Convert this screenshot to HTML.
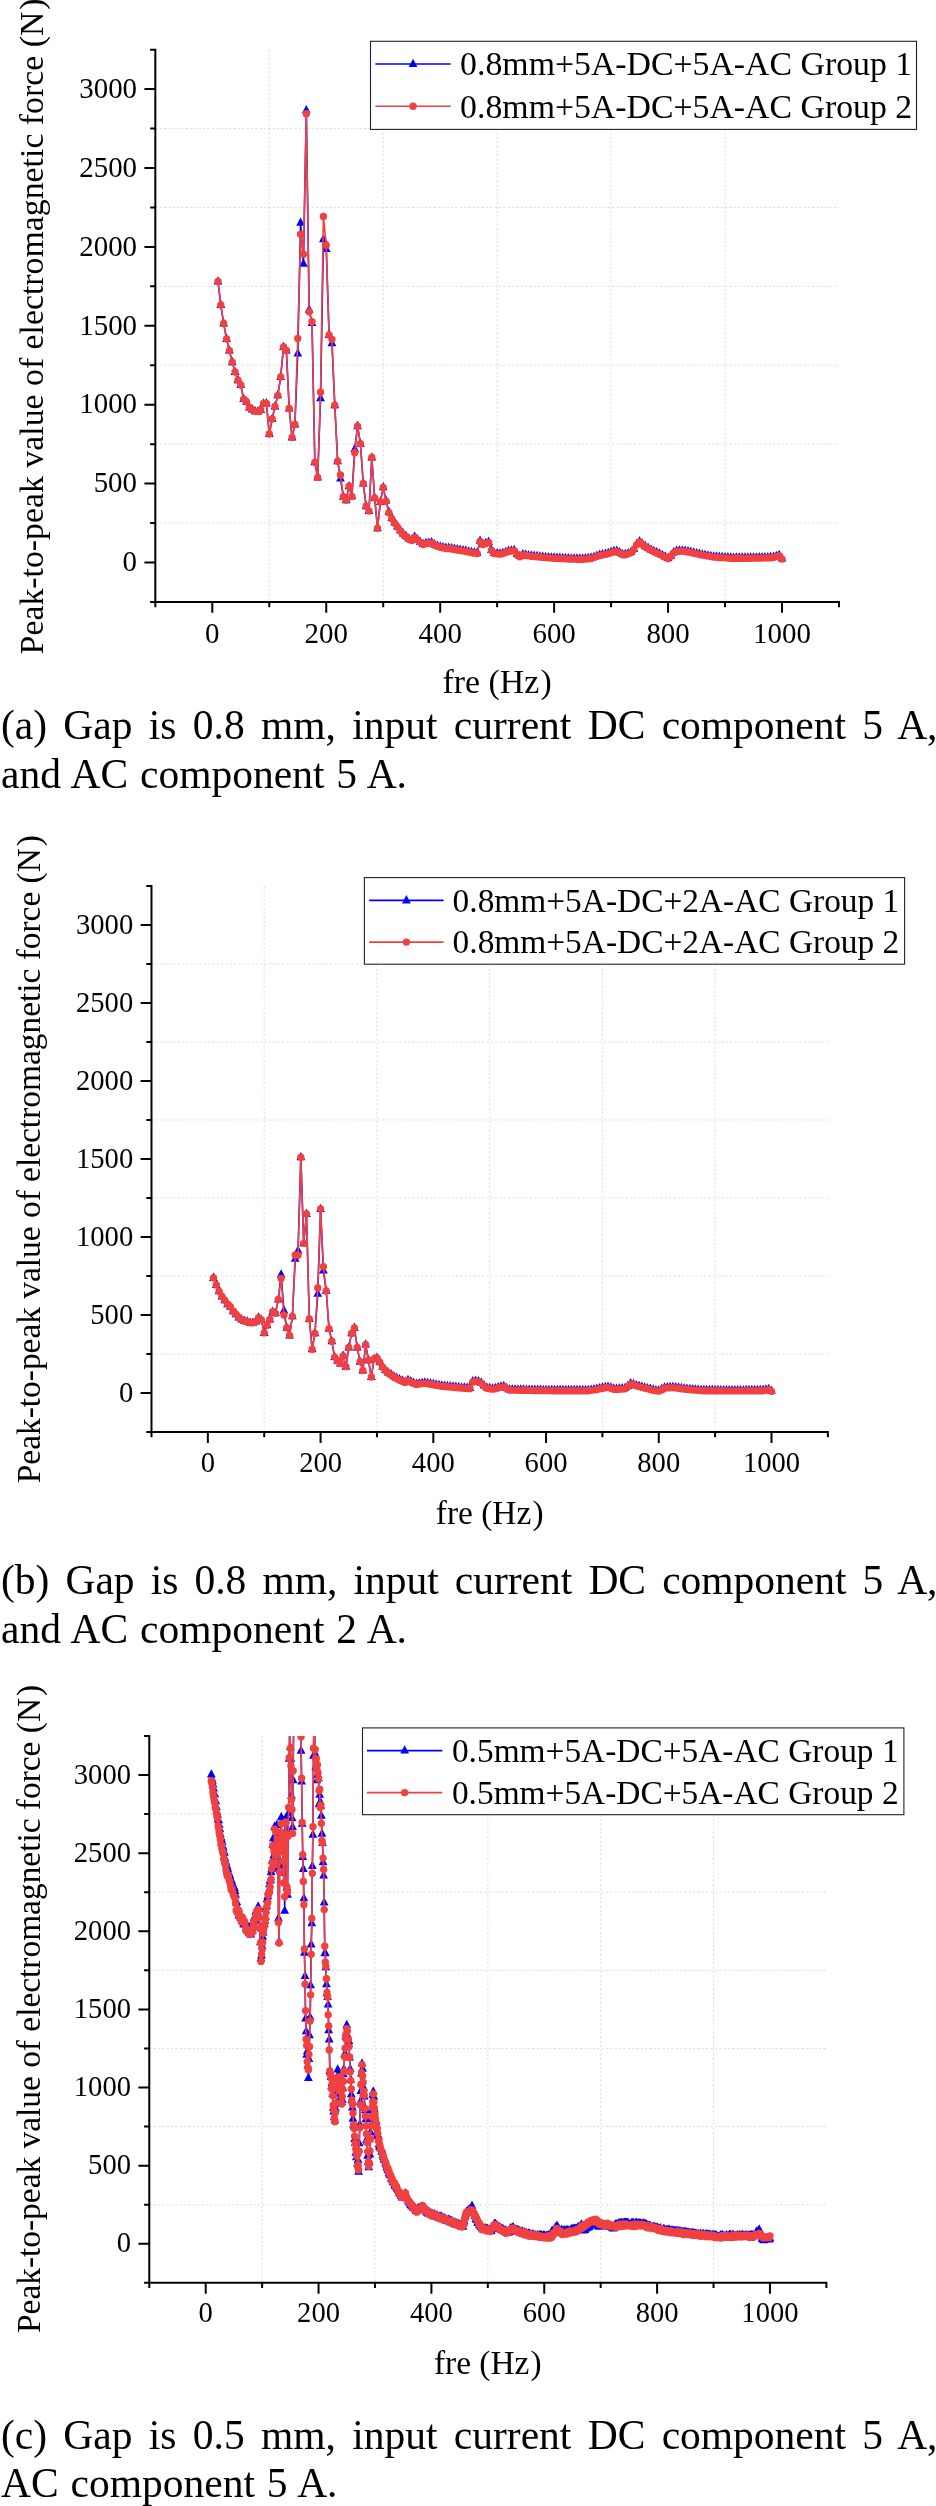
<!DOCTYPE html>
<html><head><meta charset="utf-8"><title>Figure</title>
<style>
html,body{margin:0;padding:0;background:#fff;}
body{width:936px;height:2506px;position:relative;overflow:hidden;font-family:"Liberation Serif",serif;color:#000;}
svg{position:absolute;left:0;top:0;will-change:transform;}
svg text{font-family:"Liberation Serif",serif;fill:#000;}
.cap{will-change:transform;position:absolute;left:0.5px;width:936.5px;word-spacing:1.5px;font-size:41.5px;line-height:48.5px;height:48.5px;white-space:nowrap;}
.cap.j{text-align:justify;text-align-last:justify;white-space:normal;}
</style></head><body>
<svg width="936" height="2506" viewBox="0 0 936 2506">
<g id="chart-a">
<path d="M269.27 49.65V601.95M383.21 49.65V601.95M497.15 49.65V601.95M611.09 49.65V601.95M725.03 49.65V601.95M155.33 523.05H838.97M155.33 444.15H838.97M155.33 365.25H838.97M155.33 286.35H838.97M155.33 207.45H838.97M155.33 128.55H838.97" stroke="#dedede" stroke-width="1" stroke-dasharray="2.2 2.15" fill="none"/>
<clipPath id="clip-a"><rect x="155.33" y="49.65" width="683.64" height="552.3"/></clipPath>
<g clip-path="url(#clip-a)">
<path d="M218 281.5L220.85 305.06L223.69 323.55L226.54 338.89L229.39 350.59L232.24 362.13L235.09 371.93L237.94 380.15L240.79 385.05L243.63 399.12L246.48 401.65L249.33 407.5L252.18 409.4L255.03 411.3L257.88 411.61L260.72 410.03L263.57 403.55L266.42 403.39L269.27 434.06L272.12 419.05L274.97 406.56L277.82 395.33L280.66 376.99L283.51 346.95L286.36 350.43L289.21 408.45L292.06 437.54L294.91 424.42L297.75 353.43L300.6 222.69L303.45 263.79L306.3 110.28L309.15 309.64L312 323.08L314.85 462.36L317.69 477.38L320.54 398.33L323.39 239.29L326.24 248.93L329.09 334.94L331.94 343.16L334.79 405.13L337.63 461.26L340.48 478.49L343.33 496.67L346.18 500.15L349.03 486.24L351.88 496.36L354.73 449.08L357.57 426.16L360.42 443.71L363.27 483.55L366.12 506.16L368.97 511.06L371.82 457.46L374.66 497.94L377.51 528.13L380.36 502.05L383.21 487.34L386.06 500.62L388.91 512.01L391.76 518.02L394.6 522.6L397.45 526.4L400.3 530.35L403.15 533.51L406 536.04L408.85 538.57L411.69 539.83L414.54 536.67L417.39 539.2L420.24 541.73L423.09 543.94L425.94 543L428.79 542.68L431.63 542.21L434.48 544.42L437.33 545.68L440.18 546.63L443.03 547.26L445.88 547.9L448.73 547.9L451.57 548.37L454.42 548.85L457.27 549.32L460.12 549.79L462.97 550.27L465.82 550.85L468.67 551.43L471.51 552.02L474.36 552.53L477.21 552.8L480.06 540.78L482.91 543.94L485.76 543L488.6 541.89L491.45 549.95L494.3 552.96L497.15 553.22L500 553.48L502.85 552.97L505.7 551.93L508.54 550.9L511.39 550.43L514.24 549.95L517.09 554.06L519.94 556.12L522.79 554.38L525.63 554.8L528.48 555.22L531.33 555.64L534.18 555.91L537.03 556.17L539.88 556.43L542.73 556.7L545.57 556.96L548.42 557.22L551.27 557.49L554.12 557.65L556.97 557.78L559.82 557.91L562.67 558.04L565.51 558.17L568.36 558.3L571.21 558.44L574.06 558.52L576.91 558.56L579.76 558.6L582.61 558.65L585.45 558.37L588.3 558.09L591.15 557.81L594 556.97L596.85 555.74L599.7 554.81L602.54 554.3L605.39 553.79L608.24 553L611.09 552.01L613.94 551.13L616.79 550.76L619.64 552.41L622.48 554.06L625.33 554.06L628.18 553.2L631.03 551.76L633.88 548.91L636.73 543.94L639.58 541.41L642.42 543.87L645.27 546.17L648.12 547.81L650.97 549.44L653.82 550.95L656.67 552.27L659.51 553.59L662.36 554.98L665.21 556.5L668.06 558.02L670.91 555.64L673.76 552.26L676.61 550.81L679.45 550.65L682.3 550.49L685.15 550.77L688 551.33L690.85 551.89L693.7 552.53L696.55 553.19L699.39 553.85L702.24 554.48L705.09 554.97L707.94 555.46L710.79 555.94L713.64 556.43L716.48 556.63L719.33 556.83L722.18 557.03L725.03 557.22L727.88 557.42L730.73 557.62L733.58 557.69L736.42 557.66L739.27 557.64L742.12 557.62L744.97 557.6L747.82 557.58L750.67 557.55L753.52 557.51L756.36 557.45L759.21 557.38L762.06 557.32L764.91 557.25L767.76 557.19L770.61 557.12L773.45 556.88L776.3 555.95L779.15 555.01L782 558.49" stroke="#0000ff" stroke-width="1.6" fill="none" stroke-linejoin="round"/>
<path d="M213.6 284.5L222.4 284.5L218 276.2ZM216.45 308.06L225.25 308.06L220.85 299.76ZM219.29 326.55L228.09 326.55L223.69 318.25ZM222.14 341.89L230.94 341.89L226.54 333.59ZM224.99 353.59L233.79 353.59L229.39 345.29ZM227.84 365.13L236.64 365.13L232.24 356.83ZM230.69 374.93L239.49 374.93L235.09 366.63ZM233.54 383.15L242.34 383.15L237.94 374.85ZM236.39 388.05L245.19 388.05L240.79 379.75ZM239.23 402.12L248.03 402.12L243.63 393.82ZM242.08 404.65L250.88 404.65L246.48 396.35ZM244.93 410.5L253.73 410.5L249.33 402.2ZM247.78 412.4L256.58 412.4L252.18 404.1ZM250.63 414.3L259.43 414.3L255.03 406ZM253.48 414.61L262.28 414.61L257.88 406.31ZM256.32 413.03L265.12 413.03L260.72 404.73ZM259.17 406.55L267.97 406.55L263.57 398.25ZM262.02 406.39L270.82 406.39L266.42 398.09ZM264.87 437.06L273.67 437.06L269.27 428.76ZM267.72 422.05L276.52 422.05L272.12 413.75ZM270.57 409.56L279.37 409.56L274.97 401.26ZM273.42 398.33L282.22 398.33L277.82 390.03ZM276.26 379.99L285.06 379.99L280.66 371.69ZM279.11 349.95L287.91 349.95L283.51 341.65ZM281.96 353.43L290.76 353.43L286.36 345.13ZM284.81 411.45L293.61 411.45L289.21 403.15ZM287.66 440.54L296.46 440.54L292.06 432.24ZM290.51 427.42L299.31 427.42L294.91 419.12ZM293.36 356.43L302.15 356.43L297.75 348.13ZM296.2 225.69L305 225.69L300.6 217.39ZM299.05 266.79L307.85 266.79L303.45 258.49ZM301.9 113.28L310.7 113.28L306.3 104.98ZM304.75 312.64L313.55 312.64L309.15 304.34ZM307.6 326.08L316.4 326.08L312 317.78ZM310.45 465.36L319.25 465.36L314.85 457.06ZM313.29 480.38L322.09 480.38L317.69 472.08ZM316.14 401.33L324.94 401.33L320.54 393.03ZM318.99 242.29L327.79 242.29L323.39 233.99ZM321.84 251.93L330.64 251.93L326.24 243.63ZM324.69 337.94L333.49 337.94L329.09 329.64ZM327.54 346.16L336.34 346.16L331.94 337.86ZM330.39 408.13L339.19 408.13L334.79 399.83ZM333.23 464.26L342.03 464.26L337.63 455.96ZM336.08 481.49L344.88 481.49L340.48 473.19ZM338.93 499.67L347.73 499.67L343.33 491.37ZM341.78 503.15L350.58 503.15L346.18 494.85ZM344.63 489.24L353.43 489.24L349.03 480.94ZM347.48 499.36L356.28 499.36L351.88 491.06ZM350.33 452.08L359.12 452.08L354.73 443.78ZM353.17 429.16L361.97 429.16L357.57 420.86ZM356.02 446.71L364.82 446.71L360.42 438.41ZM358.87 486.55L367.67 486.55L363.27 478.25ZM361.72 509.16L370.52 509.16L366.12 500.86ZM364.57 514.06L373.37 514.06L368.97 505.76ZM367.42 460.46L376.22 460.46L371.82 452.16ZM370.26 500.94L379.06 500.94L374.66 492.64ZM373.11 531.13L381.91 531.13L377.51 522.83ZM375.96 505.05L384.76 505.05L380.36 496.75ZM378.81 490.34L387.61 490.34L383.21 482.04ZM381.66 503.62L390.46 503.62L386.06 495.32ZM384.51 515.01L393.31 515.01L388.91 506.71ZM387.36 521.02L396.16 521.02L391.76 512.72ZM390.2 525.6L399 525.6L394.6 517.3ZM393.05 529.4L401.85 529.4L397.45 521.1ZM395.9 533.35L404.7 533.35L400.3 525.05ZM398.75 536.51L407.55 536.51L403.15 528.21ZM401.6 539.04L410.4 539.04L406 530.74ZM404.45 541.57L413.25 541.57L408.85 533.27ZM407.3 542.83L416.09 542.83L411.69 534.53ZM410.14 539.67L418.94 539.67L414.54 531.37ZM412.99 542.2L421.79 542.2L417.39 533.9ZM415.84 544.73L424.64 544.73L420.24 536.43ZM418.69 546.94L427.49 546.94L423.09 538.64ZM421.54 546L430.34 546L425.94 537.7ZM424.39 545.68L433.19 545.68L428.79 537.38ZM427.23 545.21L436.03 545.21L431.63 536.91ZM430.08 547.42L438.88 547.42L434.48 539.12ZM432.93 548.68L441.73 548.68L437.33 540.38ZM435.78 549.63L444.58 549.63L440.18 541.33ZM438.63 550.26L447.43 550.26L443.03 541.96ZM441.48 550.9L450.28 550.9L445.88 542.6ZM444.33 550.9L453.13 550.9L448.73 542.6ZM447.17 551.37L455.97 551.37L451.57 543.07ZM450.02 551.85L458.82 551.85L454.42 543.55ZM452.87 552.32L461.67 552.32L457.27 544.02ZM455.72 552.79L464.52 552.79L460.12 544.49ZM458.57 553.27L467.37 553.27L462.97 544.97ZM461.42 553.85L470.22 553.85L465.82 545.55ZM464.27 554.43L473.06 554.43L468.67 546.13ZM467.11 555.02L475.91 555.02L471.51 546.72ZM469.96 555.53L478.76 555.53L474.36 547.23ZM472.81 555.8L481.61 555.8L477.21 547.5ZM475.66 543.78L484.46 543.78L480.06 535.48ZM478.51 546.94L487.31 546.94L482.91 538.64ZM481.36 546L490.16 546L485.76 537.7ZM484.2 544.89L493 544.89L488.6 536.59ZM487.05 552.95L495.85 552.95L491.45 544.65ZM489.9 555.96L498.7 555.96L494.3 547.66ZM492.75 556.22L501.55 556.22L497.15 547.92ZM495.6 556.48L504.4 556.48L500 548.18ZM498.45 555.97L507.25 555.97L502.85 547.67ZM501.3 554.93L510.1 554.93L505.7 546.63ZM504.14 553.9L512.94 553.9L508.54 545.6ZM506.99 553.43L515.79 553.43L511.39 545.13ZM509.84 552.95L518.64 552.95L514.24 544.65ZM512.69 557.06L521.49 557.06L517.09 548.76ZM515.54 559.12L524.34 559.12L519.94 550.82ZM518.39 557.38L527.19 557.38L522.79 549.08ZM521.24 557.8L530.03 557.8L525.63 549.5ZM524.08 558.22L532.88 558.22L528.48 549.92ZM526.93 558.64L535.73 558.64L531.33 550.34ZM529.78 558.91L538.58 558.91L534.18 550.61ZM532.63 559.17L541.43 559.17L537.03 550.87ZM535.48 559.43L544.28 559.43L539.88 551.13ZM538.33 559.7L547.13 559.7L542.73 551.4ZM541.17 559.96L549.97 559.96L545.57 551.66ZM544.02 560.22L552.82 560.22L548.42 551.92ZM546.87 560.49L555.67 560.49L551.27 552.19ZM549.72 560.65L558.52 560.65L554.12 552.35ZM552.57 560.78L561.37 560.78L556.97 552.48ZM555.42 560.91L564.22 560.91L559.82 552.61ZM558.27 561.04L567.07 561.04L562.67 552.74ZM561.11 561.17L569.91 561.17L565.51 552.87ZM563.96 561.3L572.76 561.3L568.36 553ZM566.81 561.44L575.61 561.44L571.21 553.14ZM569.66 561.52L578.46 561.52L574.06 553.22ZM572.51 561.56L581.31 561.56L576.91 553.26ZM575.36 561.6L584.16 561.6L579.76 553.3ZM578.21 561.65L587 561.65L582.61 553.35ZM581.05 561.37L589.85 561.37L585.45 553.07ZM583.9 561.09L592.7 561.09L588.3 552.79ZM586.75 560.81L595.55 560.81L591.15 552.51ZM589.6 559.97L598.4 559.97L594 551.67ZM592.45 558.74L601.25 558.74L596.85 550.44ZM595.3 557.81L604.1 557.81L599.7 549.51ZM598.14 557.3L606.94 557.3L602.54 549ZM600.99 556.79L609.79 556.79L605.39 548.49ZM603.84 556L612.64 556L608.24 547.7ZM606.69 555.01L615.49 555.01L611.09 546.71ZM609.54 554.13L618.34 554.13L613.94 545.83ZM612.39 553.76L621.19 553.76L616.79 545.46ZM615.24 555.41L624.04 555.41L619.64 547.11ZM618.08 557.06L626.88 557.06L622.48 548.76ZM620.93 557.06L629.73 557.06L625.33 548.76ZM623.78 556.2L632.58 556.2L628.18 547.9ZM626.63 554.76L635.43 554.76L631.03 546.46ZM629.48 551.91L638.28 551.91L633.88 543.61ZM632.33 546.94L641.13 546.94L636.73 538.64ZM635.18 544.41L643.98 544.41L639.58 536.11ZM638.02 546.87L646.82 546.87L642.42 538.57ZM640.87 549.17L649.67 549.17L645.27 540.87ZM643.72 550.81L652.52 550.81L648.12 542.51ZM646.57 552.44L655.37 552.44L650.97 544.14ZM649.42 553.95L658.22 553.95L653.82 545.65ZM652.27 555.27L661.07 555.27L656.67 546.97ZM655.11 556.59L663.91 556.59L659.51 548.29ZM657.96 557.98L666.76 557.98L662.36 549.68ZM660.81 559.5L669.61 559.5L665.21 551.2ZM663.66 561.02L672.46 561.02L668.06 552.72ZM666.51 558.64L675.31 558.64L670.91 550.34ZM669.36 555.26L678.16 555.26L673.76 546.96ZM672.21 553.81L681.01 553.81L676.61 545.51ZM675.05 553.65L683.85 553.65L679.45 545.35ZM677.9 553.49L686.7 553.49L682.3 545.19ZM680.75 553.77L689.55 553.77L685.15 545.47ZM683.6 554.33L692.4 554.33L688 546.03ZM686.45 554.89L695.25 554.89L690.85 546.59ZM689.3 555.53L698.1 555.53L693.7 547.23ZM692.15 556.19L700.95 556.19L696.55 547.89ZM694.99 556.85L703.79 556.85L699.39 548.55ZM697.84 557.48L706.64 557.48L702.24 549.18ZM700.69 557.97L709.49 557.97L705.09 549.67ZM703.54 558.46L712.34 558.46L707.94 550.16ZM706.39 558.94L715.19 558.94L710.79 550.64ZM709.24 559.43L718.04 559.43L713.64 551.13ZM712.08 559.63L720.88 559.63L716.48 551.33ZM714.93 559.83L723.73 559.83L719.33 551.53ZM717.78 560.03L726.58 560.03L722.18 551.73ZM720.63 560.22L729.43 560.22L725.03 551.92ZM723.48 560.42L732.28 560.42L727.88 552.12ZM726.33 560.62L735.13 560.62L730.73 552.32ZM729.18 560.69L737.98 560.69L733.58 552.39ZM732.02 560.66L740.82 560.66L736.42 552.36ZM734.87 560.64L743.67 560.64L739.27 552.34ZM737.72 560.62L746.52 560.62L742.12 552.32ZM740.57 560.6L749.37 560.6L744.97 552.3ZM743.42 560.58L752.22 560.58L747.82 552.28ZM746.27 560.55L755.07 560.55L750.67 552.25ZM749.12 560.51L757.92 560.51L753.52 552.21ZM751.96 560.45L760.76 560.45L756.36 552.15ZM754.81 560.38L763.61 560.38L759.21 552.08ZM757.66 560.32L766.46 560.32L762.06 552.02ZM760.51 560.25L769.31 560.25L764.91 551.95ZM763.36 560.19L772.16 560.19L767.76 551.89ZM766.21 560.12L775.01 560.12L770.61 551.82ZM769.05 559.88L777.85 559.88L773.45 551.58ZM771.9 558.95L780.7 558.95L776.3 550.65ZM774.75 558.01L783.55 558.01L779.15 549.71ZM777.6 561.49L786.4 561.49L782 553.19Z" fill="#0000ff"/>
<path d="M218 281.5L220.85 305.06L223.69 323.55L226.54 338.89L229.39 350.59L232.24 362.13L235.09 371.93L237.94 380.15L240.79 385.05L243.63 399.12L246.48 401.65L249.33 407.5L252.18 409.4L255.03 411.3L257.88 411.61L260.72 410.03L263.57 403.55L266.42 403.39L269.27 434.06L272.12 419.05L274.97 406.56L277.82 395.33L280.66 376.99L283.51 346.95L286.36 350.43L289.21 408.45L292.06 437.54L294.91 424.42L297.75 338.57L300.6 234.23L303.45 254.15L306.3 113.75L309.15 311.85L312 321.81L314.85 462.36L317.69 477.38L320.54 392.33L323.39 216.36L326.24 245.14L329.09 334.94L331.94 339.36L334.79 405.13L337.63 461.26L340.48 475.01L343.33 496.67L346.18 500.15L349.03 486.24L351.88 496.36L354.73 452.72L357.57 426.16L360.42 443.71L363.27 483.55L366.12 506.16L368.97 511.06L371.82 457.46L374.66 497.94L377.51 528.13L380.36 502.05L383.21 487.34L386.06 501.26L388.91 512.64L391.76 518.65L394.6 523.23L397.45 527.03L400.3 530.98L403.15 534.14L406 536.67L408.85 539.2L411.69 540.47L414.54 537.3L417.39 539.83L420.24 542.36L423.09 544.58L425.94 543.63L428.79 543.31L431.63 542.84L434.48 545.05L437.33 546.32L440.18 547.26L443.03 547.9L445.88 548.53L448.73 548.53L451.57 549L454.42 549.48L457.27 549.95L460.12 550.43L462.97 550.9L465.82 551.48L468.67 552.07L471.51 552.65L474.36 553.17L477.21 553.43L480.06 541.41L482.91 544.58L485.76 543.63L488.6 542.52L491.45 550.58L494.3 553.59L497.15 553.85L500 554.12L502.85 553.6L505.7 552.57L508.54 551.53L511.39 551.06L514.24 550.58L517.09 554.7L519.94 556.75L522.79 555.01L525.63 555.43L528.48 555.85L531.33 556.28L534.18 556.54L537.03 556.8L539.88 557.07L542.73 557.33L545.57 557.59L548.42 557.86L551.27 558.12L554.12 558.28L556.97 558.41L559.82 558.54L562.67 558.67L565.51 558.81L568.36 558.94L571.21 559.07L574.06 559.15L576.91 559.19L579.76 559.24L582.61 559.28L585.45 559L588.3 558.72L591.15 558.44L594 557.6L596.85 556.38L599.7 555.44L602.54 554.93L605.39 554.42L608.24 553.63L611.09 552.64L613.94 551.76L616.79 551.39L619.64 553.04L622.48 554.7L625.33 554.7L628.18 553.83L631.03 552.4L633.88 549.55L636.73 544.58L639.58 542.05L642.42 544.51L645.27 546.8L648.12 548.44L650.97 550.08L653.82 551.59L656.67 552.9L659.51 554.22L662.36 555.62L665.21 557.13L668.06 558.65L670.91 556.28L673.76 552.89L676.61 551.44L679.45 551.28L682.3 551.12L685.15 551.4L688 551.96L690.85 552.53L693.7 553.17L696.55 553.83L699.39 554.48L702.24 555.11L705.09 555.6L707.94 556.09L710.79 556.58L713.64 557.07L716.48 557.26L719.33 557.46L722.18 557.66L725.03 557.86L727.88 558.05L730.73 558.25L733.58 558.32L736.42 558.3L739.27 558.27L742.12 558.25L744.97 558.23L747.82 558.21L750.67 558.19L753.52 558.15L756.36 558.08L759.21 558.02L762.06 557.95L764.91 557.88L767.76 557.82L770.61 557.75L773.45 557.51L776.3 556.58L779.15 555.64L782 559.12" stroke="#f04040" stroke-width="1.6" fill="none" stroke-linejoin="round"/>
<path d="M214.3 281.5a3.7 3.7 0 1 0 7.4 0a3.7 3.7 0 1 0 -7.4 0ZM217.15 305.06a3.7 3.7 0 1 0 7.4 0a3.7 3.7 0 1 0 -7.4 0ZM219.99 323.55a3.7 3.7 0 1 0 7.4 0a3.7 3.7 0 1 0 -7.4 0ZM222.84 338.89a3.7 3.7 0 1 0 7.4 0a3.7 3.7 0 1 0 -7.4 0ZM225.69 350.59a3.7 3.7 0 1 0 7.4 0a3.7 3.7 0 1 0 -7.4 0ZM228.54 362.13a3.7 3.7 0 1 0 7.4 0a3.7 3.7 0 1 0 -7.4 0ZM231.39 371.93a3.7 3.7 0 1 0 7.4 0a3.7 3.7 0 1 0 -7.4 0ZM234.24 380.15a3.7 3.7 0 1 0 7.4 0a3.7 3.7 0 1 0 -7.4 0ZM237.09 385.05a3.7 3.7 0 1 0 7.4 0a3.7 3.7 0 1 0 -7.4 0ZM239.93 399.12a3.7 3.7 0 1 0 7.4 0a3.7 3.7 0 1 0 -7.4 0ZM242.78 401.65a3.7 3.7 0 1 0 7.4 0a3.7 3.7 0 1 0 -7.4 0ZM245.63 407.5a3.7 3.7 0 1 0 7.4 0a3.7 3.7 0 1 0 -7.4 0ZM248.48 409.4a3.7 3.7 0 1 0 7.4 0a3.7 3.7 0 1 0 -7.4 0ZM251.33 411.3a3.7 3.7 0 1 0 7.4 0a3.7 3.7 0 1 0 -7.4 0ZM254.18 411.61a3.7 3.7 0 1 0 7.4 0a3.7 3.7 0 1 0 -7.4 0ZM257.02 410.03a3.7 3.7 0 1 0 7.4 0a3.7 3.7 0 1 0 -7.4 0ZM259.87 403.55a3.7 3.7 0 1 0 7.4 0a3.7 3.7 0 1 0 -7.4 0ZM262.72 403.39a3.7 3.7 0 1 0 7.4 0a3.7 3.7 0 1 0 -7.4 0ZM265.57 434.06a3.7 3.7 0 1 0 7.4 0a3.7 3.7 0 1 0 -7.4 0ZM268.42 419.05a3.7 3.7 0 1 0 7.4 0a3.7 3.7 0 1 0 -7.4 0ZM271.27 406.56a3.7 3.7 0 1 0 7.4 0a3.7 3.7 0 1 0 -7.4 0ZM274.12 395.33a3.7 3.7 0 1 0 7.4 0a3.7 3.7 0 1 0 -7.4 0ZM276.96 376.99a3.7 3.7 0 1 0 7.4 0a3.7 3.7 0 1 0 -7.4 0ZM279.81 346.95a3.7 3.7 0 1 0 7.4 0a3.7 3.7 0 1 0 -7.4 0ZM282.66 350.43a3.7 3.7 0 1 0 7.4 0a3.7 3.7 0 1 0 -7.4 0ZM285.51 408.45a3.7 3.7 0 1 0 7.4 0a3.7 3.7 0 1 0 -7.4 0ZM288.36 437.54a3.7 3.7 0 1 0 7.4 0a3.7 3.7 0 1 0 -7.4 0ZM291.21 424.42a3.7 3.7 0 1 0 7.4 0a3.7 3.7 0 1 0 -7.4 0ZM294.06 338.57a3.7 3.7 0 1 0 7.4 0a3.7 3.7 0 1 0 -7.4 0ZM296.9 234.23a3.7 3.7 0 1 0 7.4 0a3.7 3.7 0 1 0 -7.4 0ZM299.75 254.15a3.7 3.7 0 1 0 7.4 0a3.7 3.7 0 1 0 -7.4 0ZM302.6 113.75a3.7 3.7 0 1 0 7.4 0a3.7 3.7 0 1 0 -7.4 0ZM305.45 311.85a3.7 3.7 0 1 0 7.4 0a3.7 3.7 0 1 0 -7.4 0ZM308.3 321.81a3.7 3.7 0 1 0 7.4 0a3.7 3.7 0 1 0 -7.4 0ZM311.15 462.36a3.7 3.7 0 1 0 7.4 0a3.7 3.7 0 1 0 -7.4 0ZM313.99 477.38a3.7 3.7 0 1 0 7.4 0a3.7 3.7 0 1 0 -7.4 0ZM316.84 392.33a3.7 3.7 0 1 0 7.4 0a3.7 3.7 0 1 0 -7.4 0ZM319.69 216.36a3.7 3.7 0 1 0 7.4 0a3.7 3.7 0 1 0 -7.4 0ZM322.54 245.14a3.7 3.7 0 1 0 7.4 0a3.7 3.7 0 1 0 -7.4 0ZM325.39 334.94a3.7 3.7 0 1 0 7.4 0a3.7 3.7 0 1 0 -7.4 0ZM328.24 339.36a3.7 3.7 0 1 0 7.4 0a3.7 3.7 0 1 0 -7.4 0ZM331.09 405.13a3.7 3.7 0 1 0 7.4 0a3.7 3.7 0 1 0 -7.4 0ZM333.93 461.26a3.7 3.7 0 1 0 7.4 0a3.7 3.7 0 1 0 -7.4 0ZM336.78 475.01a3.7 3.7 0 1 0 7.4 0a3.7 3.7 0 1 0 -7.4 0ZM339.63 496.67a3.7 3.7 0 1 0 7.4 0a3.7 3.7 0 1 0 -7.4 0ZM342.48 500.15a3.7 3.7 0 1 0 7.4 0a3.7 3.7 0 1 0 -7.4 0ZM345.33 486.24a3.7 3.7 0 1 0 7.4 0a3.7 3.7 0 1 0 -7.4 0ZM348.18 496.36a3.7 3.7 0 1 0 7.4 0a3.7 3.7 0 1 0 -7.4 0ZM351.03 452.72a3.7 3.7 0 1 0 7.4 0a3.7 3.7 0 1 0 -7.4 0ZM353.87 426.16a3.7 3.7 0 1 0 7.4 0a3.7 3.7 0 1 0 -7.4 0ZM356.72 443.71a3.7 3.7 0 1 0 7.4 0a3.7 3.7 0 1 0 -7.4 0ZM359.57 483.55a3.7 3.7 0 1 0 7.4 0a3.7 3.7 0 1 0 -7.4 0ZM362.42 506.16a3.7 3.7 0 1 0 7.4 0a3.7 3.7 0 1 0 -7.4 0ZM365.27 511.06a3.7 3.7 0 1 0 7.4 0a3.7 3.7 0 1 0 -7.4 0ZM368.12 457.46a3.7 3.7 0 1 0 7.4 0a3.7 3.7 0 1 0 -7.4 0ZM370.96 497.94a3.7 3.7 0 1 0 7.4 0a3.7 3.7 0 1 0 -7.4 0ZM373.81 528.13a3.7 3.7 0 1 0 7.4 0a3.7 3.7 0 1 0 -7.4 0ZM376.66 502.05a3.7 3.7 0 1 0 7.4 0a3.7 3.7 0 1 0 -7.4 0ZM379.51 487.34a3.7 3.7 0 1 0 7.4 0a3.7 3.7 0 1 0 -7.4 0ZM382.36 501.26a3.7 3.7 0 1 0 7.4 0a3.7 3.7 0 1 0 -7.4 0ZM385.21 512.64a3.7 3.7 0 1 0 7.4 0a3.7 3.7 0 1 0 -7.4 0ZM388.06 518.65a3.7 3.7 0 1 0 7.4 0a3.7 3.7 0 1 0 -7.4 0ZM390.9 523.23a3.7 3.7 0 1 0 7.4 0a3.7 3.7 0 1 0 -7.4 0ZM393.75 527.03a3.7 3.7 0 1 0 7.4 0a3.7 3.7 0 1 0 -7.4 0ZM396.6 530.98a3.7 3.7 0 1 0 7.4 0a3.7 3.7 0 1 0 -7.4 0ZM399.45 534.14a3.7 3.7 0 1 0 7.4 0a3.7 3.7 0 1 0 -7.4 0ZM402.3 536.67a3.7 3.7 0 1 0 7.4 0a3.7 3.7 0 1 0 -7.4 0ZM405.15 539.2a3.7 3.7 0 1 0 7.4 0a3.7 3.7 0 1 0 -7.4 0ZM408 540.47a3.7 3.7 0 1 0 7.4 0a3.7 3.7 0 1 0 -7.4 0ZM410.84 537.3a3.7 3.7 0 1 0 7.4 0a3.7 3.7 0 1 0 -7.4 0ZM413.69 539.83a3.7 3.7 0 1 0 7.4 0a3.7 3.7 0 1 0 -7.4 0ZM416.54 542.36a3.7 3.7 0 1 0 7.4 0a3.7 3.7 0 1 0 -7.4 0ZM419.39 544.58a3.7 3.7 0 1 0 7.4 0a3.7 3.7 0 1 0 -7.4 0ZM422.24 543.63a3.7 3.7 0 1 0 7.4 0a3.7 3.7 0 1 0 -7.4 0ZM425.09 543.31a3.7 3.7 0 1 0 7.4 0a3.7 3.7 0 1 0 -7.4 0ZM427.93 542.84a3.7 3.7 0 1 0 7.4 0a3.7 3.7 0 1 0 -7.4 0ZM430.78 545.05a3.7 3.7 0 1 0 7.4 0a3.7 3.7 0 1 0 -7.4 0ZM433.63 546.32a3.7 3.7 0 1 0 7.4 0a3.7 3.7 0 1 0 -7.4 0ZM436.48 547.26a3.7 3.7 0 1 0 7.4 0a3.7 3.7 0 1 0 -7.4 0ZM439.33 547.9a3.7 3.7 0 1 0 7.4 0a3.7 3.7 0 1 0 -7.4 0ZM442.18 548.53a3.7 3.7 0 1 0 7.4 0a3.7 3.7 0 1 0 -7.4 0ZM445.03 548.53a3.7 3.7 0 1 0 7.4 0a3.7 3.7 0 1 0 -7.4 0ZM447.87 549a3.7 3.7 0 1 0 7.4 0a3.7 3.7 0 1 0 -7.4 0ZM450.72 549.48a3.7 3.7 0 1 0 7.4 0a3.7 3.7 0 1 0 -7.4 0ZM453.57 549.95a3.7 3.7 0 1 0 7.4 0a3.7 3.7 0 1 0 -7.4 0ZM456.42 550.43a3.7 3.7 0 1 0 7.4 0a3.7 3.7 0 1 0 -7.4 0ZM459.27 550.9a3.7 3.7 0 1 0 7.4 0a3.7 3.7 0 1 0 -7.4 0ZM462.12 551.48a3.7 3.7 0 1 0 7.4 0a3.7 3.7 0 1 0 -7.4 0ZM464.97 552.07a3.7 3.7 0 1 0 7.4 0a3.7 3.7 0 1 0 -7.4 0ZM467.81 552.65a3.7 3.7 0 1 0 7.4 0a3.7 3.7 0 1 0 -7.4 0ZM470.66 553.17a3.7 3.7 0 1 0 7.4 0a3.7 3.7 0 1 0 -7.4 0ZM473.51 553.43a3.7 3.7 0 1 0 7.4 0a3.7 3.7 0 1 0 -7.4 0ZM476.36 541.41a3.7 3.7 0 1 0 7.4 0a3.7 3.7 0 1 0 -7.4 0ZM479.21 544.58a3.7 3.7 0 1 0 7.4 0a3.7 3.7 0 1 0 -7.4 0ZM482.06 543.63a3.7 3.7 0 1 0 7.4 0a3.7 3.7 0 1 0 -7.4 0ZM484.9 542.52a3.7 3.7 0 1 0 7.4 0a3.7 3.7 0 1 0 -7.4 0ZM487.75 550.58a3.7 3.7 0 1 0 7.4 0a3.7 3.7 0 1 0 -7.4 0ZM490.6 553.59a3.7 3.7 0 1 0 7.4 0a3.7 3.7 0 1 0 -7.4 0ZM493.45 553.85a3.7 3.7 0 1 0 7.4 0a3.7 3.7 0 1 0 -7.4 0ZM496.3 554.12a3.7 3.7 0 1 0 7.4 0a3.7 3.7 0 1 0 -7.4 0ZM499.15 553.6a3.7 3.7 0 1 0 7.4 0a3.7 3.7 0 1 0 -7.4 0ZM502 552.57a3.7 3.7 0 1 0 7.4 0a3.7 3.7 0 1 0 -7.4 0ZM504.84 551.53a3.7 3.7 0 1 0 7.4 0a3.7 3.7 0 1 0 -7.4 0ZM507.69 551.06a3.7 3.7 0 1 0 7.4 0a3.7 3.7 0 1 0 -7.4 0ZM510.54 550.58a3.7 3.7 0 1 0 7.4 0a3.7 3.7 0 1 0 -7.4 0ZM513.39 554.7a3.7 3.7 0 1 0 7.4 0a3.7 3.7 0 1 0 -7.4 0ZM516.24 556.75a3.7 3.7 0 1 0 7.4 0a3.7 3.7 0 1 0 -7.4 0ZM519.09 555.01a3.7 3.7 0 1 0 7.4 0a3.7 3.7 0 1 0 -7.4 0ZM521.93 555.43a3.7 3.7 0 1 0 7.4 0a3.7 3.7 0 1 0 -7.4 0ZM524.78 555.85a3.7 3.7 0 1 0 7.4 0a3.7 3.7 0 1 0 -7.4 0ZM527.63 556.28a3.7 3.7 0 1 0 7.4 0a3.7 3.7 0 1 0 -7.4 0ZM530.48 556.54a3.7 3.7 0 1 0 7.4 0a3.7 3.7 0 1 0 -7.4 0ZM533.33 556.8a3.7 3.7 0 1 0 7.4 0a3.7 3.7 0 1 0 -7.4 0ZM536.18 557.07a3.7 3.7 0 1 0 7.4 0a3.7 3.7 0 1 0 -7.4 0ZM539.03 557.33a3.7 3.7 0 1 0 7.4 0a3.7 3.7 0 1 0 -7.4 0ZM541.87 557.59a3.7 3.7 0 1 0 7.4 0a3.7 3.7 0 1 0 -7.4 0ZM544.72 557.86a3.7 3.7 0 1 0 7.4 0a3.7 3.7 0 1 0 -7.4 0ZM547.57 558.12a3.7 3.7 0 1 0 7.4 0a3.7 3.7 0 1 0 -7.4 0ZM550.42 558.28a3.7 3.7 0 1 0 7.4 0a3.7 3.7 0 1 0 -7.4 0ZM553.27 558.41a3.7 3.7 0 1 0 7.4 0a3.7 3.7 0 1 0 -7.4 0ZM556.12 558.54a3.7 3.7 0 1 0 7.4 0a3.7 3.7 0 1 0 -7.4 0ZM558.97 558.67a3.7 3.7 0 1 0 7.4 0a3.7 3.7 0 1 0 -7.4 0ZM561.81 558.81a3.7 3.7 0 1 0 7.4 0a3.7 3.7 0 1 0 -7.4 0ZM564.66 558.94a3.7 3.7 0 1 0 7.4 0a3.7 3.7 0 1 0 -7.4 0ZM567.51 559.07a3.7 3.7 0 1 0 7.4 0a3.7 3.7 0 1 0 -7.4 0ZM570.36 559.15a3.7 3.7 0 1 0 7.4 0a3.7 3.7 0 1 0 -7.4 0ZM573.21 559.19a3.7 3.7 0 1 0 7.4 0a3.7 3.7 0 1 0 -7.4 0ZM576.06 559.24a3.7 3.7 0 1 0 7.4 0a3.7 3.7 0 1 0 -7.4 0ZM578.9 559.28a3.7 3.7 0 1 0 7.4 0a3.7 3.7 0 1 0 -7.4 0ZM581.75 559a3.7 3.7 0 1 0 7.4 0a3.7 3.7 0 1 0 -7.4 0ZM584.6 558.72a3.7 3.7 0 1 0 7.4 0a3.7 3.7 0 1 0 -7.4 0ZM587.45 558.44a3.7 3.7 0 1 0 7.4 0a3.7 3.7 0 1 0 -7.4 0ZM590.3 557.6a3.7 3.7 0 1 0 7.4 0a3.7 3.7 0 1 0 -7.4 0ZM593.15 556.38a3.7 3.7 0 1 0 7.4 0a3.7 3.7 0 1 0 -7.4 0ZM596 555.44a3.7 3.7 0 1 0 7.4 0a3.7 3.7 0 1 0 -7.4 0ZM598.84 554.93a3.7 3.7 0 1 0 7.4 0a3.7 3.7 0 1 0 -7.4 0ZM601.69 554.42a3.7 3.7 0 1 0 7.4 0a3.7 3.7 0 1 0 -7.4 0ZM604.54 553.63a3.7 3.7 0 1 0 7.4 0a3.7 3.7 0 1 0 -7.4 0ZM607.39 552.64a3.7 3.7 0 1 0 7.4 0a3.7 3.7 0 1 0 -7.4 0ZM610.24 551.76a3.7 3.7 0 1 0 7.4 0a3.7 3.7 0 1 0 -7.4 0ZM613.09 551.39a3.7 3.7 0 1 0 7.4 0a3.7 3.7 0 1 0 -7.4 0ZM615.94 553.04a3.7 3.7 0 1 0 7.4 0a3.7 3.7 0 1 0 -7.4 0ZM618.78 554.7a3.7 3.7 0 1 0 7.4 0a3.7 3.7 0 1 0 -7.4 0ZM621.63 554.7a3.7 3.7 0 1 0 7.4 0a3.7 3.7 0 1 0 -7.4 0ZM624.48 553.83a3.7 3.7 0 1 0 7.4 0a3.7 3.7 0 1 0 -7.4 0ZM627.33 552.4a3.7 3.7 0 1 0 7.4 0a3.7 3.7 0 1 0 -7.4 0ZM630.18 549.55a3.7 3.7 0 1 0 7.4 0a3.7 3.7 0 1 0 -7.4 0ZM633.03 544.58a3.7 3.7 0 1 0 7.4 0a3.7 3.7 0 1 0 -7.4 0ZM635.88 542.05a3.7 3.7 0 1 0 7.4 0a3.7 3.7 0 1 0 -7.4 0ZM638.72 544.51a3.7 3.7 0 1 0 7.4 0a3.7 3.7 0 1 0 -7.4 0ZM641.57 546.8a3.7 3.7 0 1 0 7.4 0a3.7 3.7 0 1 0 -7.4 0ZM644.42 548.44a3.7 3.7 0 1 0 7.4 0a3.7 3.7 0 1 0 -7.4 0ZM647.27 550.08a3.7 3.7 0 1 0 7.4 0a3.7 3.7 0 1 0 -7.4 0ZM650.12 551.59a3.7 3.7 0 1 0 7.4 0a3.7 3.7 0 1 0 -7.4 0ZM652.97 552.9a3.7 3.7 0 1 0 7.4 0a3.7 3.7 0 1 0 -7.4 0ZM655.81 554.22a3.7 3.7 0 1 0 7.4 0a3.7 3.7 0 1 0 -7.4 0ZM658.66 555.62a3.7 3.7 0 1 0 7.4 0a3.7 3.7 0 1 0 -7.4 0ZM661.51 557.13a3.7 3.7 0 1 0 7.4 0a3.7 3.7 0 1 0 -7.4 0ZM664.36 558.65a3.7 3.7 0 1 0 7.4 0a3.7 3.7 0 1 0 -7.4 0ZM667.21 556.28a3.7 3.7 0 1 0 7.4 0a3.7 3.7 0 1 0 -7.4 0ZM670.06 552.89a3.7 3.7 0 1 0 7.4 0a3.7 3.7 0 1 0 -7.4 0ZM672.91 551.44a3.7 3.7 0 1 0 7.4 0a3.7 3.7 0 1 0 -7.4 0ZM675.75 551.28a3.7 3.7 0 1 0 7.4 0a3.7 3.7 0 1 0 -7.4 0ZM678.6 551.12a3.7 3.7 0 1 0 7.4 0a3.7 3.7 0 1 0 -7.4 0ZM681.45 551.4a3.7 3.7 0 1 0 7.4 0a3.7 3.7 0 1 0 -7.4 0ZM684.3 551.96a3.7 3.7 0 1 0 7.4 0a3.7 3.7 0 1 0 -7.4 0ZM687.15 552.53a3.7 3.7 0 1 0 7.4 0a3.7 3.7 0 1 0 -7.4 0ZM690 553.17a3.7 3.7 0 1 0 7.4 0a3.7 3.7 0 1 0 -7.4 0ZM692.85 553.83a3.7 3.7 0 1 0 7.4 0a3.7 3.7 0 1 0 -7.4 0ZM695.69 554.48a3.7 3.7 0 1 0 7.4 0a3.7 3.7 0 1 0 -7.4 0ZM698.54 555.11a3.7 3.7 0 1 0 7.4 0a3.7 3.7 0 1 0 -7.4 0ZM701.39 555.6a3.7 3.7 0 1 0 7.4 0a3.7 3.7 0 1 0 -7.4 0ZM704.24 556.09a3.7 3.7 0 1 0 7.4 0a3.7 3.7 0 1 0 -7.4 0ZM707.09 556.58a3.7 3.7 0 1 0 7.4 0a3.7 3.7 0 1 0 -7.4 0ZM709.94 557.07a3.7 3.7 0 1 0 7.4 0a3.7 3.7 0 1 0 -7.4 0ZM712.78 557.26a3.7 3.7 0 1 0 7.4 0a3.7 3.7 0 1 0 -7.4 0ZM715.63 557.46a3.7 3.7 0 1 0 7.4 0a3.7 3.7 0 1 0 -7.4 0ZM718.48 557.66a3.7 3.7 0 1 0 7.4 0a3.7 3.7 0 1 0 -7.4 0ZM721.33 557.86a3.7 3.7 0 1 0 7.4 0a3.7 3.7 0 1 0 -7.4 0ZM724.18 558.05a3.7 3.7 0 1 0 7.4 0a3.7 3.7 0 1 0 -7.4 0ZM727.03 558.25a3.7 3.7 0 1 0 7.4 0a3.7 3.7 0 1 0 -7.4 0ZM729.88 558.32a3.7 3.7 0 1 0 7.4 0a3.7 3.7 0 1 0 -7.4 0ZM732.72 558.3a3.7 3.7 0 1 0 7.4 0a3.7 3.7 0 1 0 -7.4 0ZM735.57 558.27a3.7 3.7 0 1 0 7.4 0a3.7 3.7 0 1 0 -7.4 0ZM738.42 558.25a3.7 3.7 0 1 0 7.4 0a3.7 3.7 0 1 0 -7.4 0ZM741.27 558.23a3.7 3.7 0 1 0 7.4 0a3.7 3.7 0 1 0 -7.4 0ZM744.12 558.21a3.7 3.7 0 1 0 7.4 0a3.7 3.7 0 1 0 -7.4 0ZM746.97 558.19a3.7 3.7 0 1 0 7.4 0a3.7 3.7 0 1 0 -7.4 0ZM749.82 558.15a3.7 3.7 0 1 0 7.4 0a3.7 3.7 0 1 0 -7.4 0ZM752.66 558.08a3.7 3.7 0 1 0 7.4 0a3.7 3.7 0 1 0 -7.4 0ZM755.51 558.02a3.7 3.7 0 1 0 7.4 0a3.7 3.7 0 1 0 -7.4 0ZM758.36 557.95a3.7 3.7 0 1 0 7.4 0a3.7 3.7 0 1 0 -7.4 0ZM761.21 557.88a3.7 3.7 0 1 0 7.4 0a3.7 3.7 0 1 0 -7.4 0ZM764.06 557.82a3.7 3.7 0 1 0 7.4 0a3.7 3.7 0 1 0 -7.4 0ZM766.91 557.75a3.7 3.7 0 1 0 7.4 0a3.7 3.7 0 1 0 -7.4 0ZM769.75 557.51a3.7 3.7 0 1 0 7.4 0a3.7 3.7 0 1 0 -7.4 0ZM772.6 556.58a3.7 3.7 0 1 0 7.4 0a3.7 3.7 0 1 0 -7.4 0ZM775.45 555.64a3.7 3.7 0 1 0 7.4 0a3.7 3.7 0 1 0 -7.4 0ZM778.3 559.12a3.7 3.7 0 1 0 7.4 0a3.7 3.7 0 1 0 -7.4 0Z" fill="#f04040"/>
</g>
<path d="M155.33 48.65V602.95M154.33 601.95H839.97M155.33 562.5h-10.9M155.33 483.6h-10.9M155.33 404.7h-10.9M155.33 325.8h-10.9M155.33 246.9h-10.9M155.33 168h-10.9M155.33 89.1h-10.9M155.33 601.95h-5.2M155.33 523.05h-5.2M155.33 444.15h-5.2M155.33 365.25h-5.2M155.33 286.35h-5.2M155.33 207.45h-5.2M155.33 128.55h-5.2M155.33 49.65h-5.2M212.3 601.95v10.9M326.24 601.95v10.9M440.18 601.95v10.9M554.12 601.95v10.9M668.06 601.95v10.9M782 601.95v10.9M155.33 601.95v5.2M269.27 601.95v5.2M383.21 601.95v5.2M497.15 601.95v5.2M611.09 601.95v5.2M725.03 601.95v5.2M838.97 601.95v5.2" stroke="#000" stroke-width="2" fill="none"/>
<text x="137.03" y="571.26" font-size="28.9" text-anchor="end">0</text>
<text x="137.03" y="492.36" font-size="28.9" text-anchor="end">500</text>
<text x="137.03" y="413.46" font-size="28.9" text-anchor="end">1000</text>
<text x="137.03" y="334.56" font-size="28.9" text-anchor="end">1500</text>
<text x="137.03" y="255.66" font-size="28.9" text-anchor="end">2000</text>
<text x="137.03" y="176.76" font-size="28.9" text-anchor="end">2500</text>
<text x="137.03" y="97.86" font-size="28.9" text-anchor="end">3000</text>
<text x="212.3" y="642.6" font-size="28.9" text-anchor="middle">0</text>
<text x="326.24" y="642.6" font-size="28.9" text-anchor="middle">200</text>
<text x="440.18" y="642.6" font-size="28.9" text-anchor="middle">400</text>
<text x="554.12" y="642.6" font-size="28.9" text-anchor="middle">600</text>
<text x="668.06" y="642.6" font-size="28.9" text-anchor="middle">800</text>
<text x="782" y="642.6" font-size="28.9" text-anchor="middle">1000</text>
<text x="497.15" y="692.9" font-size="33.8" text-anchor="middle">fre (Hz<tspan dx="1.2">)</tspan></text>
<text transform="translate(42.7 654.4) rotate(-90)" font-size="33.8">Peak-to-peak value of electromagnetic force (N<tspan dx="2">)</tspan></text>
<rect x="370.5" y="41.3" width="546" height="88.1" fill="#fff" stroke="#222" stroke-width="1.1"/>
<path d="M375.4 64H450.7" stroke="#0000ff" stroke-width="1.6"/>
<path d="M408.65 67L417.45 67L413.05 58.7Z" fill="#0000ff"/>
<path d="M375.4 106.3H450.7" stroke="#f04040" stroke-width="1.6"/>
<circle cx="413.05" cy="106.3" r="3.7" fill="#f04040"/>
<text x="460.1" y="75.49" font-size="33.8">0.8mm+5A-DC+5A-AC Group 1</text>
<text x="460.1" y="117.79" font-size="33.8">0.8mm+5A-DC+5A-AC Group 2</text>
</g>
<g id="chart-b">
<path d="M264.21 885.9V1432.01M376.94 885.9V1432.01M489.67 885.9V1432.01M602.4 885.9V1432.01M715.13 885.9V1432.01M151.49 1353.99H827.87M151.49 1275.98H827.87M151.49 1197.96H827.87M151.49 1119.95H827.87M151.49 1041.93H827.87M151.49 963.92H827.87" stroke="#dedede" stroke-width="1" stroke-dasharray="2.2 2.15" fill="none"/>
<clipPath id="clip-b"><rect x="151.49" y="885.9" width="676.38" height="546.11"/></clipPath>
<g clip-path="url(#clip-b)">
<path d="M213.49 1277.89L216.3 1284.92L219.12 1291.33L221.94 1296.49L224.76 1300.24L227.58 1304.14L230.4 1306.64L233.21 1311.18L236.03 1314.3L238.85 1317.58L241.67 1319.46L244.49 1321.02L247.31 1321.49L250.12 1322.74L252.94 1322.74L255.76 1321.49L258.58 1317.58L261.4 1320.08L264.21 1332.9L267.03 1325.24L269.85 1319.46L272.67 1311.8L275.49 1313.36L278.31 1299.46L281.12 1274.45L283.94 1310.55L286.76 1327.74L289.58 1335.4L292.4 1316.33L295.22 1258.67L298.03 1250.55L300.85 1157.26L303.67 1243.36L306.49 1213.98L309.31 1318.99L312.13 1349.3L314.94 1333.36L317.76 1293.83L320.58 1208.98L323.4 1270.55L326.22 1291.02L329.03 1328.68L331.85 1341.33L334.67 1357.12L337.49 1360.87L340.31 1363.52L343.13 1355.87L345.94 1366.65L348.76 1347.43L351.58 1333.36L354.4 1327.9L357.22 1347.43L360.04 1361.8L362.85 1370.55L365.67 1344.62L368.49 1360.24L371.31 1376.96L374.13 1358.99L376.94 1357.9L379.76 1361.65L382.58 1366.65L385.4 1369.93L388.22 1372.43L391.04 1374.31L393.85 1376.34L396.67 1377.9L399.49 1379.31L402.31 1380.56L405.13 1381.81L407.95 1380.09L410.76 1381.34L413.58 1382.81L416.4 1383.91L419.22 1383.47L422.04 1383.03L424.86 1382.59L427.67 1383.1L430.49 1383.61L433.31 1384.12L436.13 1384.63L438.95 1385.15L441.76 1385.61L444.58 1385.87L447.4 1386.13L450.22 1386.39L453.04 1386.65L455.86 1386.91L458.67 1387.17L461.49 1387.43L464.31 1387.63L467.13 1387.82L469.95 1388.02L472.77 1381.34L475.58 1380.78L478.4 1381.34L481.22 1382.64L484.04 1385.49L486.86 1387.61L489.67 1388.06L492.49 1388.5L495.31 1388.13L498.13 1387.2L500.95 1386.47L503.77 1386.02L506.58 1387.93L509.4 1389.47L512.22 1389.5L515.04 1389.53L517.86 1389.57L520.68 1389.6L523.49 1389.64L526.31 1389.68L529.13 1389.72L531.95 1389.77L534.77 1389.81L537.59 1389.85L540.4 1389.9L543.22 1389.94L546.04 1389.98L548.86 1390.03L551.68 1390.07L554.49 1390.09L557.31 1390.09L560.13 1390.09L562.95 1390.09L565.77 1390.09L568.59 1390.09L571.4 1390.09L574.22 1390.09L577.04 1390.09L579.86 1390.09L582.68 1390.09L585.5 1390.09L588.31 1390.09L591.13 1389.73L593.95 1389.28L596.77 1388.84L599.59 1388.21L602.4 1387.59L605.22 1387.16L608.04 1386.73L610.86 1387.5L613.68 1388.57L616.5 1388.84L619.31 1388.58L622.13 1388.32L624.95 1388.06L627.77 1386.02L630.59 1383.37L633.41 1384.29L636.22 1385.21L639.04 1385.99L641.86 1386.73L644.68 1387.47L647.5 1388.19L650.32 1388.85L653.13 1389.52L655.95 1390.18L658.77 1390.45L661.59 1389.15L664.41 1387.43L667.22 1387.28L670.04 1387.14L672.86 1386.99L675.68 1387.27L678.5 1387.67L681.32 1388.06L684.13 1388.45L686.95 1388.78L689.77 1389.02L692.59 1389.26L695.41 1389.51L698.23 1389.75L701.04 1389.99L703.86 1390.1L706.68 1390.11L709.5 1390.12L712.32 1390.14L715.13 1390.15L717.95 1390.17L720.77 1390.18L723.59 1390.2L726.41 1390.21L729.23 1390.23L732.04 1390.24L734.86 1390.23L737.68 1390.22L740.5 1390.2L743.32 1390.19L746.14 1390.17L748.95 1390.16L751.77 1390.15L754.59 1390.13L757.41 1390.12L760.23 1390.1L763.05 1390.09L765.86 1389.54L768.68 1388.99L771.5 1390.71" stroke="#0000ff" stroke-width="1.6" fill="none" stroke-linejoin="round"/>
<path d="M209.09 1280.89L217.89 1280.89L213.49 1272.59ZM211.9 1287.92L220.7 1287.92L216.3 1279.62ZM214.72 1294.33L223.52 1294.33L219.12 1286.03ZM217.54 1299.49L226.34 1299.49L221.94 1291.19ZM220.36 1303.24L229.16 1303.24L224.76 1294.94ZM223.18 1307.14L231.98 1307.14L227.58 1298.84ZM226 1309.64L234.8 1309.64L230.4 1301.34ZM228.81 1314.18L237.61 1314.18L233.21 1305.88ZM231.63 1317.3L240.43 1317.3L236.03 1309ZM234.45 1320.58L243.25 1320.58L238.85 1312.28ZM237.27 1322.46L246.07 1322.46L241.67 1314.16ZM240.09 1324.02L248.89 1324.02L244.49 1315.72ZM242.91 1324.49L251.71 1324.49L247.31 1316.19ZM245.72 1325.74L254.52 1325.74L250.12 1317.44ZM248.54 1325.74L257.34 1325.74L252.94 1317.44ZM251.36 1324.49L260.16 1324.49L255.76 1316.19ZM254.18 1320.58L262.98 1320.58L258.58 1312.28ZM257 1323.08L265.8 1323.08L261.4 1314.78ZM259.81 1335.9L268.61 1335.9L264.21 1327.6ZM262.63 1328.24L271.43 1328.24L267.03 1319.94ZM265.45 1322.46L274.25 1322.46L269.85 1314.16ZM268.27 1314.8L277.07 1314.8L272.67 1306.5ZM271.09 1316.36L279.89 1316.36L275.49 1308.06ZM273.91 1302.46L282.71 1302.46L278.31 1294.16ZM276.72 1277.45L285.52 1277.45L281.12 1269.15ZM279.54 1313.55L288.34 1313.55L283.94 1305.25ZM282.36 1330.74L291.16 1330.74L286.76 1322.44ZM285.18 1338.4L293.98 1338.4L289.58 1330.1ZM288 1319.33L296.8 1319.33L292.4 1311.03ZM290.82 1261.67L299.62 1261.67L295.22 1253.37ZM293.63 1253.55L302.43 1253.55L298.03 1245.25ZM296.45 1160.26L305.25 1160.26L300.85 1151.96ZM299.27 1246.36L308.07 1246.36L303.67 1238.06ZM302.09 1216.98L310.89 1216.98L306.49 1208.68ZM304.91 1321.99L313.71 1321.99L309.31 1313.69ZM307.73 1352.3L316.53 1352.3L312.13 1344ZM310.54 1336.36L319.34 1336.36L314.94 1328.06ZM313.36 1296.83L322.16 1296.83L317.76 1288.53ZM316.18 1211.98L324.98 1211.98L320.58 1203.68ZM319 1273.55L327.8 1273.55L323.4 1265.25ZM321.82 1294.02L330.62 1294.02L326.22 1285.72ZM324.63 1331.68L333.43 1331.68L329.03 1323.38ZM327.45 1344.33L336.25 1344.33L331.85 1336.03ZM330.27 1360.12L339.07 1360.12L334.67 1351.82ZM333.09 1363.87L341.89 1363.87L337.49 1355.57ZM335.91 1366.52L344.71 1366.52L340.31 1358.22ZM338.73 1358.87L347.53 1358.87L343.13 1350.57ZM341.54 1369.65L350.34 1369.65L345.94 1361.35ZM344.36 1350.43L353.16 1350.43L348.76 1342.13ZM347.18 1336.36L355.98 1336.36L351.58 1328.06ZM350 1330.9L358.8 1330.9L354.4 1322.6ZM352.82 1350.43L361.62 1350.43L357.22 1342.13ZM355.64 1364.8L364.44 1364.8L360.04 1356.5ZM358.45 1373.55L367.25 1373.55L362.85 1365.25ZM361.27 1347.62L370.07 1347.62L365.67 1339.32ZM364.09 1363.24L372.89 1363.24L368.49 1354.94ZM366.91 1379.96L375.71 1379.96L371.31 1371.66ZM369.73 1361.99L378.53 1361.99L374.13 1353.69ZM372.55 1360.9L381.34 1360.9L376.94 1352.6ZM375.36 1364.65L384.16 1364.65L379.76 1356.35ZM378.18 1369.65L386.98 1369.65L382.58 1361.35ZM381 1372.93L389.8 1372.93L385.4 1364.63ZM383.82 1375.43L392.62 1375.43L388.22 1367.13ZM386.64 1377.31L395.44 1377.31L391.04 1369.01ZM389.45 1379.34L398.25 1379.34L393.85 1371.04ZM392.27 1380.9L401.07 1380.9L396.67 1372.6ZM395.09 1382.31L403.89 1382.31L399.49 1374.01ZM397.91 1383.56L406.71 1383.56L402.31 1375.26ZM400.73 1384.81L409.53 1384.81L405.13 1376.51ZM403.55 1383.09L412.35 1383.09L407.95 1374.79ZM406.36 1384.34L415.16 1384.34L410.76 1376.04ZM409.18 1385.81L417.98 1385.81L413.58 1377.51ZM412 1386.91L420.8 1386.91L416.4 1378.61ZM414.82 1386.47L423.62 1386.47L419.22 1378.17ZM417.64 1386.03L426.44 1386.03L422.04 1377.73ZM420.46 1385.59L429.26 1385.59L424.86 1377.29ZM423.27 1386.1L432.07 1386.1L427.67 1377.8ZM426.09 1386.61L434.89 1386.61L430.49 1378.31ZM428.91 1387.12L437.71 1387.12L433.31 1378.82ZM431.73 1387.63L440.53 1387.63L436.13 1379.33ZM434.55 1388.15L443.35 1388.15L438.95 1379.85ZM437.36 1388.61L446.16 1388.61L441.76 1380.31ZM440.18 1388.87L448.98 1388.87L444.58 1380.57ZM443 1389.13L451.8 1389.13L447.4 1380.83ZM445.82 1389.39L454.62 1389.39L450.22 1381.09ZM448.64 1389.65L457.44 1389.65L453.04 1381.35ZM451.46 1389.91L460.26 1389.91L455.86 1381.61ZM454.27 1390.17L463.07 1390.17L458.67 1381.87ZM457.09 1390.43L465.89 1390.43L461.49 1382.13ZM459.91 1390.63L468.71 1390.63L464.31 1382.33ZM462.73 1390.82L471.53 1390.82L467.13 1382.52ZM465.55 1391.02L474.35 1391.02L469.95 1382.72ZM468.37 1384.34L477.17 1384.34L472.77 1376.04ZM471.18 1383.78L479.98 1383.78L475.58 1375.48ZM474 1384.34L482.8 1384.34L478.4 1376.04ZM476.82 1385.64L485.62 1385.64L481.22 1377.34ZM479.64 1388.49L488.44 1388.49L484.04 1380.19ZM482.46 1390.61L491.26 1390.61L486.86 1382.31ZM485.27 1391.06L494.07 1391.06L489.67 1382.76ZM488.09 1391.5L496.89 1391.5L492.49 1383.2ZM490.91 1391.13L499.71 1391.13L495.31 1382.83ZM493.73 1390.2L502.53 1390.2L498.13 1381.9ZM496.55 1389.47L505.35 1389.47L500.95 1381.17ZM499.37 1389.02L508.17 1389.02L503.77 1380.72ZM502.18 1390.93L510.98 1390.93L506.58 1382.63ZM505 1392.47L513.8 1392.47L509.4 1384.17ZM507.82 1392.5L516.62 1392.5L512.22 1384.2ZM510.64 1392.53L519.44 1392.53L515.04 1384.23ZM513.46 1392.57L522.26 1392.57L517.86 1384.27ZM516.28 1392.6L525.08 1392.6L520.68 1384.3ZM519.09 1392.64L527.89 1392.64L523.49 1384.34ZM521.91 1392.68L530.71 1392.68L526.31 1384.38ZM524.73 1392.72L533.53 1392.72L529.13 1384.42ZM527.55 1392.77L536.35 1392.77L531.95 1384.47ZM530.37 1392.81L539.17 1392.81L534.77 1384.51ZM533.19 1392.85L541.99 1392.85L537.59 1384.55ZM536 1392.9L544.8 1392.9L540.4 1384.6ZM538.82 1392.94L547.62 1392.94L543.22 1384.64ZM541.64 1392.98L550.44 1392.98L546.04 1384.68ZM544.46 1393.03L553.26 1393.03L548.86 1384.73ZM547.28 1393.07L556.08 1393.07L551.68 1384.77ZM550.09 1393.09L558.89 1393.09L554.49 1384.79ZM552.91 1393.09L561.71 1393.09L557.31 1384.79ZM555.73 1393.09L564.53 1393.09L560.13 1384.79ZM558.55 1393.09L567.35 1393.09L562.95 1384.79ZM561.37 1393.09L570.17 1393.09L565.77 1384.79ZM564.19 1393.09L572.99 1393.09L568.59 1384.79ZM567 1393.09L575.8 1393.09L571.4 1384.79ZM569.82 1393.09L578.62 1393.09L574.22 1384.79ZM572.64 1393.09L581.44 1393.09L577.04 1384.79ZM575.46 1393.09L584.26 1393.09L579.86 1384.79ZM578.28 1393.09L587.08 1393.09L582.68 1384.79ZM581.1 1393.09L589.9 1393.09L585.5 1384.79ZM583.91 1393.09L592.71 1393.09L588.31 1384.79ZM586.73 1392.73L595.53 1392.73L591.13 1384.43ZM589.55 1392.28L598.35 1392.28L593.95 1383.98ZM592.37 1391.84L601.17 1391.84L596.77 1383.54ZM595.19 1391.21L603.99 1391.21L599.59 1382.91ZM598 1390.59L606.8 1390.59L602.4 1382.29ZM600.82 1390.16L609.62 1390.16L605.22 1381.86ZM603.64 1389.73L612.44 1389.73L608.04 1381.43ZM606.46 1390.5L615.26 1390.5L610.86 1382.2ZM609.28 1391.57L618.08 1391.57L613.68 1383.27ZM612.1 1391.84L620.9 1391.84L616.5 1383.54ZM614.91 1391.58L623.71 1391.58L619.31 1383.28ZM617.73 1391.32L626.53 1391.32L622.13 1383.02ZM620.55 1391.06L629.35 1391.06L624.95 1382.76ZM623.37 1389.02L632.17 1389.02L627.77 1380.72ZM626.19 1386.37L634.99 1386.37L630.59 1378.07ZM629.01 1387.29L637.81 1387.29L633.41 1378.99ZM631.82 1388.21L640.62 1388.21L636.22 1379.91ZM634.64 1388.99L643.44 1388.99L639.04 1380.69ZM637.46 1389.73L646.26 1389.73L641.86 1381.43ZM640.28 1390.47L649.08 1390.47L644.68 1382.17ZM643.1 1391.19L651.9 1391.19L647.5 1382.89ZM645.92 1391.85L654.72 1391.85L650.32 1383.55ZM648.73 1392.52L657.53 1392.52L653.13 1384.22ZM651.55 1393.18L660.35 1393.18L655.95 1384.88ZM654.37 1393.45L663.17 1393.45L658.77 1385.15ZM657.19 1392.15L665.99 1392.15L661.59 1383.85ZM660.01 1390.43L668.81 1390.43L664.41 1382.13ZM662.82 1390.28L671.62 1390.28L667.22 1381.98ZM665.64 1390.14L674.44 1390.14L670.04 1381.84ZM668.46 1389.99L677.26 1389.99L672.86 1381.69ZM671.28 1390.27L680.08 1390.27L675.68 1381.97ZM674.1 1390.67L682.9 1390.67L678.5 1382.37ZM676.92 1391.06L685.72 1391.06L681.32 1382.76ZM679.73 1391.45L688.53 1391.45L684.13 1383.15ZM682.55 1391.78L691.35 1391.78L686.95 1383.48ZM685.37 1392.02L694.17 1392.02L689.77 1383.72ZM688.19 1392.26L696.99 1392.26L692.59 1383.96ZM691.01 1392.51L699.81 1392.51L695.41 1384.21ZM693.83 1392.75L702.63 1392.75L698.23 1384.45ZM696.64 1392.99L705.44 1392.99L701.04 1384.69ZM699.46 1393.1L708.26 1393.1L703.86 1384.8ZM702.28 1393.11L711.08 1393.11L706.68 1384.81ZM705.1 1393.12L713.9 1393.12L709.5 1384.82ZM707.92 1393.14L716.72 1393.14L712.32 1384.84ZM710.74 1393.15L719.53 1393.15L715.13 1384.85ZM713.55 1393.17L722.35 1393.17L717.95 1384.87ZM716.37 1393.18L725.17 1393.18L720.77 1384.88ZM719.19 1393.2L727.99 1393.2L723.59 1384.9ZM722.01 1393.21L730.81 1393.21L726.41 1384.91ZM724.83 1393.23L733.63 1393.23L729.23 1384.93ZM727.64 1393.24L736.44 1393.24L732.04 1384.94ZM730.46 1393.23L739.26 1393.23L734.86 1384.93ZM733.28 1393.22L742.08 1393.22L737.68 1384.92ZM736.1 1393.2L744.9 1393.2L740.5 1384.9ZM738.92 1393.19L747.72 1393.19L743.32 1384.89ZM741.74 1393.17L750.54 1393.17L746.14 1384.87ZM744.55 1393.16L753.35 1393.16L748.95 1384.86ZM747.37 1393.15L756.17 1393.15L751.77 1384.85ZM750.19 1393.13L758.99 1393.13L754.59 1384.83ZM753.01 1393.12L761.81 1393.12L757.41 1384.82ZM755.83 1393.1L764.63 1393.1L760.23 1384.8ZM758.65 1393.09L767.45 1393.09L763.05 1384.79ZM761.46 1392.54L770.26 1392.54L765.86 1384.24ZM764.28 1391.99L773.08 1391.99L768.68 1383.69ZM767.1 1393.71L775.9 1393.71L771.5 1385.41Z" fill="#0000ff"/>
<path d="M213.49 1277.89L216.3 1284.92L219.12 1291.33L221.94 1296.49L224.76 1300.24L227.58 1304.14L230.4 1306.64L233.21 1311.18L236.03 1314.3L238.85 1317.58L241.67 1319.46L244.49 1321.02L247.31 1321.49L250.12 1322.74L252.94 1322.74L255.76 1321.49L258.58 1317.58L261.4 1320.08L264.21 1332.9L267.03 1325.24L269.85 1319.46L272.67 1311.8L275.49 1313.36L278.31 1299.46L281.12 1278.52L283.94 1314.93L286.76 1327.74L289.58 1335.4L292.4 1316.33L295.22 1254.92L298.03 1255.23L300.85 1157.26L303.67 1243.36L306.49 1213.98L309.31 1318.99L312.13 1349.3L314.94 1333.36L317.76 1287.89L320.58 1208.98L323.4 1266.64L326.22 1291.02L329.03 1328.68L331.85 1341.33L334.67 1357.12L337.49 1360.87L340.31 1363.52L343.13 1355.87L345.94 1366.65L348.76 1347.43L351.58 1333.36L354.4 1327.9L357.22 1347.43L360.04 1361.8L362.85 1370.55L365.67 1344.62L368.49 1360.24L371.31 1376.96L374.13 1358.99L376.94 1357.9L379.76 1362.27L382.58 1367.27L385.4 1370.55L388.22 1373.05L391.04 1374.93L393.85 1376.96L396.67 1378.52L399.49 1379.93L402.31 1381.18L405.13 1382.43L407.95 1380.71L410.76 1381.96L413.58 1383.44L416.4 1384.53L419.22 1384.09L422.04 1383.65L424.86 1383.21L427.67 1383.72L430.49 1384.24L433.31 1384.75L436.13 1385.26L438.95 1385.77L441.76 1386.23L444.58 1386.49L447.4 1386.75L450.22 1387.01L453.04 1387.27L455.86 1387.54L458.67 1387.8L461.49 1388.06L464.31 1388.25L467.13 1388.45L469.95 1388.64L472.77 1381.96L475.58 1381.4L478.4 1381.96L481.22 1383.26L484.04 1386.11L486.86 1388.23L489.67 1388.68L492.49 1389.13L495.31 1388.75L498.13 1387.83L500.95 1387.1L503.77 1386.65L506.58 1388.56L509.4 1390.09L512.22 1390.13L515.04 1390.16L517.86 1390.19L520.68 1390.22L523.49 1390.26L526.31 1390.3L529.13 1390.35L531.95 1390.39L534.77 1390.43L537.59 1390.48L540.4 1390.52L543.22 1390.56L546.04 1390.61L548.86 1390.65L551.68 1390.69L554.49 1390.71L557.31 1390.71L560.13 1390.71L562.95 1390.71L565.77 1390.71L568.59 1390.71L571.4 1390.71L574.22 1390.71L577.04 1390.71L579.86 1390.71L582.68 1390.71L585.5 1390.71L588.31 1390.71L591.13 1390.36L593.95 1389.91L596.77 1389.46L599.59 1388.84L602.4 1388.21L605.22 1387.79L608.04 1387.36L610.86 1388.13L613.68 1389.19L616.5 1389.46L619.31 1389.2L622.13 1388.94L624.95 1388.68L627.77 1386.65L630.59 1383.99L633.41 1384.92L636.22 1385.84L639.04 1386.61L641.86 1387.35L644.68 1388.09L647.5 1388.81L650.32 1389.48L653.13 1390.14L655.95 1390.81L658.77 1391.08L661.59 1389.77L664.41 1388.06L667.22 1387.91L670.04 1387.76L672.86 1387.62L675.68 1387.9L678.5 1388.29L681.32 1388.68L684.13 1389.07L686.95 1389.4L689.77 1389.65L692.59 1389.89L695.41 1390.13L698.23 1390.37L701.04 1390.62L703.86 1390.72L706.68 1390.74L709.5 1390.75L712.32 1390.76L715.13 1390.78L717.95 1390.79L720.77 1390.81L723.59 1390.82L726.41 1390.84L729.23 1390.85L732.04 1390.87L734.86 1390.86L737.68 1390.84L740.5 1390.83L743.32 1390.81L746.14 1390.8L748.95 1390.78L751.77 1390.77L754.59 1390.76L757.41 1390.74L760.23 1390.73L763.05 1390.71L765.86 1390.17L768.68 1389.62L771.5 1391.34" stroke="#f04040" stroke-width="1.6" fill="none" stroke-linejoin="round"/>
<path d="M209.79 1277.89a3.7 3.7 0 1 0 7.4 0a3.7 3.7 0 1 0 -7.4 0ZM212.6 1284.92a3.7 3.7 0 1 0 7.4 0a3.7 3.7 0 1 0 -7.4 0ZM215.42 1291.33a3.7 3.7 0 1 0 7.4 0a3.7 3.7 0 1 0 -7.4 0ZM218.24 1296.49a3.7 3.7 0 1 0 7.4 0a3.7 3.7 0 1 0 -7.4 0ZM221.06 1300.24a3.7 3.7 0 1 0 7.4 0a3.7 3.7 0 1 0 -7.4 0ZM223.88 1304.14a3.7 3.7 0 1 0 7.4 0a3.7 3.7 0 1 0 -7.4 0ZM226.7 1306.64a3.7 3.7 0 1 0 7.4 0a3.7 3.7 0 1 0 -7.4 0ZM229.51 1311.18a3.7 3.7 0 1 0 7.4 0a3.7 3.7 0 1 0 -7.4 0ZM232.33 1314.3a3.7 3.7 0 1 0 7.4 0a3.7 3.7 0 1 0 -7.4 0ZM235.15 1317.58a3.7 3.7 0 1 0 7.4 0a3.7 3.7 0 1 0 -7.4 0ZM237.97 1319.46a3.7 3.7 0 1 0 7.4 0a3.7 3.7 0 1 0 -7.4 0ZM240.79 1321.02a3.7 3.7 0 1 0 7.4 0a3.7 3.7 0 1 0 -7.4 0ZM243.61 1321.49a3.7 3.7 0 1 0 7.4 0a3.7 3.7 0 1 0 -7.4 0ZM246.42 1322.74a3.7 3.7 0 1 0 7.4 0a3.7 3.7 0 1 0 -7.4 0ZM249.24 1322.74a3.7 3.7 0 1 0 7.4 0a3.7 3.7 0 1 0 -7.4 0ZM252.06 1321.49a3.7 3.7 0 1 0 7.4 0a3.7 3.7 0 1 0 -7.4 0ZM254.88 1317.58a3.7 3.7 0 1 0 7.4 0a3.7 3.7 0 1 0 -7.4 0ZM257.7 1320.08a3.7 3.7 0 1 0 7.4 0a3.7 3.7 0 1 0 -7.4 0ZM260.51 1332.9a3.7 3.7 0 1 0 7.4 0a3.7 3.7 0 1 0 -7.4 0ZM263.33 1325.24a3.7 3.7 0 1 0 7.4 0a3.7 3.7 0 1 0 -7.4 0ZM266.15 1319.46a3.7 3.7 0 1 0 7.4 0a3.7 3.7 0 1 0 -7.4 0ZM268.97 1311.8a3.7 3.7 0 1 0 7.4 0a3.7 3.7 0 1 0 -7.4 0ZM271.79 1313.36a3.7 3.7 0 1 0 7.4 0a3.7 3.7 0 1 0 -7.4 0ZM274.61 1299.46a3.7 3.7 0 1 0 7.4 0a3.7 3.7 0 1 0 -7.4 0ZM277.42 1278.52a3.7 3.7 0 1 0 7.4 0a3.7 3.7 0 1 0 -7.4 0ZM280.24 1314.93a3.7 3.7 0 1 0 7.4 0a3.7 3.7 0 1 0 -7.4 0ZM283.06 1327.74a3.7 3.7 0 1 0 7.4 0a3.7 3.7 0 1 0 -7.4 0ZM285.88 1335.4a3.7 3.7 0 1 0 7.4 0a3.7 3.7 0 1 0 -7.4 0ZM288.7 1316.33a3.7 3.7 0 1 0 7.4 0a3.7 3.7 0 1 0 -7.4 0ZM291.52 1254.92a3.7 3.7 0 1 0 7.4 0a3.7 3.7 0 1 0 -7.4 0ZM294.33 1255.23a3.7 3.7 0 1 0 7.4 0a3.7 3.7 0 1 0 -7.4 0ZM297.15 1157.26a3.7 3.7 0 1 0 7.4 0a3.7 3.7 0 1 0 -7.4 0ZM299.97 1243.36a3.7 3.7 0 1 0 7.4 0a3.7 3.7 0 1 0 -7.4 0ZM302.79 1213.98a3.7 3.7 0 1 0 7.4 0a3.7 3.7 0 1 0 -7.4 0ZM305.61 1318.99a3.7 3.7 0 1 0 7.4 0a3.7 3.7 0 1 0 -7.4 0ZM308.43 1349.3a3.7 3.7 0 1 0 7.4 0a3.7 3.7 0 1 0 -7.4 0ZM311.24 1333.36a3.7 3.7 0 1 0 7.4 0a3.7 3.7 0 1 0 -7.4 0ZM314.06 1287.89a3.7 3.7 0 1 0 7.4 0a3.7 3.7 0 1 0 -7.4 0ZM316.88 1208.98a3.7 3.7 0 1 0 7.4 0a3.7 3.7 0 1 0 -7.4 0ZM319.7 1266.64a3.7 3.7 0 1 0 7.4 0a3.7 3.7 0 1 0 -7.4 0ZM322.52 1291.02a3.7 3.7 0 1 0 7.4 0a3.7 3.7 0 1 0 -7.4 0ZM325.33 1328.68a3.7 3.7 0 1 0 7.4 0a3.7 3.7 0 1 0 -7.4 0ZM328.15 1341.33a3.7 3.7 0 1 0 7.4 0a3.7 3.7 0 1 0 -7.4 0ZM330.97 1357.12a3.7 3.7 0 1 0 7.4 0a3.7 3.7 0 1 0 -7.4 0ZM333.79 1360.87a3.7 3.7 0 1 0 7.4 0a3.7 3.7 0 1 0 -7.4 0ZM336.61 1363.52a3.7 3.7 0 1 0 7.4 0a3.7 3.7 0 1 0 -7.4 0ZM339.43 1355.87a3.7 3.7 0 1 0 7.4 0a3.7 3.7 0 1 0 -7.4 0ZM342.24 1366.65a3.7 3.7 0 1 0 7.4 0a3.7 3.7 0 1 0 -7.4 0ZM345.06 1347.43a3.7 3.7 0 1 0 7.4 0a3.7 3.7 0 1 0 -7.4 0ZM347.88 1333.36a3.7 3.7 0 1 0 7.4 0a3.7 3.7 0 1 0 -7.4 0ZM350.7 1327.9a3.7 3.7 0 1 0 7.4 0a3.7 3.7 0 1 0 -7.4 0ZM353.52 1347.43a3.7 3.7 0 1 0 7.4 0a3.7 3.7 0 1 0 -7.4 0ZM356.34 1361.8a3.7 3.7 0 1 0 7.4 0a3.7 3.7 0 1 0 -7.4 0ZM359.15 1370.55a3.7 3.7 0 1 0 7.4 0a3.7 3.7 0 1 0 -7.4 0ZM361.97 1344.62a3.7 3.7 0 1 0 7.4 0a3.7 3.7 0 1 0 -7.4 0ZM364.79 1360.24a3.7 3.7 0 1 0 7.4 0a3.7 3.7 0 1 0 -7.4 0ZM367.61 1376.96a3.7 3.7 0 1 0 7.4 0a3.7 3.7 0 1 0 -7.4 0ZM370.43 1358.99a3.7 3.7 0 1 0 7.4 0a3.7 3.7 0 1 0 -7.4 0ZM373.25 1357.9a3.7 3.7 0 1 0 7.4 0a3.7 3.7 0 1 0 -7.4 0ZM376.06 1362.27a3.7 3.7 0 1 0 7.4 0a3.7 3.7 0 1 0 -7.4 0ZM378.88 1367.27a3.7 3.7 0 1 0 7.4 0a3.7 3.7 0 1 0 -7.4 0ZM381.7 1370.55a3.7 3.7 0 1 0 7.4 0a3.7 3.7 0 1 0 -7.4 0ZM384.52 1373.05a3.7 3.7 0 1 0 7.4 0a3.7 3.7 0 1 0 -7.4 0ZM387.34 1374.93a3.7 3.7 0 1 0 7.4 0a3.7 3.7 0 1 0 -7.4 0ZM390.15 1376.96a3.7 3.7 0 1 0 7.4 0a3.7 3.7 0 1 0 -7.4 0ZM392.97 1378.52a3.7 3.7 0 1 0 7.4 0a3.7 3.7 0 1 0 -7.4 0ZM395.79 1379.93a3.7 3.7 0 1 0 7.4 0a3.7 3.7 0 1 0 -7.4 0ZM398.61 1381.18a3.7 3.7 0 1 0 7.4 0a3.7 3.7 0 1 0 -7.4 0ZM401.43 1382.43a3.7 3.7 0 1 0 7.4 0a3.7 3.7 0 1 0 -7.4 0ZM404.25 1380.71a3.7 3.7 0 1 0 7.4 0a3.7 3.7 0 1 0 -7.4 0ZM407.06 1381.96a3.7 3.7 0 1 0 7.4 0a3.7 3.7 0 1 0 -7.4 0ZM409.88 1383.44a3.7 3.7 0 1 0 7.4 0a3.7 3.7 0 1 0 -7.4 0ZM412.7 1384.53a3.7 3.7 0 1 0 7.4 0a3.7 3.7 0 1 0 -7.4 0ZM415.52 1384.09a3.7 3.7 0 1 0 7.4 0a3.7 3.7 0 1 0 -7.4 0ZM418.34 1383.65a3.7 3.7 0 1 0 7.4 0a3.7 3.7 0 1 0 -7.4 0ZM421.16 1383.21a3.7 3.7 0 1 0 7.4 0a3.7 3.7 0 1 0 -7.4 0ZM423.97 1383.72a3.7 3.7 0 1 0 7.4 0a3.7 3.7 0 1 0 -7.4 0ZM426.79 1384.24a3.7 3.7 0 1 0 7.4 0a3.7 3.7 0 1 0 -7.4 0ZM429.61 1384.75a3.7 3.7 0 1 0 7.4 0a3.7 3.7 0 1 0 -7.4 0ZM432.43 1385.26a3.7 3.7 0 1 0 7.4 0a3.7 3.7 0 1 0 -7.4 0ZM435.25 1385.77a3.7 3.7 0 1 0 7.4 0a3.7 3.7 0 1 0 -7.4 0ZM438.06 1386.23a3.7 3.7 0 1 0 7.4 0a3.7 3.7 0 1 0 -7.4 0ZM440.88 1386.49a3.7 3.7 0 1 0 7.4 0a3.7 3.7 0 1 0 -7.4 0ZM443.7 1386.75a3.7 3.7 0 1 0 7.4 0a3.7 3.7 0 1 0 -7.4 0ZM446.52 1387.01a3.7 3.7 0 1 0 7.4 0a3.7 3.7 0 1 0 -7.4 0ZM449.34 1387.27a3.7 3.7 0 1 0 7.4 0a3.7 3.7 0 1 0 -7.4 0ZM452.16 1387.54a3.7 3.7 0 1 0 7.4 0a3.7 3.7 0 1 0 -7.4 0ZM454.97 1387.8a3.7 3.7 0 1 0 7.4 0a3.7 3.7 0 1 0 -7.4 0ZM457.79 1388.06a3.7 3.7 0 1 0 7.4 0a3.7 3.7 0 1 0 -7.4 0ZM460.61 1388.25a3.7 3.7 0 1 0 7.4 0a3.7 3.7 0 1 0 -7.4 0ZM463.43 1388.45a3.7 3.7 0 1 0 7.4 0a3.7 3.7 0 1 0 -7.4 0ZM466.25 1388.64a3.7 3.7 0 1 0 7.4 0a3.7 3.7 0 1 0 -7.4 0ZM469.07 1381.96a3.7 3.7 0 1 0 7.4 0a3.7 3.7 0 1 0 -7.4 0ZM471.88 1381.4a3.7 3.7 0 1 0 7.4 0a3.7 3.7 0 1 0 -7.4 0ZM474.7 1381.96a3.7 3.7 0 1 0 7.4 0a3.7 3.7 0 1 0 -7.4 0ZM477.52 1383.26a3.7 3.7 0 1 0 7.4 0a3.7 3.7 0 1 0 -7.4 0ZM480.34 1386.11a3.7 3.7 0 1 0 7.4 0a3.7 3.7 0 1 0 -7.4 0ZM483.16 1388.23a3.7 3.7 0 1 0 7.4 0a3.7 3.7 0 1 0 -7.4 0ZM485.97 1388.68a3.7 3.7 0 1 0 7.4 0a3.7 3.7 0 1 0 -7.4 0ZM488.79 1389.13a3.7 3.7 0 1 0 7.4 0a3.7 3.7 0 1 0 -7.4 0ZM491.61 1388.75a3.7 3.7 0 1 0 7.4 0a3.7 3.7 0 1 0 -7.4 0ZM494.43 1387.83a3.7 3.7 0 1 0 7.4 0a3.7 3.7 0 1 0 -7.4 0ZM497.25 1387.1a3.7 3.7 0 1 0 7.4 0a3.7 3.7 0 1 0 -7.4 0ZM500.07 1386.65a3.7 3.7 0 1 0 7.4 0a3.7 3.7 0 1 0 -7.4 0ZM502.88 1388.56a3.7 3.7 0 1 0 7.4 0a3.7 3.7 0 1 0 -7.4 0ZM505.7 1390.09a3.7 3.7 0 1 0 7.4 0a3.7 3.7 0 1 0 -7.4 0ZM508.52 1390.13a3.7 3.7 0 1 0 7.4 0a3.7 3.7 0 1 0 -7.4 0ZM511.34 1390.16a3.7 3.7 0 1 0 7.4 0a3.7 3.7 0 1 0 -7.4 0ZM514.16 1390.19a3.7 3.7 0 1 0 7.4 0a3.7 3.7 0 1 0 -7.4 0ZM516.98 1390.22a3.7 3.7 0 1 0 7.4 0a3.7 3.7 0 1 0 -7.4 0ZM519.79 1390.26a3.7 3.7 0 1 0 7.4 0a3.7 3.7 0 1 0 -7.4 0ZM522.61 1390.3a3.7 3.7 0 1 0 7.4 0a3.7 3.7 0 1 0 -7.4 0ZM525.43 1390.35a3.7 3.7 0 1 0 7.4 0a3.7 3.7 0 1 0 -7.4 0ZM528.25 1390.39a3.7 3.7 0 1 0 7.4 0a3.7 3.7 0 1 0 -7.4 0ZM531.07 1390.43a3.7 3.7 0 1 0 7.4 0a3.7 3.7 0 1 0 -7.4 0ZM533.89 1390.48a3.7 3.7 0 1 0 7.4 0a3.7 3.7 0 1 0 -7.4 0ZM536.7 1390.52a3.7 3.7 0 1 0 7.4 0a3.7 3.7 0 1 0 -7.4 0ZM539.52 1390.56a3.7 3.7 0 1 0 7.4 0a3.7 3.7 0 1 0 -7.4 0ZM542.34 1390.61a3.7 3.7 0 1 0 7.4 0a3.7 3.7 0 1 0 -7.4 0ZM545.16 1390.65a3.7 3.7 0 1 0 7.4 0a3.7 3.7 0 1 0 -7.4 0ZM547.98 1390.69a3.7 3.7 0 1 0 7.4 0a3.7 3.7 0 1 0 -7.4 0ZM550.79 1390.71a3.7 3.7 0 1 0 7.4 0a3.7 3.7 0 1 0 -7.4 0ZM553.61 1390.71a3.7 3.7 0 1 0 7.4 0a3.7 3.7 0 1 0 -7.4 0ZM556.43 1390.71a3.7 3.7 0 1 0 7.4 0a3.7 3.7 0 1 0 -7.4 0ZM559.25 1390.71a3.7 3.7 0 1 0 7.4 0a3.7 3.7 0 1 0 -7.4 0ZM562.07 1390.71a3.7 3.7 0 1 0 7.4 0a3.7 3.7 0 1 0 -7.4 0ZM564.89 1390.71a3.7 3.7 0 1 0 7.4 0a3.7 3.7 0 1 0 -7.4 0ZM567.7 1390.71a3.7 3.7 0 1 0 7.4 0a3.7 3.7 0 1 0 -7.4 0ZM570.52 1390.71a3.7 3.7 0 1 0 7.4 0a3.7 3.7 0 1 0 -7.4 0ZM573.34 1390.71a3.7 3.7 0 1 0 7.4 0a3.7 3.7 0 1 0 -7.4 0ZM576.16 1390.71a3.7 3.7 0 1 0 7.4 0a3.7 3.7 0 1 0 -7.4 0ZM578.98 1390.71a3.7 3.7 0 1 0 7.4 0a3.7 3.7 0 1 0 -7.4 0ZM581.8 1390.71a3.7 3.7 0 1 0 7.4 0a3.7 3.7 0 1 0 -7.4 0ZM584.61 1390.71a3.7 3.7 0 1 0 7.4 0a3.7 3.7 0 1 0 -7.4 0ZM587.43 1390.36a3.7 3.7 0 1 0 7.4 0a3.7 3.7 0 1 0 -7.4 0ZM590.25 1389.91a3.7 3.7 0 1 0 7.4 0a3.7 3.7 0 1 0 -7.4 0ZM593.07 1389.46a3.7 3.7 0 1 0 7.4 0a3.7 3.7 0 1 0 -7.4 0ZM595.89 1388.84a3.7 3.7 0 1 0 7.4 0a3.7 3.7 0 1 0 -7.4 0ZM598.7 1388.21a3.7 3.7 0 1 0 7.4 0a3.7 3.7 0 1 0 -7.4 0ZM601.52 1387.79a3.7 3.7 0 1 0 7.4 0a3.7 3.7 0 1 0 -7.4 0ZM604.34 1387.36a3.7 3.7 0 1 0 7.4 0a3.7 3.7 0 1 0 -7.4 0ZM607.16 1388.13a3.7 3.7 0 1 0 7.4 0a3.7 3.7 0 1 0 -7.4 0ZM609.98 1389.19a3.7 3.7 0 1 0 7.4 0a3.7 3.7 0 1 0 -7.4 0ZM612.8 1389.46a3.7 3.7 0 1 0 7.4 0a3.7 3.7 0 1 0 -7.4 0ZM615.61 1389.2a3.7 3.7 0 1 0 7.4 0a3.7 3.7 0 1 0 -7.4 0ZM618.43 1388.94a3.7 3.7 0 1 0 7.4 0a3.7 3.7 0 1 0 -7.4 0ZM621.25 1388.68a3.7 3.7 0 1 0 7.4 0a3.7 3.7 0 1 0 -7.4 0ZM624.07 1386.65a3.7 3.7 0 1 0 7.4 0a3.7 3.7 0 1 0 -7.4 0ZM626.89 1383.99a3.7 3.7 0 1 0 7.4 0a3.7 3.7 0 1 0 -7.4 0ZM629.71 1384.92a3.7 3.7 0 1 0 7.4 0a3.7 3.7 0 1 0 -7.4 0ZM632.52 1385.84a3.7 3.7 0 1 0 7.4 0a3.7 3.7 0 1 0 -7.4 0ZM635.34 1386.61a3.7 3.7 0 1 0 7.4 0a3.7 3.7 0 1 0 -7.4 0ZM638.16 1387.35a3.7 3.7 0 1 0 7.4 0a3.7 3.7 0 1 0 -7.4 0ZM640.98 1388.09a3.7 3.7 0 1 0 7.4 0a3.7 3.7 0 1 0 -7.4 0ZM643.8 1388.81a3.7 3.7 0 1 0 7.4 0a3.7 3.7 0 1 0 -7.4 0ZM646.62 1389.48a3.7 3.7 0 1 0 7.4 0a3.7 3.7 0 1 0 -7.4 0ZM649.43 1390.14a3.7 3.7 0 1 0 7.4 0a3.7 3.7 0 1 0 -7.4 0ZM652.25 1390.81a3.7 3.7 0 1 0 7.4 0a3.7 3.7 0 1 0 -7.4 0ZM655.07 1391.08a3.7 3.7 0 1 0 7.4 0a3.7 3.7 0 1 0 -7.4 0ZM657.89 1389.77a3.7 3.7 0 1 0 7.4 0a3.7 3.7 0 1 0 -7.4 0ZM660.71 1388.06a3.7 3.7 0 1 0 7.4 0a3.7 3.7 0 1 0 -7.4 0ZM663.52 1387.91a3.7 3.7 0 1 0 7.4 0a3.7 3.7 0 1 0 -7.4 0ZM666.34 1387.76a3.7 3.7 0 1 0 7.4 0a3.7 3.7 0 1 0 -7.4 0ZM669.16 1387.62a3.7 3.7 0 1 0 7.4 0a3.7 3.7 0 1 0 -7.4 0ZM671.98 1387.9a3.7 3.7 0 1 0 7.4 0a3.7 3.7 0 1 0 -7.4 0ZM674.8 1388.29a3.7 3.7 0 1 0 7.4 0a3.7 3.7 0 1 0 -7.4 0ZM677.62 1388.68a3.7 3.7 0 1 0 7.4 0a3.7 3.7 0 1 0 -7.4 0ZM680.43 1389.07a3.7 3.7 0 1 0 7.4 0a3.7 3.7 0 1 0 -7.4 0ZM683.25 1389.4a3.7 3.7 0 1 0 7.4 0a3.7 3.7 0 1 0 -7.4 0ZM686.07 1389.65a3.7 3.7 0 1 0 7.4 0a3.7 3.7 0 1 0 -7.4 0ZM688.89 1389.89a3.7 3.7 0 1 0 7.4 0a3.7 3.7 0 1 0 -7.4 0ZM691.71 1390.13a3.7 3.7 0 1 0 7.4 0a3.7 3.7 0 1 0 -7.4 0ZM694.53 1390.37a3.7 3.7 0 1 0 7.4 0a3.7 3.7 0 1 0 -7.4 0ZM697.34 1390.62a3.7 3.7 0 1 0 7.4 0a3.7 3.7 0 1 0 -7.4 0ZM700.16 1390.72a3.7 3.7 0 1 0 7.4 0a3.7 3.7 0 1 0 -7.4 0ZM702.98 1390.74a3.7 3.7 0 1 0 7.4 0a3.7 3.7 0 1 0 -7.4 0ZM705.8 1390.75a3.7 3.7 0 1 0 7.4 0a3.7 3.7 0 1 0 -7.4 0ZM708.62 1390.76a3.7 3.7 0 1 0 7.4 0a3.7 3.7 0 1 0 -7.4 0ZM711.43 1390.78a3.7 3.7 0 1 0 7.4 0a3.7 3.7 0 1 0 -7.4 0ZM714.25 1390.79a3.7 3.7 0 1 0 7.4 0a3.7 3.7 0 1 0 -7.4 0ZM717.07 1390.81a3.7 3.7 0 1 0 7.4 0a3.7 3.7 0 1 0 -7.4 0ZM719.89 1390.82a3.7 3.7 0 1 0 7.4 0a3.7 3.7 0 1 0 -7.4 0ZM722.71 1390.84a3.7 3.7 0 1 0 7.4 0a3.7 3.7 0 1 0 -7.4 0ZM725.53 1390.85a3.7 3.7 0 1 0 7.4 0a3.7 3.7 0 1 0 -7.4 0ZM728.34 1390.87a3.7 3.7 0 1 0 7.4 0a3.7 3.7 0 1 0 -7.4 0ZM731.16 1390.86a3.7 3.7 0 1 0 7.4 0a3.7 3.7 0 1 0 -7.4 0ZM733.98 1390.84a3.7 3.7 0 1 0 7.4 0a3.7 3.7 0 1 0 -7.4 0ZM736.8 1390.83a3.7 3.7 0 1 0 7.4 0a3.7 3.7 0 1 0 -7.4 0ZM739.62 1390.81a3.7 3.7 0 1 0 7.4 0a3.7 3.7 0 1 0 -7.4 0ZM742.44 1390.8a3.7 3.7 0 1 0 7.4 0a3.7 3.7 0 1 0 -7.4 0ZM745.25 1390.78a3.7 3.7 0 1 0 7.4 0a3.7 3.7 0 1 0 -7.4 0ZM748.07 1390.77a3.7 3.7 0 1 0 7.4 0a3.7 3.7 0 1 0 -7.4 0ZM750.89 1390.76a3.7 3.7 0 1 0 7.4 0a3.7 3.7 0 1 0 -7.4 0ZM753.71 1390.74a3.7 3.7 0 1 0 7.4 0a3.7 3.7 0 1 0 -7.4 0ZM756.53 1390.73a3.7 3.7 0 1 0 7.4 0a3.7 3.7 0 1 0 -7.4 0ZM759.35 1390.71a3.7 3.7 0 1 0 7.4 0a3.7 3.7 0 1 0 -7.4 0ZM762.16 1390.17a3.7 3.7 0 1 0 7.4 0a3.7 3.7 0 1 0 -7.4 0ZM764.98 1389.62a3.7 3.7 0 1 0 7.4 0a3.7 3.7 0 1 0 -7.4 0ZM767.8 1391.34a3.7 3.7 0 1 0 7.4 0a3.7 3.7 0 1 0 -7.4 0Z" fill="#f04040"/>
</g>
<path d="M151.49 884.9V1433.01M150.49 1432.01H828.87M151.49 1393h-10.9M151.49 1314.98h-10.9M151.49 1236.97h-10.9M151.49 1158.95h-10.9M151.49 1080.94h-10.9M151.49 1002.92h-10.9M151.49 924.91h-10.9M151.49 1432.01h-5.2M151.49 1353.99h-5.2M151.49 1275.98h-5.2M151.49 1197.96h-5.2M151.49 1119.95h-5.2M151.49 1041.93h-5.2M151.49 963.92h-5.2M151.49 885.9h-5.2M207.85 1432.01v10.9M320.58 1432.01v10.9M433.31 1432.01v10.9M546.04 1432.01v10.9M658.77 1432.01v10.9M771.5 1432.01v10.9M151.49 1432.01v5.2M264.21 1432.01v5.2M376.94 1432.01v5.2M489.67 1432.01v5.2M602.4 1432.01v5.2M715.13 1432.01v5.2M827.87 1432.01v5.2" stroke="#000" stroke-width="2" fill="none"/>
<text x="133.19" y="1401.67" font-size="28.6" text-anchor="end">0</text>
<text x="133.19" y="1323.65" font-size="28.6" text-anchor="end">500</text>
<text x="133.19" y="1245.64" font-size="28.6" text-anchor="end">1000</text>
<text x="133.19" y="1167.62" font-size="28.6" text-anchor="end">1500</text>
<text x="133.19" y="1089.61" font-size="28.6" text-anchor="end">2000</text>
<text x="133.19" y="1011.59" font-size="28.6" text-anchor="end">2500</text>
<text x="133.19" y="933.58" font-size="28.6" text-anchor="end">3000</text>
<text x="207.85" y="1471.8" font-size="28.6" text-anchor="middle">0</text>
<text x="320.58" y="1471.8" font-size="28.6" text-anchor="middle">200</text>
<text x="433.31" y="1471.8" font-size="28.6" text-anchor="middle">400</text>
<text x="546.04" y="1471.8" font-size="28.6" text-anchor="middle">600</text>
<text x="658.77" y="1471.8" font-size="28.6" text-anchor="middle">800</text>
<text x="771.5" y="1471.8" font-size="28.6" text-anchor="middle">1000</text>
<text x="489.68" y="1523.7" font-size="33.4" text-anchor="middle">fre (Hz<tspan dx="1.2">)</tspan></text>
<text transform="translate(39.6 1483.2) rotate(-90)" font-size="33.4">Peak-to-peak value of electromagnetic force (N<tspan dx="2">)</tspan></text>
<rect x="364.4" y="877.6" width="540.2" height="86.6" fill="#fff" stroke="#222" stroke-width="1.1"/>
<path d="M369.2 900.4H443.6" stroke="#0000ff" stroke-width="1.6"/>
<path d="M402 903.4L410.8 903.4L406.4 895.1Z" fill="#0000ff"/>
<path d="M369.2 942.1H443.6" stroke="#f04040" stroke-width="1.6"/>
<circle cx="406.4" cy="942.1" r="3.7" fill="#f04040"/>
<text x="452.6" y="911.76" font-size="33.4">0.8mm+5A-DC+2A-AC Group 1</text>
<text x="452.6" y="953.46" font-size="33.4">0.8mm+5A-DC+2A-AC Group 2</text>
</g>
<g id="chart-c">
<path d="M262.12 1735.99V2282.86M374.98 1735.99V2282.86M487.82 1735.99V2282.86M600.67 1735.99V2282.86M713.53 1735.99V2282.86M149.27 2204.74H826.38M149.27 2126.61H826.38M149.27 2048.49H826.38M149.27 1970.36H826.38M149.27 1892.24H826.38M149.27 1814.11H826.38" stroke="#dedede" stroke-width="1" stroke-dasharray="2.2 2.15" fill="none"/>
<clipPath id="clip-c"><rect x="149.27" y="1735.99" width="677.1" height="546.88"/></clipPath>
<g clip-path="url(#clip-c)">
<path d="M211.34 1774.5L211.91 1778.7L212.47 1781.29L213.04 1784.46L213.6 1788.43L214.16 1793.4L214.73 1794.34L215.29 1800.29L215.86 1801.27L216.42 1807.03L216.98 1812.05L217.55 1814.83L218.11 1819.18L218.68 1820.26L219.24 1824.84L219.81 1829.32L220.37 1834.18L220.93 1837.34L221.5 1839.5L222.06 1841.89L222.63 1845.95L223.19 1847.44L223.76 1850.89L224.32 1852.75L224.88 1857.94L225.45 1861.57L226.01 1862.16L226.58 1865.16L227.14 1866.49L227.71 1868.84L228.27 1871.81L228.83 1872.75L229.4 1875.27L229.96 1875.43L230.53 1878.48L231.09 1880.34L231.66 1880.54L232.22 1884.49L232.78 1884.35L233.35 1886.42L233.91 1889.01L234.48 1887.86L235.04 1891.11L235.61 1894.86L236.17 1902.54L236.73 1901.97L237.3 1907.28L237.86 1911.43L238.43 1909.26L238.99 1915.37L239.56 1915.87L240.12 1915.19L240.68 1917.77L241.25 1917.76L241.81 1917.74L242.38 1917.87L242.94 1919.36L243.5 1924.23L244.07 1920.23L244.63 1921.09L245.2 1924.83L245.76 1924.2L246.33 1929.09L246.89 1929.15L247.45 1930.61L248.02 1930.65L248.58 1929.9L249.15 1927.1L249.71 1932.8L250.28 1932.14L250.84 1934.4L251.4 1929.13L251.97 1930.26L252.53 1930.52L253.1 1927.04L253.66 1925.38L254.23 1917.58L254.79 1920.75L255.35 1919.2L255.92 1911.18L256.48 1911.63L257.05 1912.41L257.61 1908.14L258.18 1906.61L258.74 1908.95L259.3 1914.96L259.87 1927.44L260.43 1942.28L261 1958.19L261.56 1955.45L262.12 1945.97L262.69 1936.64L263.25 1932.46L263.82 1923.84L264.38 1924.31L264.95 1920.99L265.51 1916.77L266.07 1906.93L266.64 1905.82L267.2 1898.92L267.77 1896.34L268.33 1891.73L268.9 1890.45L269.46 1884.35L270.02 1880.6L270.59 1880.1L271.15 1872.13L271.72 1869.22L272.28 1860.38L272.85 1844.73L273.41 1838.17L273.97 1854.88L274.54 1826.73L275.1 1868.06L275.67 1834.68L276.23 1849L276.8 1824.96L277.36 1857.17L277.92 1843.38L278.49 1918.35L279.05 1941.6L279.62 1861.87L280.18 1837.67L280.75 1846.33L281.31 1817.17L281.87 1849.03L282.44 1841.42L283 1865.42L283.57 1872.83L284.13 1837.43L284.69 1910.79L285.26 1820.79L285.82 1818.04L286.39 1829.36L286.95 1887.4L287.52 1894.73L288.08 1832.96L288.64 1812.9L289.21 1758.78L289.77 1721.47L290.34 1747.1L290.9 1758.69L291.47 1795.65L292.03 1818.11L292.59 1827.12L293.16 1780.17L293.72 1706.99L294.29 1656.7L294.85 1605.63L295.42 1558.98L295.98 1521.25L296.54 1545.52L297.11 1539.2L297.67 1551.25L298.24 1573.15L298.8 1596.86L299.37 1636.89L299.93 1670.17L300.49 1712.83L301.06 1750.63L301.62 1781.59L302.19 1823.83L302.75 1856.91L303.32 1868.92L303.88 1898.28L304.44 1952.65L305.01 1975.96L305.57 2018.46L306.14 2031.21L306.7 2054.87L307.26 2051.36L307.83 2065.52L308.39 2078.03L308.96 2059.04L309.52 2035.31L310.09 2017.04L310.65 1985.37L311.21 1944.59L311.78 1923.22L312.34 1865.98L312.91 1834.66L313.47 1755.68L314.04 1717.83L314.6 1731.01L315.16 1753.76L315.73 1766.9L316.29 1767.48L316.86 1780.35L317.42 1774.95L317.99 1774.95L318.55 1778.33L319.11 1804.22L319.68 1794.74L320.24 1801.56L320.81 1805.77L321.37 1815.83L321.94 1833.66L322.5 1843.11L323.06 1862.24L323.63 1875.6L324.19 1902.55L324.76 1953.17L325.32 1953.03L325.89 1967.24L326.45 1984.27L327.01 1993.27L327.58 1997.01L328.14 2004.47L328.71 2030.27L329.27 2039.4L329.83 2070.92L330.4 2072.48L330.96 2076.91L331.53 2086.26L332.09 2083.02L332.66 2093.83L333.22 2107.92L333.78 2111.54L334.35 2117.21L334.91 2120.3L335.48 2108.15L336.04 2104.12L336.61 2093.83L337.17 2076.71L337.73 2069.62L338.3 2078.47L338.86 2082.41L339.43 2073.52L339.99 2079L340.56 2088.49L341.12 2097.04L341.68 2101.88L342.25 2100L342.81 2088.06L343.38 2074.3L343.94 2069.09L344.51 2054.36L345.07 2053.45L345.63 2036.32L346.2 2032.74L346.76 2025.05L347.33 2034.71L347.89 2039.23L348.46 2043.9L349.02 2041.29L349.58 2057.62L350.15 2068.7L350.71 2079.85L351.28 2094.26L351.84 2100.34L352.4 2107.52L352.97 2118.83L353.53 2124.53L354.1 2126.27L354.66 2138.95L355.23 2143.03L355.79 2152.67L356.35 2157.29L356.92 2152.76L357.48 2163.42L358.05 2160.02L358.61 2171.74L359.18 2143.27L359.74 2124.37L360.3 2101.65L360.87 2090.91L361.43 2073.55L362 2063.46L362.56 2068.69L363.13 2087.26L363.69 2087.83L364.25 2096.61L364.82 2107.65L365.38 2110.2L365.95 2119.13L366.51 2139.84L367.08 2141.49L367.64 2155.69L368.2 2162.06L368.77 2167.26L369.33 2162.24L369.9 2154.49L370.46 2132.15L371.03 2118.38L371.59 2117.54L372.15 2110.52L372.72 2094.84L373.28 2091.48L373.85 2096.78L374.41 2109.15L374.98 2120.24L375.54 2119.76L376.1 2122.02L376.67 2132.6L377.23 2134.74L377.8 2134.54L378.36 2136L378.92 2144.57L379.49 2146.64L380.05 2147.07L380.62 2148.56L381.18 2148.54L381.75 2151.64L382.31 2151.64L382.87 2155.22L383.44 2157.03L384 2158.73L384.57 2160.07L385.13 2160.39L385.7 2163.13L386.26 2164.59L386.82 2166.7L387.39 2168.26L387.95 2170.01L388.52 2170.33L389.08 2172.66L389.65 2174.01L390.21 2175.01L390.77 2175.55L391.34 2178.78L391.9 2178.7L392.47 2180.23L393.03 2182.27L393.6 2181.25L394.16 2182.41L394.72 2184.75L395.29 2185.96L395.85 2185.81L396.42 2186.73L396.98 2187.65L397.54 2189.09L398.11 2189.55L398.67 2190.22L399.24 2192.55L399.8 2193.63L400.37 2193.63L400.93 2195.97L401.49 2195.82L402.06 2197.58L402.62 2197.53L403.19 2196.02L403.75 2195.1L404.32 2194.95L404.88 2194.93L405.44 2193.41L406.01 2196.27L406.57 2196.21L407.14 2198.49L407.7 2198.39L408.27 2201.24L408.83 2201.28L409.39 2202.66L409.96 2202.37L410.52 2204.43L411.09 2205.09L411.65 2206.16L412.22 2205.56L412.78 2205.7L413.34 2207.93L413.91 2207.98L414.47 2207.37L415.04 2209.14L415.6 2208.43L416.17 2211L416.73 2210.81L417.29 2209.32L417.86 2208.64L418.42 2209.68L418.99 2207.94L419.55 2209.49L420.12 2208.31L420.68 2207.99L421.24 2208.29L421.81 2207.1L422.37 2207.18L422.94 2207.61L423.5 2206.88L424.06 2208.34L424.63 2208.86L425.19 2208.49L425.76 2210.32L426.32 2211.66L426.89 2210.56L427.45 2212.86L428.01 2213.42L428.58 2213.61L429.14 2212.41L429.71 2213.99L430.27 2213.44L430.84 2213.43L431.4 2214.6L431.96 2213.75L432.53 2214.22L433.09 2215.76L433.66 2214.98L434.22 2214.14L434.79 2215.88L435.35 2215.56L435.91 2216.45L436.48 2215.44L437.04 2215.57L437.61 2216.75L438.17 2216.88L438.74 2217.7L439.3 2216.43L439.86 2218.16L440.43 2217.32L440.99 2216.61L441.56 2216.81L442.12 2219.02L442.69 2218.33L443.25 2218.67L443.81 2218.96L444.38 2218.62L444.94 2218.47L445.51 2220.28L446.07 2220.13L446.63 2220.18L447.2 2220.78L447.76 2220.91L448.33 2219.73L448.89 2221.18L449.46 2219.94L450.02 2221.83L450.58 2221.13L451.15 2222.56L451.71 2221.22L452.28 2221.24L452.84 2222.79L453.41 2223.22L453.97 2222.55L454.53 2223.21L455.1 2223.24L455.66 2222.72L456.23 2224.39L456.79 2223.46L457.36 2224.21L457.92 2224.77L458.48 2224.1L459.05 2225.16L459.61 2225.09L460.18 2225.6L460.74 2225.75L461.31 2225.2L461.87 2226.37L462.43 2225.59L463 2226.79L463.56 2222.97L464.13 2221.37L464.69 2217.4L465.25 2215.75L465.82 2213.57L466.38 2211.83L466.95 2213.12L467.51 2212.63L468.08 2210.64L468.64 2210.34L469.2 2209.92L469.77 2211.21L470.33 2210.07L470.9 2209L471.46 2209.35L472.03 2205.89L472.59 2211L473.15 2210.79L473.72 2212.94L474.28 2213.1L474.85 2216.14L475.41 2215.48L475.98 2218.78L476.54 2219.34L477.1 2220.12L477.67 2222.42L478.23 2223.08L478.8 2222.52L479.36 2224.77L479.93 2225.1L480.49 2225.93L481.05 2227.03L481.62 2226.41L482.18 2227.95L482.75 2229.24L483.31 2229.21L483.88 2228.41L484.44 2229.09L485 2228.63L485.57 2228.61L486.13 2229.24L486.7 2228.99L487.26 2229.97L487.82 2228.93L488.39 2230.39L488.95 2230.69L489.52 2230.13L490.08 2230.25L490.65 2231.28L491.21 2230.4L491.77 2228.1L492.34 2228.9L492.9 2227.41L493.47 2227.16L494.03 2224.5L494.6 2224.11L495.16 2224.11L495.72 2224.53L496.29 2226.63L496.85 2225.32L497.42 2226.95L497.98 2227.74L498.55 2227.85L499.11 2228.5L499.67 2227.16L500.24 2228.97L500.8 2229.21L501.37 2229.87L501.93 2228.55L502.5 2228.97L503.06 2229.53L503.62 2230.42L504.19 2231.12L504.75 2231.02L505.32 2230.63L505.88 2230.71L506.45 2232.35L507.01 2232.96L507.57 2232.6L508.14 2231.55L508.7 2232.19L509.27 2231.83L509.83 2230.73L510.39 2228.49L510.96 2228.54L511.52 2229.35L512.09 2228.38L512.65 2228.09L513.22 2227.4L513.78 2229.19L514.34 2229.97L514.91 2229.57L515.47 2229.89L516.04 2229.72L516.6 2230.88L517.17 2230.61L517.73 2229.93L518.29 2231.98L518.86 2231.08L519.42 2230.94L519.99 2232.24L520.55 2231.58L521.12 2232.4L521.68 2232.37L522.24 2231.91L522.81 2231.71L523.37 2232.69L523.94 2233.51L524.5 2232.5L525.07 2233.17L525.63 2234.24L526.19 2233.39L526.76 2233.49L527.32 2234.68L527.89 2234.58L528.45 2233.47L529.02 2234.02L529.58 2233.84L530.14 2234.76L530.71 2234.89L531.27 2235.75L531.84 2235.99L532.4 2234.54L532.97 2234.43L533.53 2235.79L534.09 2235.52L534.66 2235.43L535.22 2235.27L535.79 2236.29L536.35 2236.83L536.91 2236.45L537.48 2235L538.04 2236.45L538.61 2236.54L539.17 2235.38L539.74 2235.94L540.3 2235.33L540.86 2235.64L541.43 2235.61L541.99 2235.91L542.56 2236.83L543.12 2236.15L543.69 2235.53L544.25 2237.47L544.81 2235.5L545.38 2237.23L545.94 2237.46L546.51 2236.17L547.07 2235.96L547.64 2236.28L548.2 2235.8L548.76 2235.64L549.33 2235.7L549.89 2235.54L550.46 2237.17L551.02 2233.85L551.59 2231.59L552.15 2231L552.71 2231.61L553.28 2231.46L553.84 2230.5L554.41 2229.29L554.97 2228.93L555.54 2227.19L556.1 2227.33L556.66 2226.2L557.23 2226.3L557.79 2227.11L558.36 2228.24L558.92 2228.74L559.48 2230.17L560.05 2230.8L560.61 2230.98L561.18 2231.26L561.74 2229.92L562.31 2231.34L562.87 2231.03L563.43 2231.58L564 2230.73L564.56 2230.38L565.13 2231.87L565.69 2231.14L566.26 2230.73L566.82 2230.29L567.38 2230.18L567.95 2231.01L568.51 2230.82L569.08 2231.39L569.64 2231.41L570.21 2230.78L570.77 2230.15L571.33 2229.21L571.9 2230.02L572.46 2229.27L573.03 2229.4L573.59 2229.99L574.16 2228.75L574.72 2228.86L575.28 2229.42L575.85 2229L576.41 2228.9L576.98 2229.03L577.54 2228.53L578.11 2226.98L578.67 2228.12L579.23 2227.39L579.8 2227.39L580.36 2226.97L580.93 2225.42L581.49 2224.55L582.05 2225.45L582.62 2230.07L583.18 2230.38L583.75 2229.64L584.31 2230.09L584.88 2230.05L585.44 2228.28L586 2228.47L586.57 2228.18L587.13 2227.56L587.7 2226.95L588.26 2227.18L588.83 2226.22L589.39 2226.84L589.95 2225.27L590.52 2225.25L591.08 2224.93L591.65 2225.16L592.21 2224.64L592.78 2224.83L593.34 2224.09L593.9 2224.76L594.47 2224.18L595.03 2224.07L595.6 2222.9L596.16 2223.94L596.73 2224.97L597.29 2224.4L597.85 2225.73L598.42 2225.82L598.98 2226.84L599.55 2224.6L600.11 2224.86L600.67 2225.03L601.24 2225.28L601.8 2224.51L602.37 2225.03L602.93 2224.91L603.5 2224.52L604.06 2226.28L604.62 2225.67L605.19 2225.66L605.75 2225.16L606.32 2226L606.88 2225.13L607.45 2225.73L608.01 2225.41L608.57 2226.72L609.14 2225.86L609.7 2226.32L610.27 2226.66L610.83 2226.1L611.4 2226.91L611.96 2226.78L612.52 2227.96L613.09 2228.47L613.65 2227.94L614.22 2225.58L614.78 2225.52L615.35 2225.57L615.91 2224.3L616.47 2225.24L617.04 2224.63L617.6 2224.19L618.17 2224.69L618.73 2223.52L619.3 2223.48L619.86 2223.48L620.42 2223.27L620.99 2224.96L621.55 2222.82L622.12 2224.25L622.68 2224.5L623.25 2223.12L623.81 2224.49L624.37 2223.1L624.94 2222.89L625.5 2223.14L626.07 2222.91L626.63 2223.03L627.19 2223.36L627.76 2223.26L628.32 2222.96L628.89 2224.33L629.45 2224.61L630.02 2224.79L630.58 2224.61L631.14 2223.85L631.71 2223.06L632.27 2223.12L632.84 2223.73L633.4 2223.13L633.97 2224.07L634.53 2224.83L635.09 2223.61L635.66 2223.67L636.22 2222.98L636.79 2222.88L637.35 2223.97L637.92 2224.97L638.48 2223.68L639.04 2223.18L639.61 2224.03L640.17 2223.39L640.74 2224.13L641.3 2223.88L641.87 2224.46L642.43 2224.23L642.99 2224.65L643.56 2223.25L644.12 2223.79L644.69 2224.96L645.25 2224.51L645.82 2224.21L646.38 2224.48L646.94 2225.01L647.51 2225.68L648.07 2226.06L648.64 2226.09L649.2 2225.89L649.76 2226.36L650.33 2226.47L650.89 2226.66L651.46 2227.51L652.02 2227.19L652.59 2227.99L653.15 2228.25L653.71 2226.74L654.28 2227.9L654.84 2227.25L655.41 2228.38L655.97 2228.21L656.54 2228.33L657.1 2227.53L657.66 2228.36L658.23 2229.34L658.79 2228.62L659.36 2229L659.92 2229.25L660.49 2228.36L661.05 2229.36L661.61 2230.2L662.18 2230.13L662.74 2230.64L663.31 2229.53L663.87 2229.14L664.44 2229.46L665 2231.19L665.56 2230.91L666.13 2231.09L666.69 2230.06L667.26 2229.98L667.82 2231.5L668.38 2230.4L668.95 2230.06L669.51 2230.07L670.08 2231.94L670.64 2230.81L671.21 2231.96L671.77 2230.81L672.33 2230.64L672.9 2232.22L673.46 2231.32L674.03 2231.21L674.59 2231.05L675.16 2231.41L675.72 2231.91L676.28 2231.3L676.85 2231.37L677.41 2232.37L677.98 2231.17L678.54 2231.52L679.11 2232.01L679.67 2231.66L680.23 2232.71L680.8 2231.7L681.36 2232.15L681.93 2231.83L682.49 2233.05L683.06 2233.17L683.62 2232.63L684.18 2232.14L684.75 2232.32L685.31 2232.33L685.88 2233.52L686.44 2232.59L687.01 2232.46L687.57 2234.08L688.13 2232.8L688.7 2232.94L689.26 2233.97L689.83 2233.2L690.39 2234.14L690.96 2233.17L691.52 2233.78L692.08 2233.18L692.65 2234.32L693.21 2233.13L693.78 2233.89L694.34 2233.82L694.9 2234.62L695.47 2233.73L696.03 2234.04L696.6 2234.19L697.16 2235.13L697.73 2234.57L698.29 2234.14L698.85 2235.09L699.42 2234.8L699.98 2235.46L700.55 2233.7L701.11 2234.71L701.68 2235.18L702.24 2234.93L702.8 2234.35L703.37 2234.04L703.93 2235.83L704.5 2235.62L705.06 2235.93L705.63 2234.45L706.19 2234.36L706.75 2236.07L707.32 2235.51L707.88 2234.51L708.45 2235.31L709.01 2234.62L709.58 2235.73L710.14 2236.21L710.7 2234.7L711.27 2236.54L711.83 2236L712.4 2235.02L712.96 2236.67L713.53 2235.48L714.09 2235.01L714.65 2236.64L715.22 2235.2L715.78 2236.45L716.35 2235.64L716.91 2236.5L717.47 2236.92L718.04 2236.89L718.6 2236.99L719.17 2237.28L719.73 2236.91L720.3 2235.51L720.86 2235.48L721.42 2235.54L721.99 2236.34L722.55 2235.41L723.12 2235.95L723.68 2236.47L724.25 2236.19L724.81 2236.79L725.37 2236.93L725.94 2235.97L726.5 2235.35L727.07 2236.19L727.63 2236.43L728.2 2236.28L728.76 2235.96L729.32 2235.17L729.89 2235L730.45 2235.13L731.02 2236.39L731.58 2236.22L732.15 2236.36L732.71 2234.85L733.27 2234.95L733.84 2236.12L734.4 2236.53L734.97 2236.06L735.53 2236.56L736.1 2235.92L736.66 2236.54L737.22 2235.53L737.79 2235.67L738.35 2236.06L738.92 2236.18L739.48 2234.97L740.04 2236.02L740.61 2236.2L741.17 2235.47L741.74 2236.04L742.3 2235.12L742.87 2235.39L743.43 2236.39L743.99 2235.77L744.56 2236.46L745.12 2235.97L745.69 2235L746.25 2236.62L746.82 2235.79L747.38 2236.21L747.94 2235.18L748.51 2236.46L749.07 2235.68L749.64 2235.85L750.2 2235.88L750.77 2235.54L751.33 2235.28L751.89 2235.6L752.46 2235.55L753.02 2235.35L753.59 2235.81L754.15 2235.49L754.72 2236.19L755.28 2235.55L755.84 2233.05L756.41 2231.68L756.97 2232.55L757.54 2232.14L758.1 2231.25L758.66 2231.12L759.23 2229.65L759.79 2231.08L760.36 2232.54L760.92 2232.48L761.49 2233.6L762.05 2238.79L762.61 2238.19L763.18 2239.16L763.74 2240.33L764.31 2239.01L764.87 2239.71L765.44 2239.44L766 2238.68L766.56 2239.51L767.13 2239.41L767.69 2238.29L768.26 2238.28L768.82 2238.28L769.39 2239.49L769.95 2238.03" stroke="#0000ff" stroke-width="1.6" fill="none" stroke-linejoin="round"/>
<path d="M206.94 1777.5L215.74 1777.5L211.34 1769.2ZM207.51 1781.7L216.31 1781.7L211.91 1773.4ZM208.07 1784.29L216.87 1784.29L212.47 1775.99ZM208.64 1787.46L217.44 1787.46L213.04 1779.16ZM209.2 1791.43L218 1791.43L213.6 1783.13ZM209.76 1796.4L218.56 1796.4L214.16 1788.1ZM210.33 1797.34L219.13 1797.34L214.73 1789.04ZM210.89 1803.29L219.69 1803.29L215.29 1794.99ZM211.46 1804.27L220.26 1804.27L215.86 1795.97ZM212.02 1810.03L220.82 1810.03L216.42 1801.73ZM212.58 1815.05L221.38 1815.05L216.98 1806.75ZM213.15 1817.83L221.95 1817.83L217.55 1809.53ZM213.71 1822.18L222.51 1822.18L218.11 1813.88ZM214.28 1823.26L223.08 1823.26L218.68 1814.96ZM214.84 1827.84L223.64 1827.84L219.24 1819.54ZM215.41 1832.32L224.21 1832.32L219.81 1824.02ZM215.97 1837.18L224.77 1837.18L220.37 1828.88ZM216.53 1840.34L225.33 1840.34L220.93 1832.04ZM217.1 1842.5L225.9 1842.5L221.5 1834.2ZM217.66 1844.89L226.46 1844.89L222.06 1836.59ZM218.23 1848.95L227.03 1848.95L222.63 1840.65ZM218.79 1850.44L227.59 1850.44L223.19 1842.14ZM219.36 1853.89L228.16 1853.89L223.76 1845.59ZM219.92 1855.75L228.72 1855.75L224.32 1847.45ZM220.48 1860.94L229.28 1860.94L224.88 1852.64ZM221.05 1864.57L229.85 1864.57L225.45 1856.27ZM221.61 1865.16L230.41 1865.16L226.01 1856.86ZM222.18 1868.16L230.98 1868.16L226.58 1859.86ZM222.74 1869.49L231.54 1869.49L227.14 1861.19ZM223.31 1871.84L232.11 1871.84L227.71 1863.54ZM223.87 1874.81L232.67 1874.81L228.27 1866.51ZM224.43 1875.75L233.23 1875.75L228.83 1867.45ZM225 1878.27L233.8 1878.27L229.4 1869.97ZM225.56 1878.43L234.36 1878.43L229.96 1870.13ZM226.13 1881.48L234.93 1881.48L230.53 1873.18ZM226.69 1883.34L235.49 1883.34L231.09 1875.04ZM227.26 1883.54L236.06 1883.54L231.66 1875.24ZM227.82 1887.49L236.62 1887.49L232.22 1879.19ZM228.38 1887.35L237.18 1887.35L232.78 1879.05ZM228.95 1889.42L237.75 1889.42L233.35 1881.12ZM229.51 1892.01L238.31 1892.01L233.91 1883.71ZM230.08 1890.86L238.88 1890.86L234.48 1882.56ZM230.64 1894.11L239.44 1894.11L235.04 1885.81ZM231.21 1897.86L240.01 1897.86L235.61 1889.56ZM231.77 1905.54L240.57 1905.54L236.17 1897.24ZM232.33 1904.97L241.13 1904.97L236.73 1896.67ZM232.9 1910.28L241.7 1910.28L237.3 1901.98ZM233.46 1914.43L242.26 1914.43L237.86 1906.13ZM234.03 1912.26L242.83 1912.26L238.43 1903.96ZM234.59 1918.37L243.39 1918.37L238.99 1910.07ZM235.16 1918.87L243.96 1918.87L239.56 1910.57ZM235.72 1918.19L244.52 1918.19L240.12 1909.89ZM236.28 1920.77L245.08 1920.77L240.68 1912.47ZM236.85 1920.76L245.65 1920.76L241.25 1912.46ZM237.41 1920.74L246.21 1920.74L241.81 1912.44ZM237.98 1920.87L246.78 1920.87L242.38 1912.57ZM238.54 1922.36L247.34 1922.36L242.94 1914.06ZM239.1 1927.23L247.9 1927.23L243.5 1918.93ZM239.67 1923.23L248.47 1923.23L244.07 1914.93ZM240.23 1924.09L249.03 1924.09L244.63 1915.79ZM240.8 1927.83L249.6 1927.83L245.2 1919.53ZM241.36 1927.2L250.16 1927.2L245.76 1918.9ZM241.93 1932.09L250.73 1932.09L246.33 1923.79ZM242.49 1932.15L251.29 1932.15L246.89 1923.85ZM243.05 1933.61L251.85 1933.61L247.45 1925.31ZM243.62 1933.65L252.42 1933.65L248.02 1925.35ZM244.18 1932.9L252.98 1932.9L248.58 1924.6ZM244.75 1930.1L253.55 1930.1L249.15 1921.8ZM245.31 1935.8L254.11 1935.8L249.71 1927.5ZM245.88 1935.14L254.68 1935.14L250.28 1926.84ZM246.44 1937.4L255.24 1937.4L250.84 1929.1ZM247 1932.13L255.8 1932.13L251.4 1923.83ZM247.57 1933.26L256.37 1933.26L251.97 1924.96ZM248.13 1933.52L256.93 1933.52L252.53 1925.22ZM248.7 1930.04L257.5 1930.04L253.1 1921.74ZM249.26 1928.38L258.06 1928.38L253.66 1920.08ZM249.83 1920.58L258.63 1920.58L254.23 1912.28ZM250.39 1923.75L259.19 1923.75L254.79 1915.45ZM250.95 1922.2L259.75 1922.2L255.35 1913.9ZM251.52 1914.18L260.32 1914.18L255.92 1905.88ZM252.08 1914.63L260.88 1914.63L256.48 1906.33ZM252.65 1915.41L261.45 1915.41L257.05 1907.11ZM253.21 1911.14L262.01 1911.14L257.61 1902.84ZM253.78 1909.61L262.58 1909.61L258.18 1901.31ZM254.34 1911.95L263.14 1911.95L258.74 1903.65ZM254.9 1917.96L263.7 1917.96L259.3 1909.66ZM255.47 1930.44L264.27 1930.44L259.87 1922.14ZM256.03 1945.28L264.83 1945.28L260.43 1936.98ZM256.6 1961.19L265.4 1961.19L261 1952.89ZM257.16 1958.45L265.96 1958.45L261.56 1950.15ZM257.73 1948.97L266.52 1948.97L262.12 1940.67ZM258.29 1939.64L267.09 1939.64L262.69 1931.34ZM258.85 1935.46L267.65 1935.46L263.25 1927.16ZM259.42 1926.84L268.22 1926.84L263.82 1918.54ZM259.98 1927.31L268.78 1927.31L264.38 1919.01ZM260.55 1923.99L269.35 1923.99L264.95 1915.69ZM261.11 1919.77L269.91 1919.77L265.51 1911.47ZM261.67 1909.93L270.47 1909.93L266.07 1901.63ZM262.24 1908.82L271.04 1908.82L266.64 1900.52ZM262.8 1901.92L271.6 1901.92L267.2 1893.62ZM263.37 1899.34L272.17 1899.34L267.77 1891.04ZM263.93 1894.73L272.73 1894.73L268.33 1886.43ZM264.5 1893.45L273.3 1893.45L268.9 1885.15ZM265.06 1887.35L273.86 1887.35L269.46 1879.05ZM265.62 1883.6L274.42 1883.6L270.02 1875.3ZM266.19 1883.1L274.99 1883.1L270.59 1874.8ZM266.75 1875.13L275.55 1875.13L271.15 1866.83ZM267.32 1872.22L276.12 1872.22L271.72 1863.92ZM267.88 1863.38L276.68 1863.38L272.28 1855.08ZM268.45 1847.73L277.25 1847.73L272.85 1839.43ZM269.01 1841.17L277.81 1841.17L273.41 1832.87ZM269.57 1857.88L278.37 1857.88L273.97 1849.58ZM270.14 1829.73L278.94 1829.73L274.54 1821.43ZM270.7 1871.06L279.5 1871.06L275.1 1862.76ZM271.27 1837.68L280.07 1837.68L275.67 1829.38ZM271.83 1852L280.63 1852L276.23 1843.7ZM272.4 1827.96L281.2 1827.96L276.8 1819.66ZM272.96 1860.17L281.76 1860.17L277.36 1851.87ZM273.52 1846.38L282.32 1846.38L277.92 1838.08ZM274.09 1921.35L282.89 1921.35L278.49 1913.05ZM274.65 1944.6L283.45 1944.6L279.05 1936.3ZM275.22 1864.87L284.02 1864.87L279.62 1856.57ZM275.78 1840.67L284.58 1840.67L280.18 1832.37ZM276.35 1849.33L285.15 1849.33L280.75 1841.03ZM276.91 1820.17L285.71 1820.17L281.31 1811.87ZM277.47 1852.03L286.27 1852.03L281.87 1843.73ZM278.04 1844.42L286.84 1844.42L282.44 1836.12ZM278.6 1868.42L287.4 1868.42L283 1860.12ZM279.17 1875.83L287.97 1875.83L283.57 1867.53ZM279.73 1840.43L288.53 1840.43L284.13 1832.13ZM280.3 1913.79L289.09 1913.79L284.69 1905.49ZM280.86 1823.79L289.66 1823.79L285.26 1815.49ZM281.42 1821.04L290.22 1821.04L285.82 1812.74ZM281.99 1832.36L290.79 1832.36L286.39 1824.06ZM282.55 1890.4L291.35 1890.4L286.95 1882.1ZM283.12 1897.73L291.92 1897.73L287.52 1889.43ZM283.68 1835.96L292.48 1835.96L288.08 1827.66ZM284.24 1815.9L293.04 1815.9L288.64 1807.6ZM284.81 1761.78L293.61 1761.78L289.21 1753.48ZM285.37 1724.47L294.17 1724.47L289.77 1716.17ZM285.94 1750.1L294.74 1750.1L290.34 1741.8ZM286.5 1761.69L295.3 1761.69L290.9 1753.39ZM287.07 1798.65L295.87 1798.65L291.47 1790.35ZM287.63 1821.11L296.43 1821.11L292.03 1812.81ZM288.19 1830.12L296.99 1830.12L292.59 1821.82ZM288.76 1783.17L297.56 1783.17L293.16 1774.87ZM289.32 1709.99L298.12 1709.99L293.72 1701.69ZM289.89 1659.7L298.69 1659.7L294.29 1651.4ZM290.45 1608.63L299.25 1608.63L294.85 1600.33ZM291.02 1561.98L299.82 1561.98L295.42 1553.68ZM291.58 1524.25L300.38 1524.25L295.98 1515.95ZM292.14 1548.52L300.94 1548.52L296.54 1540.22ZM292.71 1542.2L301.51 1542.2L297.11 1533.9ZM293.27 1554.25L302.07 1554.25L297.67 1545.95ZM293.84 1576.15L302.64 1576.15L298.24 1567.85ZM294.4 1599.86L303.2 1599.86L298.8 1591.56ZM294.97 1639.89L303.77 1639.89L299.37 1631.59ZM295.53 1673.17L304.33 1673.17L299.93 1664.87ZM296.09 1715.83L304.89 1715.83L300.49 1707.53ZM296.66 1753.63L305.46 1753.63L301.06 1745.33ZM297.22 1784.59L306.02 1784.59L301.62 1776.29ZM297.79 1826.83L306.59 1826.83L302.19 1818.53ZM298.35 1859.91L307.15 1859.91L302.75 1851.61ZM298.92 1871.92L307.72 1871.92L303.32 1863.62ZM299.48 1901.28L308.28 1901.28L303.88 1892.98ZM300.04 1955.65L308.84 1955.65L304.44 1947.35ZM300.61 1978.96L309.41 1978.96L305.01 1970.66ZM301.17 2021.46L309.97 2021.46L305.57 2013.16ZM301.74 2034.21L310.54 2034.21L306.14 2025.91ZM302.3 2057.87L311.1 2057.87L306.7 2049.57ZM302.87 2054.36L311.66 2054.36L307.26 2046.06ZM303.43 2068.52L312.23 2068.52L307.83 2060.22ZM303.99 2081.03L312.79 2081.03L308.39 2072.73ZM304.56 2062.04L313.36 2062.04L308.96 2053.74ZM305.12 2038.31L313.92 2038.31L309.52 2030.01ZM305.69 2020.04L314.49 2020.04L310.09 2011.74ZM306.25 1988.37L315.05 1988.37L310.65 1980.07ZM306.81 1947.59L315.61 1947.59L311.21 1939.29ZM307.38 1926.22L316.18 1926.22L311.78 1917.92ZM307.94 1868.98L316.74 1868.98L312.34 1860.68ZM308.51 1837.66L317.31 1837.66L312.91 1829.36ZM309.07 1758.68L317.87 1758.68L313.47 1750.38ZM309.64 1720.83L318.44 1720.83L314.04 1712.53ZM310.2 1734.01L319 1734.01L314.6 1725.71ZM310.76 1756.76L319.56 1756.76L315.16 1748.46ZM311.33 1769.9L320.13 1769.9L315.73 1761.6ZM311.89 1770.48L320.69 1770.48L316.29 1762.18ZM312.46 1783.35L321.26 1783.35L316.86 1775.05ZM313.02 1777.95L321.82 1777.95L317.42 1769.65ZM313.59 1777.95L322.39 1777.95L317.99 1769.65ZM314.15 1781.33L322.95 1781.33L318.55 1773.03ZM314.71 1807.22L323.51 1807.22L319.11 1798.92ZM315.28 1797.74L324.08 1797.74L319.68 1789.44ZM315.84 1804.56L324.64 1804.56L320.24 1796.26ZM316.41 1808.77L325.21 1808.77L320.81 1800.47ZM316.97 1818.83L325.77 1818.83L321.37 1810.53ZM317.54 1836.66L326.34 1836.66L321.94 1828.36ZM318.1 1846.11L326.9 1846.11L322.5 1837.81ZM318.66 1865.24L327.46 1865.24L323.06 1856.94ZM319.23 1878.6L328.03 1878.6L323.63 1870.3ZM319.79 1905.55L328.59 1905.55L324.19 1897.25ZM320.36 1956.17L329.16 1956.17L324.76 1947.87ZM320.92 1956.03L329.72 1956.03L325.32 1947.73ZM321.49 1970.24L330.29 1970.24L325.89 1961.94ZM322.05 1987.27L330.85 1987.27L326.45 1978.97ZM322.61 1996.27L331.41 1996.27L327.01 1987.97ZM323.18 2000.01L331.98 2000.01L327.58 1991.71ZM323.74 2007.47L332.54 2007.47L328.14 1999.17ZM324.31 2033.27L333.11 2033.27L328.71 2024.97ZM324.87 2042.4L333.67 2042.4L329.27 2034.1ZM325.44 2073.92L334.23 2073.92L329.83 2065.62ZM326 2075.48L334.8 2075.48L330.4 2067.18ZM326.56 2079.91L335.36 2079.91L330.96 2071.61ZM327.13 2089.26L335.93 2089.26L331.53 2080.96ZM327.69 2086.02L336.49 2086.02L332.09 2077.72ZM328.26 2096.83L337.06 2096.83L332.66 2088.53ZM328.82 2110.92L337.62 2110.92L333.22 2102.62ZM329.38 2114.54L338.18 2114.54L333.78 2106.24ZM329.95 2120.21L338.75 2120.21L334.35 2111.91ZM330.51 2123.3L339.31 2123.3L334.91 2115ZM331.08 2111.15L339.88 2111.15L335.48 2102.85ZM331.64 2107.12L340.44 2107.12L336.04 2098.82ZM332.21 2096.83L341.01 2096.83L336.61 2088.53ZM332.77 2079.71L341.57 2079.71L337.17 2071.41ZM333.33 2072.62L342.13 2072.62L337.73 2064.32ZM333.9 2081.47L342.7 2081.47L338.3 2073.17ZM334.46 2085.41L343.26 2085.41L338.86 2077.11ZM335.03 2076.52L343.83 2076.52L339.43 2068.22ZM335.59 2082L344.39 2082L339.99 2073.7ZM336.16 2091.49L344.96 2091.49L340.56 2083.19ZM336.72 2100.04L345.52 2100.04L341.12 2091.74ZM337.28 2104.88L346.08 2104.88L341.68 2096.58ZM337.85 2103L346.65 2103L342.25 2094.7ZM338.41 2091.06L347.21 2091.06L342.81 2082.76ZM338.98 2077.3L347.78 2077.3L343.38 2069ZM339.54 2072.09L348.34 2072.09L343.94 2063.79ZM340.11 2057.36L348.91 2057.36L344.51 2049.06ZM340.67 2056.45L349.47 2056.45L345.07 2048.15ZM341.23 2039.32L350.03 2039.32L345.63 2031.02ZM341.8 2035.74L350.6 2035.74L346.2 2027.44ZM342.36 2028.05L351.16 2028.05L346.76 2019.75ZM342.93 2037.71L351.73 2037.71L347.33 2029.41ZM343.49 2042.23L352.29 2042.23L347.89 2033.93ZM344.06 2046.9L352.86 2046.9L348.46 2038.6ZM344.62 2044.29L353.42 2044.29L349.02 2035.99ZM345.18 2060.62L353.98 2060.62L349.58 2052.32ZM345.75 2071.7L354.55 2071.7L350.15 2063.4ZM346.31 2082.85L355.11 2082.85L350.71 2074.55ZM346.88 2097.26L355.68 2097.26L351.28 2088.96ZM347.44 2103.34L356.24 2103.34L351.84 2095.04ZM348 2110.52L356.8 2110.52L352.4 2102.22ZM348.57 2121.83L357.37 2121.83L352.97 2113.53ZM349.13 2127.53L357.93 2127.53L353.53 2119.23ZM349.7 2129.27L358.5 2129.27L354.1 2120.97ZM350.26 2141.95L359.06 2141.95L354.66 2133.65ZM350.83 2146.03L359.63 2146.03L355.23 2137.73ZM351.39 2155.67L360.19 2155.67L355.79 2147.37ZM351.95 2160.29L360.75 2160.29L356.35 2151.99ZM352.52 2155.76L361.32 2155.76L356.92 2147.46ZM353.08 2166.42L361.88 2166.42L357.48 2158.12ZM353.65 2163.02L362.45 2163.02L358.05 2154.72ZM354.21 2174.74L363.01 2174.74L358.61 2166.44ZM354.78 2146.27L363.58 2146.27L359.18 2137.97ZM355.34 2127.37L364.14 2127.37L359.74 2119.07ZM355.9 2104.65L364.7 2104.65L360.3 2096.35ZM356.47 2093.91L365.27 2093.91L360.87 2085.61ZM357.03 2076.55L365.83 2076.55L361.43 2068.25ZM357.6 2066.46L366.4 2066.46L362 2058.16ZM358.16 2071.69L366.96 2071.69L362.56 2063.39ZM358.73 2090.26L367.53 2090.26L363.13 2081.96ZM359.29 2090.83L368.09 2090.83L363.69 2082.53ZM359.85 2099.61L368.65 2099.61L364.25 2091.31ZM360.42 2110.65L369.22 2110.65L364.82 2102.35ZM360.98 2113.2L369.78 2113.2L365.38 2104.9ZM361.55 2122.13L370.35 2122.13L365.95 2113.83ZM362.11 2142.84L370.91 2142.84L366.51 2134.54ZM362.68 2144.49L371.48 2144.49L367.08 2136.19ZM363.24 2158.69L372.04 2158.69L367.64 2150.39ZM363.8 2165.06L372.6 2165.06L368.2 2156.76ZM364.37 2170.26L373.17 2170.26L368.77 2161.96ZM364.93 2165.24L373.73 2165.24L369.33 2156.94ZM365.5 2157.49L374.3 2157.49L369.9 2149.19ZM366.06 2135.15L374.86 2135.15L370.46 2126.85ZM366.63 2121.38L375.43 2121.38L371.03 2113.08ZM367.19 2120.54L375.99 2120.54L371.59 2112.24ZM367.75 2113.52L376.55 2113.52L372.15 2105.22ZM368.32 2097.84L377.12 2097.84L372.72 2089.54ZM368.88 2094.48L377.68 2094.48L373.28 2086.18ZM369.45 2099.78L378.25 2099.78L373.85 2091.48ZM370.01 2112.15L378.81 2112.15L374.41 2103.85ZM370.58 2123.24L379.38 2123.24L374.98 2114.94ZM371.14 2122.76L379.94 2122.76L375.54 2114.46ZM371.7 2125.02L380.5 2125.02L376.1 2116.72ZM372.27 2135.6L381.07 2135.6L376.67 2127.3ZM372.83 2137.74L381.63 2137.74L377.23 2129.44ZM373.4 2137.54L382.2 2137.54L377.8 2129.24ZM373.96 2139L382.76 2139L378.36 2130.7ZM374.52 2147.57L383.32 2147.57L378.92 2139.27ZM375.09 2149.64L383.89 2149.64L379.49 2141.34ZM375.65 2150.07L384.45 2150.07L380.05 2141.77ZM376.22 2151.56L385.02 2151.56L380.62 2143.26ZM376.78 2151.54L385.58 2151.54L381.18 2143.24ZM377.35 2154.64L386.15 2154.64L381.75 2146.34ZM377.91 2154.64L386.71 2154.64L382.31 2146.34ZM378.47 2158.22L387.27 2158.22L382.87 2149.92ZM379.04 2160.03L387.84 2160.03L383.44 2151.73ZM379.6 2161.73L388.4 2161.73L384 2153.43ZM380.17 2163.07L388.97 2163.07L384.57 2154.77ZM380.73 2163.39L389.53 2163.39L385.13 2155.09ZM381.3 2166.13L390.1 2166.13L385.7 2157.83ZM381.86 2167.59L390.66 2167.59L386.26 2159.29ZM382.42 2169.7L391.22 2169.7L386.82 2161.4ZM382.99 2171.26L391.79 2171.26L387.39 2162.96ZM383.55 2173.01L392.35 2173.01L387.95 2164.71ZM384.12 2173.33L392.92 2173.33L388.52 2165.03ZM384.68 2175.66L393.48 2175.66L389.08 2167.36ZM385.25 2177.01L394.05 2177.01L389.65 2168.71ZM385.81 2178.01L394.61 2178.01L390.21 2169.71ZM386.37 2178.55L395.17 2178.55L390.77 2170.25ZM386.94 2181.78L395.74 2181.78L391.34 2173.48ZM387.5 2181.7L396.3 2181.7L391.9 2173.4ZM388.07 2183.23L396.87 2183.23L392.47 2174.93ZM388.63 2185.27L397.43 2185.27L393.03 2176.97ZM389.2 2184.25L398 2184.25L393.6 2175.95ZM389.76 2185.41L398.56 2185.41L394.16 2177.11ZM390.32 2187.75L399.12 2187.75L394.72 2179.45ZM390.89 2188.96L399.69 2188.96L395.29 2180.66ZM391.45 2188.81L400.25 2188.81L395.85 2180.51ZM392.02 2189.73L400.82 2189.73L396.42 2181.43ZM392.58 2190.65L401.38 2190.65L396.98 2182.35ZM393.14 2192.09L401.94 2192.09L397.54 2183.79ZM393.71 2192.55L402.51 2192.55L398.11 2184.25ZM394.27 2193.22L403.07 2193.22L398.67 2184.92ZM394.84 2195.55L403.64 2195.55L399.24 2187.25ZM395.4 2196.63L404.2 2196.63L399.8 2188.33ZM395.97 2196.63L404.77 2196.63L400.37 2188.33ZM396.53 2198.97L405.33 2198.97L400.93 2190.67ZM397.09 2198.82L405.89 2198.82L401.49 2190.52ZM397.66 2200.58L406.46 2200.58L402.06 2192.28ZM398.22 2200.53L407.02 2200.53L402.62 2192.23ZM398.79 2199.02L407.59 2199.02L403.19 2190.72ZM399.35 2198.1L408.15 2198.1L403.75 2189.8ZM399.92 2197.95L408.72 2197.95L404.32 2189.65ZM400.48 2197.93L409.28 2197.93L404.88 2189.63ZM401.04 2196.41L409.84 2196.41L405.44 2188.11ZM401.61 2199.27L410.41 2199.27L406.01 2190.97ZM402.17 2199.21L410.97 2199.21L406.57 2190.91ZM402.74 2201.49L411.54 2201.49L407.14 2193.19ZM403.3 2201.39L412.1 2201.39L407.7 2193.09ZM403.87 2204.24L412.67 2204.24L408.27 2195.94ZM404.43 2204.28L413.23 2204.28L408.83 2195.98ZM404.99 2205.66L413.79 2205.66L409.39 2197.36ZM405.56 2205.37L414.36 2205.37L409.96 2197.07ZM406.12 2207.43L414.92 2207.43L410.52 2199.13ZM406.69 2208.09L415.49 2208.09L411.09 2199.79ZM407.25 2209.16L416.05 2209.16L411.65 2200.86ZM407.82 2208.56L416.62 2208.56L412.22 2200.26ZM408.38 2208.7L417.18 2208.7L412.78 2200.4ZM408.94 2210.93L417.74 2210.93L413.34 2202.63ZM409.51 2210.98L418.31 2210.98L413.91 2202.68ZM410.07 2210.37L418.87 2210.37L414.47 2202.07ZM410.64 2212.14L419.44 2212.14L415.04 2203.84ZM411.2 2211.43L420 2211.43L415.6 2203.13ZM411.77 2214L420.57 2214L416.17 2205.7ZM412.33 2213.81L421.13 2213.81L416.73 2205.51ZM412.89 2212.32L421.69 2212.32L417.29 2204.02ZM413.46 2211.64L422.26 2211.64L417.86 2203.34ZM414.02 2212.68L422.82 2212.68L418.42 2204.38ZM414.59 2210.94L423.39 2210.94L418.99 2202.64ZM415.15 2212.49L423.95 2212.49L419.55 2204.19ZM415.72 2211.31L424.51 2211.31L420.12 2203.01ZM416.28 2210.99L425.08 2210.99L420.68 2202.69ZM416.84 2211.29L425.64 2211.29L421.24 2202.99ZM417.41 2210.1L426.21 2210.1L421.81 2201.8ZM417.97 2210.18L426.77 2210.18L422.37 2201.88ZM418.54 2210.61L427.34 2210.61L422.94 2202.31ZM419.1 2209.88L427.9 2209.88L423.5 2201.58ZM419.66 2211.34L428.46 2211.34L424.06 2203.04ZM420.23 2211.86L429.03 2211.86L424.63 2203.56ZM420.79 2211.49L429.59 2211.49L425.19 2203.19ZM421.36 2213.32L430.16 2213.32L425.76 2205.02ZM421.92 2214.66L430.72 2214.66L426.32 2206.36ZM422.49 2213.56L431.29 2213.56L426.89 2205.26ZM423.05 2215.86L431.85 2215.86L427.45 2207.56ZM423.61 2216.42L432.41 2216.42L428.01 2208.12ZM424.18 2216.61L432.98 2216.61L428.58 2208.31ZM424.74 2215.41L433.54 2215.41L429.14 2207.11ZM425.31 2216.99L434.11 2216.99L429.71 2208.69ZM425.87 2216.44L434.67 2216.44L430.27 2208.14ZM426.44 2216.43L435.24 2216.43L430.84 2208.13ZM427 2217.6L435.8 2217.6L431.4 2209.3ZM427.56 2216.75L436.36 2216.75L431.96 2208.45ZM428.13 2217.22L436.93 2217.22L432.53 2208.92ZM428.69 2218.76L437.49 2218.76L433.09 2210.46ZM429.26 2217.98L438.06 2217.98L433.66 2209.68ZM429.82 2217.14L438.62 2217.14L434.22 2208.84ZM430.39 2218.88L439.19 2218.88L434.79 2210.58ZM430.95 2218.56L439.75 2218.56L435.35 2210.26ZM431.51 2219.45L440.31 2219.45L435.91 2211.15ZM432.08 2218.44L440.88 2218.44L436.48 2210.14ZM432.64 2218.57L441.44 2218.57L437.04 2210.27ZM433.21 2219.75L442.01 2219.75L437.61 2211.45ZM433.77 2219.88L442.57 2219.88L438.17 2211.58ZM434.34 2220.7L443.14 2220.7L438.74 2212.4ZM434.9 2219.43L443.7 2219.43L439.3 2211.13ZM435.46 2221.16L444.26 2221.16L439.86 2212.86ZM436.03 2220.32L444.83 2220.32L440.43 2212.02ZM436.59 2219.61L445.39 2219.61L440.99 2211.31ZM437.16 2219.81L445.96 2219.81L441.56 2211.51ZM437.72 2222.02L446.52 2222.02L442.12 2213.72ZM438.29 2221.33L447.08 2221.33L442.69 2213.03ZM438.85 2221.67L447.65 2221.67L443.25 2213.37ZM439.41 2221.96L448.21 2221.96L443.81 2213.66ZM439.98 2221.62L448.78 2221.62L444.38 2213.32ZM440.54 2221.47L449.34 2221.47L444.94 2213.17ZM441.11 2223.28L449.91 2223.28L445.51 2214.98ZM441.67 2223.13L450.47 2223.13L446.07 2214.83ZM442.23 2223.18L451.03 2223.18L446.63 2214.88ZM442.8 2223.78L451.6 2223.78L447.2 2215.48ZM443.36 2223.91L452.16 2223.91L447.76 2215.61ZM443.93 2222.73L452.73 2222.73L448.33 2214.43ZM444.49 2224.18L453.29 2224.18L448.89 2215.88ZM445.06 2222.94L453.86 2222.94L449.46 2214.64ZM445.62 2224.83L454.42 2224.83L450.02 2216.53ZM446.18 2224.13L454.98 2224.13L450.58 2215.83ZM446.75 2225.56L455.55 2225.56L451.15 2217.26ZM447.31 2224.22L456.11 2224.22L451.71 2215.92ZM447.88 2224.24L456.68 2224.24L452.28 2215.94ZM448.44 2225.79L457.24 2225.79L452.84 2217.49ZM449.01 2226.22L457.81 2226.22L453.41 2217.92ZM449.57 2225.55L458.37 2225.55L453.97 2217.25ZM450.13 2226.21L458.93 2226.21L454.53 2217.91ZM450.7 2226.24L459.5 2226.24L455.1 2217.94ZM451.26 2225.72L460.06 2225.72L455.66 2217.42ZM451.83 2227.39L460.63 2227.39L456.23 2219.09ZM452.39 2226.46L461.19 2226.46L456.79 2218.16ZM452.96 2227.21L461.76 2227.21L457.36 2218.91ZM453.52 2227.77L462.32 2227.77L457.92 2219.47ZM454.08 2227.1L462.88 2227.1L458.48 2218.8ZM454.65 2228.16L463.45 2228.16L459.05 2219.86ZM455.21 2228.09L464.01 2228.09L459.61 2219.79ZM455.78 2228.6L464.58 2228.6L460.18 2220.3ZM456.34 2228.75L465.14 2228.75L460.74 2220.45ZM456.91 2228.2L465.71 2228.2L461.31 2219.9ZM457.47 2229.37L466.27 2229.37L461.87 2221.07ZM458.03 2228.59L466.83 2228.59L462.43 2220.29ZM458.6 2229.79L467.4 2229.79L463 2221.49ZM459.16 2225.97L467.96 2225.97L463.56 2217.67ZM459.73 2224.37L468.53 2224.37L464.13 2216.07ZM460.29 2220.4L469.09 2220.4L464.69 2212.1ZM460.86 2218.75L469.65 2218.75L465.25 2210.45ZM461.42 2216.57L470.22 2216.57L465.82 2208.27ZM461.98 2214.83L470.78 2214.83L466.38 2206.53ZM462.55 2216.12L471.35 2216.12L466.95 2207.82ZM463.11 2215.63L471.91 2215.63L467.51 2207.33ZM463.68 2213.64L472.48 2213.64L468.08 2205.34ZM464.24 2213.34L473.04 2213.34L468.64 2205.04ZM464.8 2212.92L473.6 2212.92L469.2 2204.62ZM465.37 2214.21L474.17 2214.21L469.77 2205.91ZM465.93 2213.07L474.73 2213.07L470.33 2204.77ZM466.5 2212L475.3 2212L470.9 2203.7ZM467.06 2212.35L475.86 2212.35L471.46 2204.05ZM467.63 2208.89L476.43 2208.89L472.03 2200.59ZM468.19 2214L476.99 2214L472.59 2205.7ZM468.75 2213.79L477.55 2213.79L473.15 2205.49ZM469.32 2215.94L478.12 2215.94L473.72 2207.64ZM469.88 2216.1L478.68 2216.1L474.28 2207.8ZM470.45 2219.14L479.25 2219.14L474.85 2210.84ZM471.01 2218.48L479.81 2218.48L475.41 2210.18ZM471.58 2221.78L480.38 2221.78L475.98 2213.48ZM472.14 2222.34L480.94 2222.34L476.54 2214.04ZM472.7 2223.12L481.5 2223.12L477.1 2214.82ZM473.27 2225.42L482.07 2225.42L477.67 2217.12ZM473.83 2226.08L482.63 2226.08L478.23 2217.78ZM474.4 2225.52L483.2 2225.52L478.8 2217.22ZM474.96 2227.77L483.76 2227.77L479.36 2219.47ZM475.53 2228.1L484.33 2228.1L479.93 2219.8ZM476.09 2228.93L484.89 2228.93L480.49 2220.63ZM476.65 2230.03L485.45 2230.03L481.05 2221.73ZM477.22 2229.41L486.02 2229.41L481.62 2221.11ZM477.78 2230.95L486.58 2230.95L482.18 2222.65ZM478.35 2232.24L487.15 2232.24L482.75 2223.94ZM478.91 2232.21L487.71 2232.21L483.31 2223.91ZM479.48 2231.41L488.28 2231.41L483.88 2223.11ZM480.04 2232.09L488.84 2232.09L484.44 2223.79ZM480.6 2231.63L489.4 2231.63L485 2223.33ZM481.17 2231.61L489.97 2231.61L485.57 2223.31ZM481.73 2232.24L490.53 2232.24L486.13 2223.94ZM482.3 2231.99L491.1 2231.99L486.7 2223.69ZM482.86 2232.97L491.66 2232.97L487.26 2224.67ZM483.43 2231.93L492.22 2231.93L487.82 2223.63ZM483.99 2233.39L492.79 2233.39L488.39 2225.09ZM484.55 2233.69L493.35 2233.69L488.95 2225.39ZM485.12 2233.13L493.92 2233.13L489.52 2224.83ZM485.68 2233.25L494.48 2233.25L490.08 2224.95ZM486.25 2234.28L495.05 2234.28L490.65 2225.98ZM486.81 2233.4L495.61 2233.4L491.21 2225.1ZM487.37 2231.1L496.17 2231.1L491.77 2222.8ZM487.94 2231.9L496.74 2231.9L492.34 2223.6ZM488.5 2230.41L497.3 2230.41L492.9 2222.11ZM489.07 2230.16L497.87 2230.16L493.47 2221.86ZM489.63 2227.5L498.43 2227.5L494.03 2219.2ZM490.2 2227.11L499 2227.11L494.6 2218.81ZM490.76 2227.11L499.56 2227.11L495.16 2218.81ZM491.32 2227.53L500.12 2227.53L495.72 2219.23ZM491.89 2229.63L500.69 2229.63L496.29 2221.33ZM492.45 2228.32L501.25 2228.32L496.85 2220.02ZM493.02 2229.95L501.82 2229.95L497.42 2221.65ZM493.58 2230.74L502.38 2230.74L497.98 2222.44ZM494.15 2230.85L502.95 2230.85L498.55 2222.55ZM494.71 2231.5L503.51 2231.5L499.11 2223.2ZM495.27 2230.16L504.07 2230.16L499.67 2221.86ZM495.84 2231.97L504.64 2231.97L500.24 2223.67ZM496.4 2232.21L505.2 2232.21L500.8 2223.91ZM496.97 2232.87L505.77 2232.87L501.37 2224.57ZM497.53 2231.55L506.33 2231.55L501.93 2223.25ZM498.1 2231.97L506.9 2231.97L502.5 2223.67ZM498.66 2232.53L507.46 2232.53L503.06 2224.23ZM499.22 2233.42L508.02 2233.42L503.62 2225.12ZM499.79 2234.12L508.59 2234.12L504.19 2225.82ZM500.35 2234.02L509.15 2234.02L504.75 2225.72ZM500.92 2233.63L509.72 2233.63L505.32 2225.33ZM501.48 2233.71L510.28 2233.71L505.88 2225.41ZM502.05 2235.35L510.85 2235.35L506.45 2227.05ZM502.61 2235.96L511.41 2235.96L507.01 2227.66ZM503.17 2235.6L511.97 2235.6L507.57 2227.3ZM503.74 2234.55L512.54 2234.55L508.14 2226.25ZM504.3 2235.19L513.1 2235.19L508.7 2226.89ZM504.87 2234.83L513.67 2234.83L509.27 2226.53ZM505.43 2233.73L514.23 2233.73L509.83 2225.43ZM506 2231.49L514.79 2231.49L510.39 2223.19ZM506.56 2231.54L515.36 2231.54L510.96 2223.24ZM507.12 2232.35L515.92 2232.35L511.52 2224.05ZM507.69 2231.38L516.49 2231.38L512.09 2223.08ZM508.25 2231.09L517.05 2231.09L512.65 2222.79ZM508.82 2230.4L517.62 2230.4L513.22 2222.1ZM509.38 2232.19L518.18 2232.19L513.78 2223.89ZM509.94 2232.97L518.74 2232.97L514.34 2224.67ZM510.51 2232.57L519.31 2232.57L514.91 2224.27ZM511.07 2232.89L519.87 2232.89L515.47 2224.59ZM511.64 2232.72L520.44 2232.72L516.04 2224.42ZM512.2 2233.88L521 2233.88L516.6 2225.58ZM512.77 2233.61L521.57 2233.61L517.17 2225.31ZM513.33 2232.93L522.13 2232.93L517.73 2224.63ZM513.89 2234.98L522.69 2234.98L518.29 2226.68ZM514.46 2234.08L523.26 2234.08L518.86 2225.78ZM515.02 2233.94L523.82 2233.94L519.42 2225.64ZM515.59 2235.24L524.39 2235.24L519.99 2226.94ZM516.15 2234.58L524.95 2234.58L520.55 2226.28ZM516.72 2235.4L525.52 2235.4L521.12 2227.1ZM517.28 2235.37L526.08 2235.37L521.68 2227.07ZM517.84 2234.91L526.64 2234.91L522.24 2226.61ZM518.41 2234.71L527.21 2234.71L522.81 2226.41ZM518.97 2235.69L527.77 2235.69L523.37 2227.39ZM519.54 2236.51L528.34 2236.51L523.94 2228.21ZM520.1 2235.5L528.9 2235.5L524.5 2227.2ZM520.67 2236.17L529.47 2236.17L525.07 2227.87ZM521.23 2237.24L530.03 2237.24L525.63 2228.94ZM521.79 2236.39L530.59 2236.39L526.19 2228.09ZM522.36 2236.49L531.16 2236.49L526.76 2228.19ZM522.92 2237.68L531.72 2237.68L527.32 2229.38ZM523.49 2237.58L532.29 2237.58L527.89 2229.28ZM524.05 2236.47L532.85 2236.47L528.45 2228.17ZM524.62 2237.02L533.42 2237.02L529.02 2228.72ZM525.18 2236.84L533.98 2236.84L529.58 2228.54ZM525.74 2237.76L534.54 2237.76L530.14 2229.46ZM526.31 2237.89L535.11 2237.89L530.71 2229.59ZM526.87 2238.75L535.67 2238.75L531.27 2230.45ZM527.44 2238.99L536.24 2238.99L531.84 2230.69ZM528 2237.54L536.8 2237.54L532.4 2229.24ZM528.57 2237.43L537.37 2237.43L532.97 2229.13ZM529.13 2238.79L537.93 2238.79L533.53 2230.49ZM529.69 2238.52L538.49 2238.52L534.09 2230.22ZM530.26 2238.43L539.06 2238.43L534.66 2230.13ZM530.82 2238.27L539.62 2238.27L535.22 2229.97ZM531.39 2239.29L540.19 2239.29L535.79 2230.99ZM531.95 2239.83L540.75 2239.83L536.35 2231.53ZM532.51 2239.45L541.31 2239.45L536.91 2231.15ZM533.08 2238L541.88 2238L537.48 2229.7ZM533.64 2239.45L542.44 2239.45L538.04 2231.15ZM534.21 2239.54L543.01 2239.54L538.61 2231.24ZM534.77 2238.38L543.57 2238.38L539.17 2230.08ZM535.34 2238.94L544.14 2238.94L539.74 2230.64ZM535.9 2238.33L544.7 2238.33L540.3 2230.03ZM536.46 2238.64L545.26 2238.64L540.86 2230.34ZM537.03 2238.61L545.83 2238.61L541.43 2230.31ZM537.59 2238.91L546.39 2238.91L541.99 2230.61ZM538.16 2239.83L546.96 2239.83L542.56 2231.53ZM538.72 2239.15L547.52 2239.15L543.12 2230.85ZM539.29 2238.53L548.09 2238.53L543.69 2230.23ZM539.85 2240.47L548.65 2240.47L544.25 2232.17ZM540.41 2238.5L549.21 2238.5L544.81 2230.2ZM540.98 2240.23L549.78 2240.23L545.38 2231.93ZM541.54 2240.46L550.34 2240.46L545.94 2232.16ZM542.11 2239.17L550.91 2239.17L546.51 2230.87ZM542.67 2238.96L551.47 2238.96L547.07 2230.66ZM543.24 2239.28L552.04 2239.28L547.64 2230.98ZM543.8 2238.8L552.6 2238.8L548.2 2230.5ZM544.36 2238.64L553.16 2238.64L548.76 2230.34ZM544.93 2238.7L553.73 2238.7L549.33 2230.4ZM545.49 2238.54L554.29 2238.54L549.89 2230.24ZM546.06 2240.17L554.86 2240.17L550.46 2231.87ZM546.62 2236.85L555.42 2236.85L551.02 2228.55ZM547.19 2234.59L555.99 2234.59L551.59 2226.29ZM547.75 2234L556.55 2234L552.15 2225.7ZM548.31 2234.61L557.11 2234.61L552.71 2226.31ZM548.88 2234.46L557.68 2234.46L553.28 2226.16ZM549.44 2233.5L558.24 2233.5L553.84 2225.2ZM550.01 2232.29L558.81 2232.29L554.41 2223.99ZM550.57 2231.93L559.37 2231.93L554.97 2223.63ZM551.14 2230.19L559.94 2230.19L555.54 2221.89ZM551.7 2230.33L560.5 2230.33L556.1 2222.03ZM552.26 2229.2L561.06 2229.2L556.66 2220.9ZM552.83 2229.3L561.63 2229.3L557.23 2221ZM553.39 2230.11L562.19 2230.11L557.79 2221.81ZM553.96 2231.24L562.76 2231.24L558.36 2222.94ZM554.52 2231.74L563.32 2231.74L558.92 2223.44ZM555.08 2233.17L563.88 2233.17L559.48 2224.87ZM555.65 2233.8L564.45 2233.8L560.05 2225.5ZM556.21 2233.98L565.01 2233.98L560.61 2225.68ZM556.78 2234.26L565.58 2234.26L561.18 2225.96ZM557.34 2232.92L566.14 2232.92L561.74 2224.62ZM557.91 2234.34L566.71 2234.34L562.31 2226.04ZM558.47 2234.03L567.27 2234.03L562.87 2225.73ZM559.03 2234.58L567.83 2234.58L563.43 2226.28ZM559.6 2233.73L568.4 2233.73L564 2225.43ZM560.16 2233.38L568.96 2233.38L564.56 2225.08ZM560.73 2234.87L569.53 2234.87L565.13 2226.57ZM561.29 2234.14L570.09 2234.14L565.69 2225.84ZM561.86 2233.73L570.66 2233.73L566.26 2225.43ZM562.42 2233.29L571.22 2233.29L566.82 2224.99ZM562.98 2233.18L571.78 2233.18L567.38 2224.88ZM563.55 2234.01L572.35 2234.01L567.95 2225.71ZM564.11 2233.82L572.91 2233.82L568.51 2225.52ZM564.68 2234.39L573.48 2234.39L569.08 2226.09ZM565.24 2234.41L574.04 2234.41L569.64 2226.11ZM565.81 2233.78L574.61 2233.78L570.21 2225.48ZM566.37 2233.15L575.17 2233.15L570.77 2224.85ZM566.93 2232.21L575.73 2232.21L571.33 2223.91ZM567.5 2233.02L576.3 2233.02L571.9 2224.72ZM568.06 2232.27L576.86 2232.27L572.46 2223.97ZM568.63 2232.4L577.43 2232.4L573.03 2224.1ZM569.19 2232.99L577.99 2232.99L573.59 2224.69ZM569.76 2231.75L578.56 2231.75L574.16 2223.45ZM570.32 2231.86L579.12 2231.86L574.72 2223.56ZM570.88 2232.42L579.68 2232.42L575.28 2224.12ZM571.45 2232L580.25 2232L575.85 2223.7ZM572.01 2231.9L580.81 2231.9L576.41 2223.6ZM572.58 2232.03L581.38 2232.03L576.98 2223.73ZM573.14 2231.53L581.94 2231.53L577.54 2223.23ZM573.71 2229.98L582.5 2229.98L578.11 2221.68ZM574.27 2231.12L583.07 2231.12L578.67 2222.82ZM574.83 2230.39L583.63 2230.39L579.23 2222.09ZM575.4 2230.39L584.2 2230.39L579.8 2222.09ZM575.96 2229.97L584.76 2229.97L580.36 2221.67ZM576.53 2228.42L585.33 2228.42L580.93 2220.12ZM577.09 2227.55L585.89 2227.55L581.49 2219.25ZM577.65 2228.45L586.45 2228.45L582.05 2220.15ZM578.22 2233.07L587.02 2233.07L582.62 2224.77ZM578.78 2233.38L587.58 2233.38L583.18 2225.08ZM579.35 2232.64L588.15 2232.64L583.75 2224.34ZM579.91 2233.09L588.71 2233.09L584.31 2224.79ZM580.48 2233.05L589.28 2233.05L584.88 2224.75ZM581.04 2231.28L589.84 2231.28L585.44 2222.98ZM581.6 2231.47L590.4 2231.47L586 2223.17ZM582.17 2231.18L590.97 2231.18L586.57 2222.88ZM582.73 2230.56L591.53 2230.56L587.13 2222.26ZM583.3 2229.95L592.1 2229.95L587.7 2221.65ZM583.86 2230.18L592.66 2230.18L588.26 2221.88ZM584.43 2229.22L593.23 2229.22L588.83 2220.92ZM584.99 2229.84L593.79 2229.84L589.39 2221.54ZM585.55 2228.27L594.35 2228.27L589.95 2219.97ZM586.12 2228.25L594.92 2228.25L590.52 2219.95ZM586.68 2227.93L595.48 2227.93L591.08 2219.63ZM587.25 2228.16L596.05 2228.16L591.65 2219.86ZM587.81 2227.64L596.61 2227.64L592.21 2219.34ZM588.38 2227.83L597.18 2227.83L592.78 2219.53ZM588.94 2227.09L597.74 2227.09L593.34 2218.79ZM589.5 2227.76L598.3 2227.76L593.9 2219.46ZM590.07 2227.18L598.87 2227.18L594.47 2218.88ZM590.63 2227.07L599.43 2227.07L595.03 2218.77ZM591.2 2225.9L600 2225.9L595.6 2217.6ZM591.76 2226.94L600.56 2226.94L596.16 2218.64ZM592.33 2227.97L601.13 2227.97L596.73 2219.67ZM592.89 2227.4L601.69 2227.4L597.29 2219.1ZM593.45 2228.73L602.25 2228.73L597.85 2220.43ZM594.02 2228.82L602.82 2228.82L598.42 2220.52ZM594.58 2229.84L603.38 2229.84L598.98 2221.54ZM595.15 2227.6L603.95 2227.6L599.55 2219.3ZM595.71 2227.86L604.51 2227.86L600.11 2219.56ZM596.27 2228.03L605.07 2228.03L600.67 2219.73ZM596.84 2228.28L605.64 2228.28L601.24 2219.98ZM597.4 2227.51L606.2 2227.51L601.8 2219.21ZM597.97 2228.03L606.77 2228.03L602.37 2219.73ZM598.53 2227.91L607.33 2227.91L602.93 2219.61ZM599.1 2227.52L607.9 2227.52L603.5 2219.22ZM599.66 2229.28L608.46 2229.28L604.06 2220.98ZM600.22 2228.67L609.02 2228.67L604.62 2220.37ZM600.79 2228.66L609.59 2228.66L605.19 2220.36ZM601.35 2228.16L610.15 2228.16L605.75 2219.86ZM601.92 2229L610.72 2229L606.32 2220.7ZM602.48 2228.13L611.28 2228.13L606.88 2219.83ZM603.05 2228.73L611.85 2228.73L607.45 2220.43ZM603.61 2228.41L612.41 2228.41L608.01 2220.11ZM604.17 2229.72L612.97 2229.72L608.57 2221.42ZM604.74 2228.86L613.54 2228.86L609.14 2220.56ZM605.3 2229.32L614.1 2229.32L609.7 2221.02ZM605.87 2229.66L614.67 2229.66L610.27 2221.36ZM606.43 2229.1L615.23 2229.1L610.83 2220.8ZM607 2229.91L615.8 2229.91L611.4 2221.61ZM607.56 2229.78L616.36 2229.78L611.96 2221.48ZM608.12 2230.96L616.92 2230.96L612.52 2222.66ZM608.69 2231.47L617.49 2231.47L613.09 2223.17ZM609.25 2230.94L618.05 2230.94L613.65 2222.64ZM609.82 2228.58L618.62 2228.58L614.22 2220.28ZM610.38 2228.52L619.18 2228.52L614.78 2220.22ZM610.95 2228.57L619.75 2228.57L615.35 2220.27ZM611.51 2227.3L620.31 2227.3L615.91 2219ZM612.07 2228.24L620.87 2228.24L616.47 2219.94ZM612.64 2227.63L621.44 2227.63L617.04 2219.33ZM613.2 2227.19L622 2227.19L617.6 2218.89ZM613.77 2227.69L622.57 2227.69L618.17 2219.39ZM614.33 2226.52L623.13 2226.52L618.73 2218.22ZM614.9 2226.48L623.7 2226.48L619.3 2218.18ZM615.46 2226.48L624.26 2226.48L619.86 2218.18ZM616.02 2226.27L624.82 2226.27L620.42 2217.97ZM616.59 2227.96L625.39 2227.96L620.99 2219.66ZM617.15 2225.82L625.95 2225.82L621.55 2217.52ZM617.72 2227.25L626.52 2227.25L622.12 2218.95ZM618.28 2227.5L627.08 2227.5L622.68 2219.2ZM618.85 2226.12L627.64 2226.12L623.25 2217.82ZM619.41 2227.49L628.21 2227.49L623.81 2219.19ZM619.97 2226.1L628.77 2226.1L624.37 2217.8ZM620.54 2225.89L629.34 2225.89L624.94 2217.59ZM621.1 2226.14L629.9 2226.14L625.5 2217.84ZM621.67 2225.91L630.47 2225.91L626.07 2217.61ZM622.23 2226.03L631.03 2226.03L626.63 2217.73ZM622.79 2226.36L631.59 2226.36L627.19 2218.06ZM623.36 2226.26L632.16 2226.26L627.76 2217.96ZM623.92 2225.96L632.72 2225.96L628.32 2217.66ZM624.49 2227.33L633.29 2227.33L628.89 2219.03ZM625.05 2227.61L633.85 2227.61L629.45 2219.31ZM625.62 2227.79L634.42 2227.79L630.02 2219.49ZM626.18 2227.61L634.98 2227.61L630.58 2219.31ZM626.74 2226.85L635.54 2226.85L631.14 2218.55ZM627.31 2226.06L636.11 2226.06L631.71 2217.76ZM627.87 2226.12L636.67 2226.12L632.27 2217.82ZM628.44 2226.73L637.24 2226.73L632.84 2218.43ZM629 2226.13L637.8 2226.13L633.4 2217.83ZM629.57 2227.07L638.37 2227.07L633.97 2218.77ZM630.13 2227.83L638.93 2227.83L634.53 2219.53ZM630.69 2226.61L639.49 2226.61L635.09 2218.31ZM631.26 2226.67L640.06 2226.67L635.66 2218.37ZM631.82 2225.98L640.62 2225.98L636.22 2217.68ZM632.39 2225.88L641.19 2225.88L636.79 2217.58ZM632.95 2226.97L641.75 2226.97L637.35 2218.67ZM633.52 2227.97L642.32 2227.97L637.92 2219.67ZM634.08 2226.68L642.88 2226.68L638.48 2218.38ZM634.64 2226.18L643.44 2226.18L639.04 2217.88ZM635.21 2227.03L644.01 2227.03L639.61 2218.73ZM635.77 2226.39L644.57 2226.39L640.17 2218.09ZM636.34 2227.13L645.14 2227.13L640.74 2218.83ZM636.9 2226.88L645.7 2226.88L641.3 2218.58ZM637.47 2227.46L646.27 2227.46L641.87 2219.16ZM638.03 2227.23L646.83 2227.23L642.43 2218.93ZM638.59 2227.65L647.39 2227.65L642.99 2219.35ZM639.16 2226.25L647.96 2226.25L643.56 2217.95ZM639.72 2226.79L648.52 2226.79L644.12 2218.49ZM640.29 2227.96L649.09 2227.96L644.69 2219.66ZM640.85 2227.51L649.65 2227.51L645.25 2219.21ZM641.42 2227.21L650.22 2227.21L645.82 2218.91ZM641.98 2227.48L650.78 2227.48L646.38 2219.18ZM642.54 2228.01L651.34 2228.01L646.94 2219.71ZM643.11 2228.68L651.91 2228.68L647.51 2220.38ZM643.67 2229.06L652.47 2229.06L648.07 2220.76ZM644.24 2229.09L653.04 2229.09L648.64 2220.79ZM644.8 2228.89L653.6 2228.89L649.2 2220.59ZM645.36 2229.36L654.16 2229.36L649.76 2221.06ZM645.93 2229.47L654.73 2229.47L650.33 2221.17ZM646.49 2229.66L655.29 2229.66L650.89 2221.36ZM647.06 2230.51L655.86 2230.51L651.46 2222.21ZM647.62 2230.19L656.42 2230.19L652.02 2221.89ZM648.19 2230.99L656.99 2230.99L652.59 2222.69ZM648.75 2231.25L657.55 2231.25L653.15 2222.95ZM649.31 2229.74L658.11 2229.74L653.71 2221.44ZM649.88 2230.9L658.68 2230.9L654.28 2222.6ZM650.44 2230.25L659.24 2230.25L654.84 2221.95ZM651.01 2231.38L659.81 2231.38L655.41 2223.08ZM651.57 2231.21L660.37 2231.21L655.97 2222.91ZM652.14 2231.33L660.94 2231.33L656.54 2223.03ZM652.7 2230.53L661.5 2230.53L657.1 2222.23ZM653.26 2231.36L662.06 2231.36L657.66 2223.06ZM653.83 2232.34L662.63 2232.34L658.23 2224.04ZM654.39 2231.62L663.19 2231.62L658.79 2223.32ZM654.96 2232L663.76 2232L659.36 2223.7ZM655.52 2232.25L664.32 2232.25L659.92 2223.95ZM656.09 2231.36L664.89 2231.36L660.49 2223.06ZM656.65 2232.36L665.45 2232.36L661.05 2224.06ZM657.21 2233.2L666.01 2233.2L661.61 2224.9ZM657.78 2233.13L666.58 2233.13L662.18 2224.83ZM658.34 2233.64L667.14 2233.64L662.74 2225.34ZM658.91 2232.53L667.71 2232.53L663.31 2224.23ZM659.47 2232.14L668.27 2232.14L663.87 2223.84ZM660.04 2232.46L668.84 2232.46L664.44 2224.16ZM660.6 2234.19L669.4 2234.19L665 2225.89ZM661.16 2233.91L669.96 2233.91L665.56 2225.61ZM661.73 2234.09L670.53 2234.09L666.13 2225.79ZM662.29 2233.06L671.09 2233.06L666.69 2224.76ZM662.86 2232.98L671.66 2232.98L667.26 2224.68ZM663.42 2234.5L672.22 2234.5L667.82 2226.2ZM663.99 2233.4L672.78 2233.4L668.38 2225.1ZM664.55 2233.06L673.35 2233.06L668.95 2224.76ZM665.11 2233.07L673.91 2233.07L669.51 2224.77ZM665.68 2234.94L674.48 2234.94L670.08 2226.64ZM666.24 2233.81L675.04 2233.81L670.64 2225.51ZM666.81 2234.96L675.61 2234.96L671.21 2226.66ZM667.37 2233.81L676.17 2233.81L671.77 2225.51ZM667.93 2233.64L676.73 2233.64L672.33 2225.34ZM668.5 2235.22L677.3 2235.22L672.9 2226.92ZM669.06 2234.32L677.86 2234.32L673.46 2226.02ZM669.63 2234.21L678.43 2234.21L674.03 2225.91ZM670.19 2234.05L678.99 2234.05L674.59 2225.75ZM670.76 2234.41L679.56 2234.41L675.16 2226.11ZM671.32 2234.91L680.12 2234.91L675.72 2226.61ZM671.88 2234.3L680.68 2234.3L676.28 2226ZM672.45 2234.37L681.25 2234.37L676.85 2226.07ZM673.01 2235.37L681.81 2235.37L677.41 2227.07ZM673.58 2234.17L682.38 2234.17L677.98 2225.87ZM674.14 2234.52L682.94 2234.52L678.54 2226.22ZM674.71 2235.01L683.51 2235.01L679.11 2226.71ZM675.27 2234.66L684.07 2234.66L679.67 2226.36ZM675.83 2235.71L684.63 2235.71L680.23 2227.41ZM676.4 2234.7L685.2 2234.7L680.8 2226.4ZM676.96 2235.15L685.76 2235.15L681.36 2226.85ZM677.53 2234.83L686.33 2234.83L681.93 2226.53ZM678.09 2236.05L686.89 2236.05L682.49 2227.75ZM678.66 2236.17L687.46 2236.17L683.06 2227.87ZM679.22 2235.63L688.02 2235.63L683.62 2227.33ZM679.78 2235.14L688.58 2235.14L684.18 2226.84ZM680.35 2235.32L689.15 2235.32L684.75 2227.02ZM680.91 2235.33L689.71 2235.33L685.31 2227.03ZM681.48 2236.52L690.28 2236.52L685.88 2228.22ZM682.04 2235.59L690.84 2235.59L686.44 2227.29ZM682.61 2235.46L691.41 2235.46L687.01 2227.16ZM683.17 2237.08L691.97 2237.08L687.57 2228.78ZM683.73 2235.8L692.53 2235.8L688.13 2227.5ZM684.3 2235.94L693.1 2235.94L688.7 2227.64ZM684.86 2236.97L693.66 2236.97L689.26 2228.67ZM685.43 2236.2L694.23 2236.2L689.83 2227.9ZM685.99 2237.14L694.79 2237.14L690.39 2228.84ZM686.56 2236.17L695.36 2236.17L690.96 2227.87ZM687.12 2236.78L695.92 2236.78L691.52 2228.48ZM687.68 2236.18L696.48 2236.18L692.08 2227.88ZM688.25 2237.32L697.05 2237.32L692.65 2229.02ZM688.81 2236.13L697.61 2236.13L693.21 2227.83ZM689.38 2236.89L698.18 2236.89L693.78 2228.59ZM689.94 2236.82L698.74 2236.82L694.34 2228.52ZM690.5 2237.62L699.3 2237.62L694.9 2229.32ZM691.07 2236.73L699.87 2236.73L695.47 2228.43ZM691.63 2237.04L700.43 2237.04L696.03 2228.74ZM692.2 2237.19L701 2237.19L696.6 2228.89ZM692.76 2238.13L701.56 2238.13L697.16 2229.83ZM693.33 2237.57L702.13 2237.57L697.73 2229.27ZM693.89 2237.14L702.69 2237.14L698.29 2228.84ZM694.45 2238.09L703.25 2238.09L698.85 2229.79ZM695.02 2237.8L703.82 2237.8L699.42 2229.5ZM695.58 2238.46L704.38 2238.46L699.98 2230.16ZM696.15 2236.7L704.95 2236.7L700.55 2228.4ZM696.71 2237.71L705.51 2237.71L701.11 2229.41ZM697.28 2238.18L706.08 2238.18L701.68 2229.88ZM697.84 2237.93L706.64 2237.93L702.24 2229.63ZM698.4 2237.35L707.2 2237.35L702.8 2229.05ZM698.97 2237.04L707.77 2237.04L703.37 2228.74ZM699.53 2238.83L708.33 2238.83L703.93 2230.53ZM700.1 2238.62L708.9 2238.62L704.5 2230.32ZM700.66 2238.93L709.46 2238.93L705.06 2230.63ZM701.23 2237.45L710.03 2237.45L705.63 2229.15ZM701.79 2237.36L710.59 2237.36L706.19 2229.06ZM702.35 2239.07L711.15 2239.07L706.75 2230.77ZM702.92 2238.51L711.72 2238.51L707.32 2230.21ZM703.48 2237.51L712.28 2237.51L707.88 2229.21ZM704.05 2238.31L712.85 2238.31L708.45 2230.01ZM704.61 2237.62L713.41 2237.62L709.01 2229.32ZM705.18 2238.73L713.98 2238.73L709.58 2230.43ZM705.74 2239.21L714.54 2239.21L710.14 2230.91ZM706.3 2237.7L715.1 2237.7L710.7 2229.4ZM706.87 2239.54L715.67 2239.54L711.27 2231.24ZM707.43 2239L716.23 2239L711.83 2230.7ZM708 2238.02L716.8 2238.02L712.4 2229.72ZM708.56 2239.67L717.36 2239.67L712.96 2231.37ZM709.13 2238.48L717.93 2238.48L713.53 2230.18ZM709.69 2238.01L718.49 2238.01L714.09 2229.71ZM710.25 2239.64L719.05 2239.64L714.65 2231.34ZM710.82 2238.2L719.62 2238.2L715.22 2229.9ZM711.38 2239.45L720.18 2239.45L715.78 2231.15ZM711.95 2238.64L720.75 2238.64L716.35 2230.34ZM712.51 2239.5L721.31 2239.5L716.91 2231.2ZM713.07 2239.92L721.87 2239.92L717.47 2231.62ZM713.64 2239.89L722.44 2239.89L718.04 2231.59ZM714.2 2239.99L723 2239.99L718.6 2231.69ZM714.77 2240.28L723.57 2240.28L719.17 2231.98ZM715.33 2239.91L724.13 2239.91L719.73 2231.61ZM715.9 2238.51L724.7 2238.51L720.3 2230.21ZM716.46 2238.48L725.26 2238.48L720.86 2230.18ZM717.02 2238.54L725.82 2238.54L721.42 2230.24ZM717.59 2239.34L726.39 2239.34L721.99 2231.04ZM718.15 2238.41L726.95 2238.41L722.55 2230.11ZM718.72 2238.95L727.52 2238.95L723.12 2230.65ZM719.28 2239.47L728.08 2239.47L723.68 2231.17ZM719.85 2239.19L728.65 2239.19L724.25 2230.89ZM720.41 2239.79L729.21 2239.79L724.81 2231.49ZM720.97 2239.93L729.77 2239.93L725.37 2231.63ZM721.54 2238.97L730.34 2238.97L725.94 2230.67ZM722.1 2238.35L730.9 2238.35L726.5 2230.05ZM722.67 2239.19L731.47 2239.19L727.07 2230.89ZM723.23 2239.43L732.03 2239.43L727.63 2231.13ZM723.8 2239.28L732.6 2239.28L728.2 2230.98ZM724.36 2238.96L733.16 2238.96L728.76 2230.66ZM724.92 2238.17L733.72 2238.17L729.32 2229.87ZM725.49 2238L734.29 2238L729.89 2229.7ZM726.05 2238.13L734.85 2238.13L730.45 2229.83ZM726.62 2239.39L735.42 2239.39L731.02 2231.09ZM727.18 2239.22L735.98 2239.22L731.58 2230.92ZM727.75 2239.36L736.55 2239.36L732.15 2231.06ZM728.31 2237.85L737.11 2237.85L732.71 2229.55ZM728.87 2237.95L737.67 2237.95L733.27 2229.65ZM729.44 2239.12L738.24 2239.12L733.84 2230.82ZM730 2239.53L738.8 2239.53L734.4 2231.23ZM730.57 2239.06L739.37 2239.06L734.97 2230.76ZM731.13 2239.56L739.93 2239.56L735.53 2231.26ZM731.7 2238.92L740.5 2238.92L736.1 2230.62ZM732.26 2239.54L741.06 2239.54L736.66 2231.24ZM732.82 2238.53L741.62 2238.53L737.22 2230.23ZM733.39 2238.67L742.19 2238.67L737.79 2230.37ZM733.95 2239.06L742.75 2239.06L738.35 2230.76ZM734.52 2239.18L743.32 2239.18L738.92 2230.88ZM735.08 2237.97L743.88 2237.97L739.48 2229.67ZM735.64 2239.02L744.44 2239.02L740.04 2230.72ZM736.21 2239.2L745.01 2239.2L740.61 2230.9ZM736.77 2238.47L745.57 2238.47L741.17 2230.17ZM737.34 2239.04L746.14 2239.04L741.74 2230.74ZM737.9 2238.12L746.7 2238.12L742.3 2229.82ZM738.47 2238.39L747.27 2238.39L742.87 2230.09ZM739.03 2239.39L747.83 2239.39L743.43 2231.09ZM739.59 2238.77L748.39 2238.77L743.99 2230.47ZM740.16 2239.46L748.96 2239.46L744.56 2231.16ZM740.72 2238.97L749.52 2238.97L745.12 2230.67ZM741.29 2238L750.09 2238L745.69 2229.7ZM741.85 2239.62L750.65 2239.62L746.25 2231.32ZM742.42 2238.79L751.22 2238.79L746.82 2230.49ZM742.98 2239.21L751.78 2239.21L747.38 2230.91ZM743.54 2238.18L752.34 2238.18L747.94 2229.88ZM744.11 2239.46L752.91 2239.46L748.51 2231.16ZM744.67 2238.68L753.47 2238.68L749.07 2230.38ZM745.24 2238.85L754.04 2238.85L749.64 2230.55ZM745.8 2238.88L754.6 2238.88L750.2 2230.58ZM746.37 2238.54L755.17 2238.54L750.77 2230.24ZM746.93 2238.28L755.73 2238.28L751.33 2229.98ZM747.49 2238.6L756.29 2238.6L751.89 2230.3ZM748.06 2238.55L756.86 2238.55L752.46 2230.25ZM748.62 2238.35L757.42 2238.35L753.02 2230.05ZM749.19 2238.81L757.99 2238.81L753.59 2230.51ZM749.75 2238.49L758.55 2238.49L754.15 2230.19ZM750.32 2239.19L759.12 2239.19L754.72 2230.89ZM750.88 2238.55L759.68 2238.55L755.28 2230.25ZM751.44 2236.05L760.24 2236.05L755.84 2227.75ZM752.01 2234.68L760.81 2234.68L756.41 2226.38ZM752.57 2235.55L761.37 2235.55L756.97 2227.25ZM753.14 2235.14L761.94 2235.14L757.54 2226.84ZM753.7 2234.25L762.5 2234.25L758.1 2225.95ZM754.26 2234.12L763.06 2234.12L758.66 2225.82ZM754.83 2232.65L763.63 2232.65L759.23 2224.35ZM755.39 2234.08L764.19 2234.08L759.79 2225.78ZM755.96 2235.54L764.76 2235.54L760.36 2227.24ZM756.52 2235.48L765.32 2235.48L760.92 2227.18ZM757.09 2236.6L765.89 2236.6L761.49 2228.3ZM757.65 2241.79L766.45 2241.79L762.05 2233.49ZM758.21 2241.19L767.01 2241.19L762.61 2232.89ZM758.78 2242.16L767.58 2242.16L763.18 2233.86ZM759.34 2243.33L768.14 2243.33L763.74 2235.03ZM759.91 2242.01L768.71 2242.01L764.31 2233.71ZM760.47 2242.71L769.27 2242.71L764.87 2234.41ZM761.04 2242.44L769.84 2242.44L765.44 2234.14ZM761.6 2241.68L770.4 2241.68L766 2233.38ZM762.16 2242.51L770.96 2242.51L766.56 2234.21ZM762.73 2242.41L771.53 2242.41L767.13 2234.11ZM763.29 2241.29L772.09 2241.29L767.69 2232.99ZM763.86 2241.28L772.66 2241.28L768.26 2232.98ZM764.42 2241.28L773.22 2241.28L768.82 2232.98ZM764.99 2242.49L773.79 2242.49L769.39 2234.19ZM765.55 2241.03L774.35 2241.03L769.95 2232.73Z" fill="#0000ff"/>
<path d="M211.34 1780.74L211.91 1783L212.47 1787.2L213.04 1792.98L213.6 1796.76L214.16 1800.32L214.73 1802.46L215.29 1807.47L215.86 1808.95L216.42 1812.87L216.98 1814.83L217.55 1819.04L218.11 1825.86L218.68 1828.84L219.24 1833.1L219.81 1834.8L220.37 1838.9L220.93 1844.73L221.5 1845L222.06 1849.59L222.63 1851.97L223.19 1853.46L223.76 1858.86L224.32 1860.62L224.88 1862.71L225.45 1864.6L226.01 1870.05L226.58 1873.21L227.14 1875.7L227.71 1874.52L228.27 1876.03L228.83 1878.82L229.4 1881.32L229.96 1882.18L230.53 1885.78L231.09 1889.58L231.66 1888.31L232.22 1888.84L232.78 1892.05L233.35 1894.93L233.91 1895.59L234.48 1897.36L235.04 1898.35L235.61 1903.3L236.17 1910.75L236.73 1909.76L237.3 1908.84L237.86 1913.62L238.43 1914.13L238.99 1911.07L239.56 1917.5L240.12 1918.17L240.68 1916.78L241.25 1921.86L241.81 1920.34L242.38 1917.32L242.94 1921.32L243.5 1921.2L244.07 1920.65L244.63 1921.82L245.2 1926.12L245.76 1929.1L246.33 1930.37L246.89 1930.08L247.45 1929.89L248.02 1932.93L248.58 1932.95L249.15 1934.18L249.71 1930.85L250.28 1934.05L250.84 1933.99L251.4 1931.37L251.97 1931.64L252.53 1931.88L253.1 1927.75L253.66 1922.04L254.23 1925.22L254.79 1919.37L255.35 1916.9L255.92 1915.52L256.48 1911.73L257.05 1914.39L257.61 1913.55L258.18 1909.55L258.74 1909.46L259.3 1917.4L259.87 1928.37L260.43 1942.99L261 1961.44L261.56 1954.46L262.12 1949.58L262.69 1942.4L263.25 1933.04L263.82 1928.73L264.38 1924.25L264.95 1923.29L265.51 1919L266.07 1912.6L266.64 1907.19L267.2 1903.67L267.77 1902.67L268.33 1895.14L268.9 1892.23L269.46 1891.25L270.02 1886.86L270.59 1880.2L271.15 1879.21L271.72 1868.71L272.28 1862.53L272.85 1845.09L273.41 1847.14L273.97 1852.08L274.54 1829.12L275.1 1864.5L275.67 1831.87L276.23 1855.49L276.8 1831.49L277.36 1849.08L277.92 1842.86L278.49 1922.54L279.05 1942.97L279.62 1872.32L280.18 1838.62L280.75 1851.74L281.31 1823.82L281.87 1849.51L282.44 1833.64L283 1861.12L283.57 1882.93L284.13 1840.6L284.69 1896.76L285.26 1822.98L285.82 1821.88L286.39 1834.61L286.95 1886.66L287.52 1891.87L288.08 1836.34L288.64 1807.5L289.21 1757.64L289.77 1724.35L290.34 1748.14L290.9 1765.83L291.47 1799.36L292.03 1809.52L292.59 1833.4L293.16 1770.78L293.72 1707.12L294.29 1652.8L294.85 1611.12L295.42 1563.88L295.98 1527.12L296.54 1534.89L297.11 1544.87L297.67 1561.78L298.24 1572.11L298.8 1598.74L299.37 1636.48L299.93 1664.97L300.49 1709.67L301.06 1736.81L301.62 1778.3L302.19 1822.34L302.75 1854.65L303.32 1881.38L303.88 1904.79L304.44 1949.05L305.01 1984.1L305.57 2010.59L306.14 2039.25L306.7 2045.53L307.26 2061.71L307.83 2067.79L308.39 2069.99L308.96 2054.37L309.52 2046.68L310.09 2021.03L310.65 1994.85L311.21 1954.35L311.78 1918.5L312.34 1873.34L312.91 1826.8L313.47 1748.19L314.04 1711.91L314.6 1726.43L315.16 1749.4L315.73 1758.72L316.29 1758.87L316.86 1769.44L317.42 1764.73L317.99 1772.68L318.55 1778.65L319.11 1790.64L319.68 1789.2L320.24 1807.36L320.81 1805.19L321.37 1823.36L321.94 1840.59L322.5 1842.91L323.06 1858.08L323.63 1869.42L324.19 1909.62L324.76 1946.15L325.32 1962.18L325.89 1966.51L326.45 1978.77L327.01 1992.44L327.58 1996.93L328.14 2014.86L328.71 2026.04L329.27 2050.02L329.83 2070.98L330.4 2074.59L330.96 2077.86L331.53 2088.78L332.09 2083.63L332.66 2095.66L333.22 2105.31L333.78 2110.08L334.35 2117.88L334.91 2121.64L335.48 2112.46L336.04 2103.35L336.61 2087.5L337.17 2078.02L337.73 2077.16L338.3 2078.64L338.86 2085.78L339.43 2076.63L339.99 2083.95L340.56 2091.64L341.12 2102.26L341.68 2104.05L342.25 2096.43L342.81 2089.16L343.38 2081.51L343.94 2071.14L344.51 2056.69L345.07 2048.09L345.63 2038.53L346.2 2033.94L346.76 2028.69L347.33 2031.06L347.89 2039.48L348.46 2039.7L349.02 2046.68L349.58 2056.97L350.15 2071.9L350.71 2080.6L351.28 2088.95L351.84 2100.02L352.4 2104.49L352.97 2113.13L353.53 2124.9L354.1 2128.49L354.66 2136.13L355.23 2143.27L355.79 2148.87L356.35 2152.09L356.92 2156.31L357.48 2166.4L358.05 2164.86L358.61 2169.91L359.18 2151.25L359.74 2127.8L360.3 2104.75L360.87 2084.55L361.43 2072.64L362 2064.6L362.56 2075.95L363.13 2082.18L363.69 2091.3L364.25 2095.19L364.82 2108.5L365.38 2116.27L365.95 2125.85L366.51 2133.96L367.08 2142.53L367.64 2151.58L368.2 2162.22L368.77 2166.35L369.33 2162.91L369.9 2150.89L370.46 2139.36L371.03 2125.82L371.59 2116.8L372.15 2107.36L372.72 2102.04L373.28 2094L373.85 2101.99L374.41 2108.07L374.98 2114.15L375.54 2118.62L376.1 2123.19L376.67 2128.94L377.23 2128.46L377.8 2133.52L378.36 2140.91L378.92 2139.67L379.49 2144.05L380.05 2146.21L380.62 2149.07L381.18 2150.56L381.75 2151.35L382.31 2151.9L382.87 2154.88L383.44 2157.31L384 2158.59L384.57 2160.58L385.13 2161.36L385.7 2162.55L386.26 2165.2L386.82 2167L387.39 2169.31L387.95 2168.19L388.52 2170.92L389.08 2171.33L389.65 2174.42L390.21 2175.48L390.77 2175.35L391.34 2177L391.9 2180.79L392.47 2179.37L393.03 2181.24L393.6 2182.8L394.16 2182.59L394.72 2183.18L395.29 2186.62L395.85 2186.46L396.42 2186.29L396.98 2188.12L397.54 2189.63L398.11 2191.78L398.67 2192.21L399.24 2192.02L399.8 2194.45L400.37 2193.99L400.93 2196.44L401.49 2196.25L402.06 2197.61L402.62 2196.49L403.19 2196.81L403.75 2194.44L404.32 2194.13L404.88 2195.43L405.44 2192.87L406.01 2196.07L406.57 2196.91L407.14 2198.49L407.7 2199.17L408.27 2201.3L408.83 2201.88L409.39 2201.8L409.96 2202.37L410.52 2204.09L411.09 2203.67L411.65 2204.99L412.22 2207.23L412.78 2207.58L413.34 2207.57L413.91 2208.89L414.47 2208.2L415.04 2210.22L415.6 2210.59L416.17 2211.34L416.73 2212.13L417.29 2209.35L417.86 2209.39L418.42 2208.41L418.99 2210.09L419.55 2208.09L420.12 2207.89L420.68 2208.29L421.24 2208.44L421.81 2207.71L422.37 2205.39L422.94 2205.97L423.5 2208.29L424.06 2207.6L424.63 2210.38L425.19 2210.08L425.76 2211.2L426.32 2209.83L426.89 2211.81L427.45 2211.42L428.01 2214.09L428.58 2212.21L429.14 2212.9L429.71 2214.25L430.27 2212.72L430.84 2214.88L431.4 2214.93L431.96 2216.02L432.53 2213.66L433.09 2213.79L433.66 2215.99L434.22 2214.16L434.79 2215.97L435.35 2216.06L435.91 2214.86L436.48 2215.42L437.04 2215.57L437.61 2216.38L438.17 2217.39L438.74 2216.3L439.3 2218.15L439.86 2218.23L440.43 2219.06L440.99 2218.46L441.56 2217.12L442.12 2219.08L442.69 2219.78L443.25 2218.28L443.81 2219.84L444.38 2218.98L444.94 2218.84L445.51 2219.3L446.07 2219.03L446.63 2220.03L447.2 2219.77L447.76 2221.37L448.33 2221.86L448.89 2220.89L449.46 2221.63L450.02 2221.54L450.58 2220.92L451.15 2220.63L451.71 2222.3L452.28 2221.5L452.84 2223.95L453.41 2223.92L453.97 2221.72L454.53 2222.04L455.1 2222.41L455.66 2224.32L456.23 2222.58L456.79 2223.76L457.36 2225.03L457.92 2225.44L458.48 2225.32L459.05 2224.4L459.61 2226.4L460.18 2224.72L460.74 2225.95L461.31 2224.78L461.87 2227.04L462.43 2226.3L463 2225.82L463.56 2224.65L464.13 2221.46L464.69 2219.25L465.25 2216.73L465.82 2214.1L466.38 2212.21L466.95 2213.15L467.51 2211.65L468.08 2213.22L468.64 2211.57L469.2 2211.34L469.77 2210.9L470.33 2211.86L470.9 2209.82L471.46 2211.08L472.03 2210L472.59 2211.83L473.15 2211.98L473.72 2214.33L474.28 2213.57L474.85 2216.48L475.41 2215.58L475.98 2218.17L476.54 2218.21L477.1 2219.56L477.67 2221.07L478.23 2221.98L478.8 2223.86L479.36 2223.46L479.93 2225.98L480.49 2225.94L481.05 2227.85L481.62 2226.96L482.18 2229.69L482.75 2227.82L483.31 2227.74L483.88 2228.55L484.44 2228.62L485 2229.35L485.57 2229.48L486.13 2229.57L486.7 2230.9L487.26 2229.74L487.82 2229.11L488.39 2230.12L488.95 2230.22L489.52 2231.34L490.08 2231.59L490.65 2230.55L491.21 2229.42L491.77 2228.36L492.34 2228.21L492.9 2227.45L493.47 2225.41L494.03 2224.89L494.6 2224.46L495.16 2226.34L495.72 2225.87L496.29 2225.04L496.85 2225.76L497.42 2228.16L497.98 2226.58L498.55 2226.55L499.11 2227.14L499.67 2228.39L500.24 2229.58L500.8 2229.11L501.37 2230.79L501.93 2230.77L502.5 2229.64L503.06 2231.4L503.62 2231.88L504.19 2230.74L504.75 2230.4L505.32 2231.55L505.88 2233.22L506.45 2232.07L507.01 2231.92L507.57 2231.7L508.14 2232.83L508.7 2231.96L509.27 2230.46L509.83 2229.61L510.39 2229.47L510.96 2228.97L511.52 2229.1L512.09 2229.24L512.65 2227.93L513.22 2228.54L513.78 2229.94L514.34 2228.8L514.91 2230.96L515.47 2230.99L516.04 2230.99L516.6 2230.29L517.17 2230.52L517.73 2232.22L518.29 2232.24L518.86 2232.83L519.42 2230.82L519.99 2232.32L520.55 2233.59L521.12 2232.21L521.68 2232.15L522.24 2231.5L522.81 2233.61L523.37 2234.36L523.94 2233.51L524.5 2234.66L525.07 2234.97L525.63 2232.53L526.19 2234.79L526.76 2234.09L527.32 2233.4L527.89 2234.99L528.45 2235.9L529.02 2234.01L529.58 2236.29L530.14 2234.31L530.71 2234.42L531.27 2235.97L531.84 2236.05L532.4 2235.86L532.97 2234.95L533.53 2235L534.09 2235.54L534.66 2234.98L535.22 2236.55L535.79 2234.68L536.35 2235.02L536.91 2236.86L537.48 2235.6L538.04 2235.69L538.61 2235.41L539.17 2237.31L539.74 2236.31L540.3 2236.22L540.86 2236.78L541.43 2236.15L541.99 2236.89L542.56 2236.52L543.12 2237.54L543.69 2237.92L544.25 2237.74L544.81 2237.86L545.38 2237.2L545.94 2238.1L546.51 2236.24L547.07 2236.23L547.64 2238.02L548.2 2237.19L548.76 2235.91L549.33 2238.04L549.89 2235.66L550.46 2237.94L551.02 2237.36L551.59 2234.73L552.15 2234.77L552.71 2234.21L553.28 2235.15L553.84 2232.57L554.41 2233.07L554.97 2233.18L555.54 2231.72L556.1 2230.75L556.66 2228.34L557.23 2229.01L557.79 2231.68L558.36 2230.89L558.92 2231.5L559.48 2231.32L560.05 2230.76L560.61 2231.23L561.18 2233.89L561.74 2232.11L562.31 2234.59L562.87 2233.58L563.43 2234.33L564 2233.77L564.56 2233.9L565.13 2233.73L565.69 2232.45L566.26 2234L566.82 2233.97L567.38 2232.13L567.95 2232.21L568.51 2232.74L569.08 2231.26L569.64 2231.16L570.21 2232.97L570.77 2230.9L571.33 2232.26L571.9 2232.56L572.46 2231.62L573.03 2230.88L573.59 2231.91L574.16 2232.35L574.72 2230.81L575.28 2232.09L575.85 2230.28L576.41 2231.74L576.98 2229.25L577.54 2230.84L578.11 2229.03L578.67 2230.22L579.23 2229.59L579.8 2228.46L580.36 2228.64L580.93 2226.46L581.49 2228.56L582.05 2228.2L582.62 2225.35L583.18 2225.7L583.75 2226.85L584.31 2226.74L584.88 2225.58L585.44 2225.2L586 2224.01L586.57 2223.83L587.13 2224.86L587.7 2223.76L588.26 2221.99L588.83 2222.57L589.39 2222.65L589.95 2221.45L590.52 2220.95L591.08 2220.37L591.65 2220.77L592.21 2221.5L592.78 2221.91L593.34 2219.79L593.9 2220.02L594.47 2220.4L595.03 2219.65L595.6 2219.31L596.16 2221.22L596.73 2220.07L597.29 2221.41L597.85 2223.21L598.42 2223.39L598.98 2221.72L599.55 2224.61L600.11 2223.9L600.67 2224.01L601.24 2223.15L601.8 2224.35L602.37 2224.94L602.93 2224.45L603.5 2225.24L604.06 2224.61L604.62 2224.86L605.19 2225.62L605.75 2224.5L606.32 2224.72L606.88 2225.11L607.45 2223.29L608.01 2225.52L608.57 2225.23L609.14 2226.17L609.7 2224.46L610.27 2225.61L610.83 2226.49L611.4 2226.34L611.96 2225.23L612.52 2226.41L613.09 2226.38L613.65 2225.48L614.22 2225.34L614.78 2226.57L615.35 2226.34L615.91 2227.43L616.47 2226.55L617.04 2226.39L617.6 2225.94L618.17 2225.19L618.73 2224.34L619.3 2226.69L619.86 2224.21L620.42 2226.26L620.99 2224.78L621.55 2226.43L622.12 2224.52L622.68 2226.09L623.25 2225.72L623.81 2225.41L624.37 2223.85L624.94 2225.93L625.5 2224.7L626.07 2224.54L626.63 2224.22L627.19 2225.89L627.76 2224.96L628.32 2225.22L628.89 2224.91L629.45 2225.82L630.02 2225.1L630.58 2225.18L631.14 2225.12L631.71 2224.99L632.27 2226.5L632.84 2225.21L633.4 2224.67L633.97 2225.49L634.53 2223.85L635.09 2224.77L635.66 2226.49L636.22 2224.66L636.79 2225.66L637.35 2225.16L637.92 2224.08L638.48 2224.59L639.04 2225.67L639.61 2225.6L640.17 2225.16L640.74 2226.06L641.3 2225.47L641.87 2224.34L642.43 2224.35L642.99 2225.39L643.56 2225.52L644.12 2225.24L644.69 2226.29L645.25 2226.51L645.82 2225.71L646.38 2227.51L646.94 2225.27L647.51 2227.76L648.07 2228.02L648.64 2225.71L649.2 2226.5L649.76 2226.01L650.33 2226.88L650.89 2226.82L651.46 2226.99L652.02 2227.16L652.59 2227.06L653.15 2228.65L653.71 2227.3L654.28 2227.73L654.84 2227.45L655.41 2228.24L655.97 2229.03L656.54 2229.13L657.1 2228.46L657.66 2230.06L658.23 2230.24L658.79 2228.45L659.36 2228.32L659.92 2230.72L660.49 2229.42L661.05 2228.58L661.61 2230.14L662.18 2229.7L662.74 2231.07L663.31 2231.58L663.87 2231.43L664.44 2231.65L665 2231.68L665.56 2230.35L666.13 2230.39L666.69 2232.17L667.26 2230.58L667.82 2230.62L668.38 2230.94L668.95 2231.44L669.51 2232.03L670.08 2230.95L670.64 2232.78L671.21 2230.84L671.77 2232.18L672.33 2232.62L672.9 2231.89L673.46 2232.26L674.03 2232.16L674.59 2232.97L675.16 2232.5L675.72 2231.9L676.28 2232.59L676.85 2231.26L677.41 2232.28L677.98 2233.62L678.54 2232.09L679.11 2233.09L679.67 2231.55L680.23 2232.57L680.8 2233.07L681.36 2233.28L681.93 2232.79L682.49 2232.35L683.06 2234.44L683.62 2233.46L684.18 2232.55L684.75 2234.56L685.31 2232.71L685.88 2233.38L686.44 2232.76L687.01 2233.25L687.57 2234.15L688.13 2233.69L688.7 2234.63L689.26 2232.86L689.83 2233.73L690.39 2234.14L690.96 2234.73L691.52 2233.44L692.08 2235.26L692.65 2233.6L693.21 2234.14L693.78 2233.44L694.34 2234.52L694.9 2235.29L695.47 2235.37L696.03 2234.97L696.6 2234.93L697.16 2235.62L697.73 2233.56L698.29 2235.85L698.85 2234.2L699.42 2234.73L699.98 2234.99L700.55 2236.26L701.11 2234.23L701.68 2235.04L702.24 2234.57L702.8 2234.21L703.37 2234.58L703.93 2236.05L704.5 2236.24L705.06 2236.59L705.63 2235.47L706.19 2235.77L706.75 2234.7L707.32 2235.54L707.88 2236.79L708.45 2236.5L709.01 2235.6L709.58 2235.57L710.14 2236.17L710.7 2234.93L711.27 2236.84L711.83 2236.8L712.4 2235.24L712.96 2235.45L713.53 2235.63L714.09 2236.02L714.65 2237.55L715.22 2235.85L715.78 2236.1L716.35 2236.36L716.91 2237.62L717.47 2237.29L718.04 2236.78L718.6 2237.44L719.17 2236.39L719.73 2236.27L720.3 2237.95L720.86 2237.46L721.42 2235.82L721.99 2237.61L722.55 2237.7L723.12 2235.81L723.68 2236.76L724.25 2235.81L724.81 2236.27L725.37 2237.26L725.94 2236L726.5 2237.4L727.07 2237.07L727.63 2237.33L728.2 2235.59L728.76 2237.25L729.32 2236.85L729.89 2237.33L730.45 2237.45L731.02 2235.9L731.58 2236.35L732.15 2236.87L732.71 2236.58L733.27 2234.97L733.84 2237.2L734.4 2235.18L734.97 2235.58L735.53 2234.92L736.1 2235.33L736.66 2236.97L737.22 2235.21L737.79 2236.81L738.35 2234.97L738.92 2235.79L739.48 2236.75L740.04 2235.39L740.61 2236.95L741.17 2235.65L741.74 2236.52L742.3 2235.7L742.87 2235.23L743.43 2236.78L743.99 2235.49L744.56 2235.54L745.12 2235.35L745.69 2235.3L746.25 2236.2L746.82 2235.18L747.38 2235.31L747.94 2237.05L748.51 2236.63L749.07 2236.65L749.64 2237.59L750.2 2236.52L750.77 2237.36L751.33 2235.65L751.89 2236.91L752.46 2236.79L753.02 2237.62L753.59 2235.13L754.15 2235.98L754.72 2235.66L755.28 2234.33L755.84 2235.84L756.41 2235.46L756.97 2235.61L757.54 2234.1L758.1 2235.13L758.66 2233.82L759.23 2233.33L759.79 2233.54L760.36 2235.62L760.92 2235.3L761.49 2236.23L762.05 2236.52L762.61 2236.7L763.18 2238.06L763.74 2237.47L764.31 2237.21L764.87 2237.92L765.44 2236.96L766 2237.69L766.56 2236.86L767.13 2237.76L767.69 2237.28L768.26 2236.48L768.82 2236.35L769.39 2237.67L769.95 2235.98" stroke="#f04040" stroke-width="1.6" fill="none" stroke-linejoin="round"/>
<path d="M207.64 1780.74a3.7 3.7 0 1 0 7.4 0a3.7 3.7 0 1 0 -7.4 0ZM208.21 1783a3.7 3.7 0 1 0 7.4 0a3.7 3.7 0 1 0 -7.4 0ZM208.77 1787.2a3.7 3.7 0 1 0 7.4 0a3.7 3.7 0 1 0 -7.4 0ZM209.34 1792.98a3.7 3.7 0 1 0 7.4 0a3.7 3.7 0 1 0 -7.4 0ZM209.9 1796.76a3.7 3.7 0 1 0 7.4 0a3.7 3.7 0 1 0 -7.4 0ZM210.46 1800.32a3.7 3.7 0 1 0 7.4 0a3.7 3.7 0 1 0 -7.4 0ZM211.03 1802.46a3.7 3.7 0 1 0 7.4 0a3.7 3.7 0 1 0 -7.4 0ZM211.59 1807.47a3.7 3.7 0 1 0 7.4 0a3.7 3.7 0 1 0 -7.4 0ZM212.16 1808.95a3.7 3.7 0 1 0 7.4 0a3.7 3.7 0 1 0 -7.4 0ZM212.72 1812.87a3.7 3.7 0 1 0 7.4 0a3.7 3.7 0 1 0 -7.4 0ZM213.28 1814.83a3.7 3.7 0 1 0 7.4 0a3.7 3.7 0 1 0 -7.4 0ZM213.85 1819.04a3.7 3.7 0 1 0 7.4 0a3.7 3.7 0 1 0 -7.4 0ZM214.41 1825.86a3.7 3.7 0 1 0 7.4 0a3.7 3.7 0 1 0 -7.4 0ZM214.98 1828.84a3.7 3.7 0 1 0 7.4 0a3.7 3.7 0 1 0 -7.4 0ZM215.54 1833.1a3.7 3.7 0 1 0 7.4 0a3.7 3.7 0 1 0 -7.4 0ZM216.11 1834.8a3.7 3.7 0 1 0 7.4 0a3.7 3.7 0 1 0 -7.4 0ZM216.67 1838.9a3.7 3.7 0 1 0 7.4 0a3.7 3.7 0 1 0 -7.4 0ZM217.23 1844.73a3.7 3.7 0 1 0 7.4 0a3.7 3.7 0 1 0 -7.4 0ZM217.8 1845a3.7 3.7 0 1 0 7.4 0a3.7 3.7 0 1 0 -7.4 0ZM218.36 1849.59a3.7 3.7 0 1 0 7.4 0a3.7 3.7 0 1 0 -7.4 0ZM218.93 1851.97a3.7 3.7 0 1 0 7.4 0a3.7 3.7 0 1 0 -7.4 0ZM219.49 1853.46a3.7 3.7 0 1 0 7.4 0a3.7 3.7 0 1 0 -7.4 0ZM220.06 1858.86a3.7 3.7 0 1 0 7.4 0a3.7 3.7 0 1 0 -7.4 0ZM220.62 1860.62a3.7 3.7 0 1 0 7.4 0a3.7 3.7 0 1 0 -7.4 0ZM221.18 1862.71a3.7 3.7 0 1 0 7.4 0a3.7 3.7 0 1 0 -7.4 0ZM221.75 1864.6a3.7 3.7 0 1 0 7.4 0a3.7 3.7 0 1 0 -7.4 0ZM222.31 1870.05a3.7 3.7 0 1 0 7.4 0a3.7 3.7 0 1 0 -7.4 0ZM222.88 1873.21a3.7 3.7 0 1 0 7.4 0a3.7 3.7 0 1 0 -7.4 0ZM223.44 1875.7a3.7 3.7 0 1 0 7.4 0a3.7 3.7 0 1 0 -7.4 0ZM224.01 1874.52a3.7 3.7 0 1 0 7.4 0a3.7 3.7 0 1 0 -7.4 0ZM224.57 1876.03a3.7 3.7 0 1 0 7.4 0a3.7 3.7 0 1 0 -7.4 0ZM225.13 1878.82a3.7 3.7 0 1 0 7.4 0a3.7 3.7 0 1 0 -7.4 0ZM225.7 1881.32a3.7 3.7 0 1 0 7.4 0a3.7 3.7 0 1 0 -7.4 0ZM226.26 1882.18a3.7 3.7 0 1 0 7.4 0a3.7 3.7 0 1 0 -7.4 0ZM226.83 1885.78a3.7 3.7 0 1 0 7.4 0a3.7 3.7 0 1 0 -7.4 0ZM227.39 1889.58a3.7 3.7 0 1 0 7.4 0a3.7 3.7 0 1 0 -7.4 0ZM227.96 1888.31a3.7 3.7 0 1 0 7.4 0a3.7 3.7 0 1 0 -7.4 0ZM228.52 1888.84a3.7 3.7 0 1 0 7.4 0a3.7 3.7 0 1 0 -7.4 0ZM229.08 1892.05a3.7 3.7 0 1 0 7.4 0a3.7 3.7 0 1 0 -7.4 0ZM229.65 1894.93a3.7 3.7 0 1 0 7.4 0a3.7 3.7 0 1 0 -7.4 0ZM230.21 1895.59a3.7 3.7 0 1 0 7.4 0a3.7 3.7 0 1 0 -7.4 0ZM230.78 1897.36a3.7 3.7 0 1 0 7.4 0a3.7 3.7 0 1 0 -7.4 0ZM231.34 1898.35a3.7 3.7 0 1 0 7.4 0a3.7 3.7 0 1 0 -7.4 0ZM231.91 1903.3a3.7 3.7 0 1 0 7.4 0a3.7 3.7 0 1 0 -7.4 0ZM232.47 1910.75a3.7 3.7 0 1 0 7.4 0a3.7 3.7 0 1 0 -7.4 0ZM233.03 1909.76a3.7 3.7 0 1 0 7.4 0a3.7 3.7 0 1 0 -7.4 0ZM233.6 1908.84a3.7 3.7 0 1 0 7.4 0a3.7 3.7 0 1 0 -7.4 0ZM234.16 1913.62a3.7 3.7 0 1 0 7.4 0a3.7 3.7 0 1 0 -7.4 0ZM234.73 1914.13a3.7 3.7 0 1 0 7.4 0a3.7 3.7 0 1 0 -7.4 0ZM235.29 1911.07a3.7 3.7 0 1 0 7.4 0a3.7 3.7 0 1 0 -7.4 0ZM235.86 1917.5a3.7 3.7 0 1 0 7.4 0a3.7 3.7 0 1 0 -7.4 0ZM236.42 1918.17a3.7 3.7 0 1 0 7.4 0a3.7 3.7 0 1 0 -7.4 0ZM236.98 1916.78a3.7 3.7 0 1 0 7.4 0a3.7 3.7 0 1 0 -7.4 0ZM237.55 1921.86a3.7 3.7 0 1 0 7.4 0a3.7 3.7 0 1 0 -7.4 0ZM238.11 1920.34a3.7 3.7 0 1 0 7.4 0a3.7 3.7 0 1 0 -7.4 0ZM238.68 1917.32a3.7 3.7 0 1 0 7.4 0a3.7 3.7 0 1 0 -7.4 0ZM239.24 1921.32a3.7 3.7 0 1 0 7.4 0a3.7 3.7 0 1 0 -7.4 0ZM239.8 1921.2a3.7 3.7 0 1 0 7.4 0a3.7 3.7 0 1 0 -7.4 0ZM240.37 1920.65a3.7 3.7 0 1 0 7.4 0a3.7 3.7 0 1 0 -7.4 0ZM240.93 1921.82a3.7 3.7 0 1 0 7.4 0a3.7 3.7 0 1 0 -7.4 0ZM241.5 1926.12a3.7 3.7 0 1 0 7.4 0a3.7 3.7 0 1 0 -7.4 0ZM242.06 1929.1a3.7 3.7 0 1 0 7.4 0a3.7 3.7 0 1 0 -7.4 0ZM242.63 1930.37a3.7 3.7 0 1 0 7.4 0a3.7 3.7 0 1 0 -7.4 0ZM243.19 1930.08a3.7 3.7 0 1 0 7.4 0a3.7 3.7 0 1 0 -7.4 0ZM243.75 1929.89a3.7 3.7 0 1 0 7.4 0a3.7 3.7 0 1 0 -7.4 0ZM244.32 1932.93a3.7 3.7 0 1 0 7.4 0a3.7 3.7 0 1 0 -7.4 0ZM244.88 1932.95a3.7 3.7 0 1 0 7.4 0a3.7 3.7 0 1 0 -7.4 0ZM245.45 1934.18a3.7 3.7 0 1 0 7.4 0a3.7 3.7 0 1 0 -7.4 0ZM246.01 1930.85a3.7 3.7 0 1 0 7.4 0a3.7 3.7 0 1 0 -7.4 0ZM246.58 1934.05a3.7 3.7 0 1 0 7.4 0a3.7 3.7 0 1 0 -7.4 0ZM247.14 1933.99a3.7 3.7 0 1 0 7.4 0a3.7 3.7 0 1 0 -7.4 0ZM247.7 1931.37a3.7 3.7 0 1 0 7.4 0a3.7 3.7 0 1 0 -7.4 0ZM248.27 1931.64a3.7 3.7 0 1 0 7.4 0a3.7 3.7 0 1 0 -7.4 0ZM248.83 1931.88a3.7 3.7 0 1 0 7.4 0a3.7 3.7 0 1 0 -7.4 0ZM249.4 1927.75a3.7 3.7 0 1 0 7.4 0a3.7 3.7 0 1 0 -7.4 0ZM249.96 1922.04a3.7 3.7 0 1 0 7.4 0a3.7 3.7 0 1 0 -7.4 0ZM250.53 1925.22a3.7 3.7 0 1 0 7.4 0a3.7 3.7 0 1 0 -7.4 0ZM251.09 1919.37a3.7 3.7 0 1 0 7.4 0a3.7 3.7 0 1 0 -7.4 0ZM251.65 1916.9a3.7 3.7 0 1 0 7.4 0a3.7 3.7 0 1 0 -7.4 0ZM252.22 1915.52a3.7 3.7 0 1 0 7.4 0a3.7 3.7 0 1 0 -7.4 0ZM252.78 1911.73a3.7 3.7 0 1 0 7.4 0a3.7 3.7 0 1 0 -7.4 0ZM253.35 1914.39a3.7 3.7 0 1 0 7.4 0a3.7 3.7 0 1 0 -7.4 0ZM253.91 1913.55a3.7 3.7 0 1 0 7.4 0a3.7 3.7 0 1 0 -7.4 0ZM254.48 1909.55a3.7 3.7 0 1 0 7.4 0a3.7 3.7 0 1 0 -7.4 0ZM255.04 1909.46a3.7 3.7 0 1 0 7.4 0a3.7 3.7 0 1 0 -7.4 0ZM255.6 1917.4a3.7 3.7 0 1 0 7.4 0a3.7 3.7 0 1 0 -7.4 0ZM256.17 1928.37a3.7 3.7 0 1 0 7.4 0a3.7 3.7 0 1 0 -7.4 0ZM256.73 1942.99a3.7 3.7 0 1 0 7.4 0a3.7 3.7 0 1 0 -7.4 0ZM257.3 1961.44a3.7 3.7 0 1 0 7.4 0a3.7 3.7 0 1 0 -7.4 0ZM257.86 1954.46a3.7 3.7 0 1 0 7.4 0a3.7 3.7 0 1 0 -7.4 0ZM258.43 1949.58a3.7 3.7 0 1 0 7.4 0a3.7 3.7 0 1 0 -7.4 0ZM258.99 1942.4a3.7 3.7 0 1 0 7.4 0a3.7 3.7 0 1 0 -7.4 0ZM259.55 1933.04a3.7 3.7 0 1 0 7.4 0a3.7 3.7 0 1 0 -7.4 0ZM260.12 1928.73a3.7 3.7 0 1 0 7.4 0a3.7 3.7 0 1 0 -7.4 0ZM260.68 1924.25a3.7 3.7 0 1 0 7.4 0a3.7 3.7 0 1 0 -7.4 0ZM261.25 1923.29a3.7 3.7 0 1 0 7.4 0a3.7 3.7 0 1 0 -7.4 0ZM261.81 1919a3.7 3.7 0 1 0 7.4 0a3.7 3.7 0 1 0 -7.4 0ZM262.37 1912.6a3.7 3.7 0 1 0 7.4 0a3.7 3.7 0 1 0 -7.4 0ZM262.94 1907.19a3.7 3.7 0 1 0 7.4 0a3.7 3.7 0 1 0 -7.4 0ZM263.5 1903.67a3.7 3.7 0 1 0 7.4 0a3.7 3.7 0 1 0 -7.4 0ZM264.07 1902.67a3.7 3.7 0 1 0 7.4 0a3.7 3.7 0 1 0 -7.4 0ZM264.63 1895.14a3.7 3.7 0 1 0 7.4 0a3.7 3.7 0 1 0 -7.4 0ZM265.2 1892.23a3.7 3.7 0 1 0 7.4 0a3.7 3.7 0 1 0 -7.4 0ZM265.76 1891.25a3.7 3.7 0 1 0 7.4 0a3.7 3.7 0 1 0 -7.4 0ZM266.32 1886.86a3.7 3.7 0 1 0 7.4 0a3.7 3.7 0 1 0 -7.4 0ZM266.89 1880.2a3.7 3.7 0 1 0 7.4 0a3.7 3.7 0 1 0 -7.4 0ZM267.45 1879.21a3.7 3.7 0 1 0 7.4 0a3.7 3.7 0 1 0 -7.4 0ZM268.02 1868.71a3.7 3.7 0 1 0 7.4 0a3.7 3.7 0 1 0 -7.4 0ZM268.58 1862.53a3.7 3.7 0 1 0 7.4 0a3.7 3.7 0 1 0 -7.4 0ZM269.15 1845.09a3.7 3.7 0 1 0 7.4 0a3.7 3.7 0 1 0 -7.4 0ZM269.71 1847.14a3.7 3.7 0 1 0 7.4 0a3.7 3.7 0 1 0 -7.4 0ZM270.27 1852.08a3.7 3.7 0 1 0 7.4 0a3.7 3.7 0 1 0 -7.4 0ZM270.84 1829.12a3.7 3.7 0 1 0 7.4 0a3.7 3.7 0 1 0 -7.4 0ZM271.4 1864.5a3.7 3.7 0 1 0 7.4 0a3.7 3.7 0 1 0 -7.4 0ZM271.97 1831.87a3.7 3.7 0 1 0 7.4 0a3.7 3.7 0 1 0 -7.4 0ZM272.53 1855.49a3.7 3.7 0 1 0 7.4 0a3.7 3.7 0 1 0 -7.4 0ZM273.1 1831.49a3.7 3.7 0 1 0 7.4 0a3.7 3.7 0 1 0 -7.4 0ZM273.66 1849.08a3.7 3.7 0 1 0 7.4 0a3.7 3.7 0 1 0 -7.4 0ZM274.22 1842.86a3.7 3.7 0 1 0 7.4 0a3.7 3.7 0 1 0 -7.4 0ZM274.79 1922.54a3.7 3.7 0 1 0 7.4 0a3.7 3.7 0 1 0 -7.4 0ZM275.35 1942.97a3.7 3.7 0 1 0 7.4 0a3.7 3.7 0 1 0 -7.4 0ZM275.92 1872.32a3.7 3.7 0 1 0 7.4 0a3.7 3.7 0 1 0 -7.4 0ZM276.48 1838.62a3.7 3.7 0 1 0 7.4 0a3.7 3.7 0 1 0 -7.4 0ZM277.05 1851.74a3.7 3.7 0 1 0 7.4 0a3.7 3.7 0 1 0 -7.4 0ZM277.61 1823.82a3.7 3.7 0 1 0 7.4 0a3.7 3.7 0 1 0 -7.4 0ZM278.17 1849.51a3.7 3.7 0 1 0 7.4 0a3.7 3.7 0 1 0 -7.4 0ZM278.74 1833.64a3.7 3.7 0 1 0 7.4 0a3.7 3.7 0 1 0 -7.4 0ZM279.3 1861.12a3.7 3.7 0 1 0 7.4 0a3.7 3.7 0 1 0 -7.4 0ZM279.87 1882.93a3.7 3.7 0 1 0 7.4 0a3.7 3.7 0 1 0 -7.4 0ZM280.43 1840.6a3.7 3.7 0 1 0 7.4 0a3.7 3.7 0 1 0 -7.4 0ZM281 1896.76a3.7 3.7 0 1 0 7.4 0a3.7 3.7 0 1 0 -7.4 0ZM281.56 1822.98a3.7 3.7 0 1 0 7.4 0a3.7 3.7 0 1 0 -7.4 0ZM282.12 1821.88a3.7 3.7 0 1 0 7.4 0a3.7 3.7 0 1 0 -7.4 0ZM282.69 1834.61a3.7 3.7 0 1 0 7.4 0a3.7 3.7 0 1 0 -7.4 0ZM283.25 1886.66a3.7 3.7 0 1 0 7.4 0a3.7 3.7 0 1 0 -7.4 0ZM283.82 1891.87a3.7 3.7 0 1 0 7.4 0a3.7 3.7 0 1 0 -7.4 0ZM284.38 1836.34a3.7 3.7 0 1 0 7.4 0a3.7 3.7 0 1 0 -7.4 0ZM284.94 1807.5a3.7 3.7 0 1 0 7.4 0a3.7 3.7 0 1 0 -7.4 0ZM285.51 1757.64a3.7 3.7 0 1 0 7.4 0a3.7 3.7 0 1 0 -7.4 0ZM286.07 1724.35a3.7 3.7 0 1 0 7.4 0a3.7 3.7 0 1 0 -7.4 0ZM286.64 1748.14a3.7 3.7 0 1 0 7.4 0a3.7 3.7 0 1 0 -7.4 0ZM287.2 1765.83a3.7 3.7 0 1 0 7.4 0a3.7 3.7 0 1 0 -7.4 0ZM287.77 1799.36a3.7 3.7 0 1 0 7.4 0a3.7 3.7 0 1 0 -7.4 0ZM288.33 1809.52a3.7 3.7 0 1 0 7.4 0a3.7 3.7 0 1 0 -7.4 0ZM288.89 1833.4a3.7 3.7 0 1 0 7.4 0a3.7 3.7 0 1 0 -7.4 0ZM289.46 1770.78a3.7 3.7 0 1 0 7.4 0a3.7 3.7 0 1 0 -7.4 0ZM290.02 1707.12a3.7 3.7 0 1 0 7.4 0a3.7 3.7 0 1 0 -7.4 0ZM290.59 1652.8a3.7 3.7 0 1 0 7.4 0a3.7 3.7 0 1 0 -7.4 0ZM291.15 1611.12a3.7 3.7 0 1 0 7.4 0a3.7 3.7 0 1 0 -7.4 0ZM291.72 1563.88a3.7 3.7 0 1 0 7.4 0a3.7 3.7 0 1 0 -7.4 0ZM292.28 1527.12a3.7 3.7 0 1 0 7.4 0a3.7 3.7 0 1 0 -7.4 0ZM292.84 1534.89a3.7 3.7 0 1 0 7.4 0a3.7 3.7 0 1 0 -7.4 0ZM293.41 1544.87a3.7 3.7 0 1 0 7.4 0a3.7 3.7 0 1 0 -7.4 0ZM293.97 1561.78a3.7 3.7 0 1 0 7.4 0a3.7 3.7 0 1 0 -7.4 0ZM294.54 1572.11a3.7 3.7 0 1 0 7.4 0a3.7 3.7 0 1 0 -7.4 0ZM295.1 1598.74a3.7 3.7 0 1 0 7.4 0a3.7 3.7 0 1 0 -7.4 0ZM295.67 1636.48a3.7 3.7 0 1 0 7.4 0a3.7 3.7 0 1 0 -7.4 0ZM296.23 1664.97a3.7 3.7 0 1 0 7.4 0a3.7 3.7 0 1 0 -7.4 0ZM296.79 1709.67a3.7 3.7 0 1 0 7.4 0a3.7 3.7 0 1 0 -7.4 0ZM297.36 1736.81a3.7 3.7 0 1 0 7.4 0a3.7 3.7 0 1 0 -7.4 0ZM297.92 1778.3a3.7 3.7 0 1 0 7.4 0a3.7 3.7 0 1 0 -7.4 0ZM298.49 1822.34a3.7 3.7 0 1 0 7.4 0a3.7 3.7 0 1 0 -7.4 0ZM299.05 1854.65a3.7 3.7 0 1 0 7.4 0a3.7 3.7 0 1 0 -7.4 0ZM299.62 1881.38a3.7 3.7 0 1 0 7.4 0a3.7 3.7 0 1 0 -7.4 0ZM300.18 1904.79a3.7 3.7 0 1 0 7.4 0a3.7 3.7 0 1 0 -7.4 0ZM300.74 1949.05a3.7 3.7 0 1 0 7.4 0a3.7 3.7 0 1 0 -7.4 0ZM301.31 1984.1a3.7 3.7 0 1 0 7.4 0a3.7 3.7 0 1 0 -7.4 0ZM301.87 2010.59a3.7 3.7 0 1 0 7.4 0a3.7 3.7 0 1 0 -7.4 0ZM302.44 2039.25a3.7 3.7 0 1 0 7.4 0a3.7 3.7 0 1 0 -7.4 0ZM303 2045.53a3.7 3.7 0 1 0 7.4 0a3.7 3.7 0 1 0 -7.4 0ZM303.56 2061.71a3.7 3.7 0 1 0 7.4 0a3.7 3.7 0 1 0 -7.4 0ZM304.13 2067.79a3.7 3.7 0 1 0 7.4 0a3.7 3.7 0 1 0 -7.4 0ZM304.69 2069.99a3.7 3.7 0 1 0 7.4 0a3.7 3.7 0 1 0 -7.4 0ZM305.26 2054.37a3.7 3.7 0 1 0 7.4 0a3.7 3.7 0 1 0 -7.4 0ZM305.82 2046.68a3.7 3.7 0 1 0 7.4 0a3.7 3.7 0 1 0 -7.4 0ZM306.39 2021.03a3.7 3.7 0 1 0 7.4 0a3.7 3.7 0 1 0 -7.4 0ZM306.95 1994.85a3.7 3.7 0 1 0 7.4 0a3.7 3.7 0 1 0 -7.4 0ZM307.51 1954.35a3.7 3.7 0 1 0 7.4 0a3.7 3.7 0 1 0 -7.4 0ZM308.08 1918.5a3.7 3.7 0 1 0 7.4 0a3.7 3.7 0 1 0 -7.4 0ZM308.64 1873.34a3.7 3.7 0 1 0 7.4 0a3.7 3.7 0 1 0 -7.4 0ZM309.21 1826.8a3.7 3.7 0 1 0 7.4 0a3.7 3.7 0 1 0 -7.4 0ZM309.77 1748.19a3.7 3.7 0 1 0 7.4 0a3.7 3.7 0 1 0 -7.4 0ZM310.34 1711.91a3.7 3.7 0 1 0 7.4 0a3.7 3.7 0 1 0 -7.4 0ZM310.9 1726.43a3.7 3.7 0 1 0 7.4 0a3.7 3.7 0 1 0 -7.4 0ZM311.46 1749.4a3.7 3.7 0 1 0 7.4 0a3.7 3.7 0 1 0 -7.4 0ZM312.03 1758.72a3.7 3.7 0 1 0 7.4 0a3.7 3.7 0 1 0 -7.4 0ZM312.59 1758.87a3.7 3.7 0 1 0 7.4 0a3.7 3.7 0 1 0 -7.4 0ZM313.16 1769.44a3.7 3.7 0 1 0 7.4 0a3.7 3.7 0 1 0 -7.4 0ZM313.72 1764.73a3.7 3.7 0 1 0 7.4 0a3.7 3.7 0 1 0 -7.4 0ZM314.29 1772.68a3.7 3.7 0 1 0 7.4 0a3.7 3.7 0 1 0 -7.4 0ZM314.85 1778.65a3.7 3.7 0 1 0 7.4 0a3.7 3.7 0 1 0 -7.4 0ZM315.41 1790.64a3.7 3.7 0 1 0 7.4 0a3.7 3.7 0 1 0 -7.4 0ZM315.98 1789.2a3.7 3.7 0 1 0 7.4 0a3.7 3.7 0 1 0 -7.4 0ZM316.54 1807.36a3.7 3.7 0 1 0 7.4 0a3.7 3.7 0 1 0 -7.4 0ZM317.11 1805.19a3.7 3.7 0 1 0 7.4 0a3.7 3.7 0 1 0 -7.4 0ZM317.67 1823.36a3.7 3.7 0 1 0 7.4 0a3.7 3.7 0 1 0 -7.4 0ZM318.24 1840.59a3.7 3.7 0 1 0 7.4 0a3.7 3.7 0 1 0 -7.4 0ZM318.8 1842.91a3.7 3.7 0 1 0 7.4 0a3.7 3.7 0 1 0 -7.4 0ZM319.36 1858.08a3.7 3.7 0 1 0 7.4 0a3.7 3.7 0 1 0 -7.4 0ZM319.93 1869.42a3.7 3.7 0 1 0 7.4 0a3.7 3.7 0 1 0 -7.4 0ZM320.49 1909.62a3.7 3.7 0 1 0 7.4 0a3.7 3.7 0 1 0 -7.4 0ZM321.06 1946.15a3.7 3.7 0 1 0 7.4 0a3.7 3.7 0 1 0 -7.4 0ZM321.62 1962.18a3.7 3.7 0 1 0 7.4 0a3.7 3.7 0 1 0 -7.4 0ZM322.19 1966.51a3.7 3.7 0 1 0 7.4 0a3.7 3.7 0 1 0 -7.4 0ZM322.75 1978.77a3.7 3.7 0 1 0 7.4 0a3.7 3.7 0 1 0 -7.4 0ZM323.31 1992.44a3.7 3.7 0 1 0 7.4 0a3.7 3.7 0 1 0 -7.4 0ZM323.88 1996.93a3.7 3.7 0 1 0 7.4 0a3.7 3.7 0 1 0 -7.4 0ZM324.44 2014.86a3.7 3.7 0 1 0 7.4 0a3.7 3.7 0 1 0 -7.4 0ZM325.01 2026.04a3.7 3.7 0 1 0 7.4 0a3.7 3.7 0 1 0 -7.4 0ZM325.57 2050.02a3.7 3.7 0 1 0 7.4 0a3.7 3.7 0 1 0 -7.4 0ZM326.13 2070.98a3.7 3.7 0 1 0 7.4 0a3.7 3.7 0 1 0 -7.4 0ZM326.7 2074.59a3.7 3.7 0 1 0 7.4 0a3.7 3.7 0 1 0 -7.4 0ZM327.26 2077.86a3.7 3.7 0 1 0 7.4 0a3.7 3.7 0 1 0 -7.4 0ZM327.83 2088.78a3.7 3.7 0 1 0 7.4 0a3.7 3.7 0 1 0 -7.4 0ZM328.39 2083.63a3.7 3.7 0 1 0 7.4 0a3.7 3.7 0 1 0 -7.4 0ZM328.96 2095.66a3.7 3.7 0 1 0 7.4 0a3.7 3.7 0 1 0 -7.4 0ZM329.52 2105.31a3.7 3.7 0 1 0 7.4 0a3.7 3.7 0 1 0 -7.4 0ZM330.08 2110.08a3.7 3.7 0 1 0 7.4 0a3.7 3.7 0 1 0 -7.4 0ZM330.65 2117.88a3.7 3.7 0 1 0 7.4 0a3.7 3.7 0 1 0 -7.4 0ZM331.21 2121.64a3.7 3.7 0 1 0 7.4 0a3.7 3.7 0 1 0 -7.4 0ZM331.78 2112.46a3.7 3.7 0 1 0 7.4 0a3.7 3.7 0 1 0 -7.4 0ZM332.34 2103.35a3.7 3.7 0 1 0 7.4 0a3.7 3.7 0 1 0 -7.4 0ZM332.91 2087.5a3.7 3.7 0 1 0 7.4 0a3.7 3.7 0 1 0 -7.4 0ZM333.47 2078.02a3.7 3.7 0 1 0 7.4 0a3.7 3.7 0 1 0 -7.4 0ZM334.03 2077.16a3.7 3.7 0 1 0 7.4 0a3.7 3.7 0 1 0 -7.4 0ZM334.6 2078.64a3.7 3.7 0 1 0 7.4 0a3.7 3.7 0 1 0 -7.4 0ZM335.16 2085.78a3.7 3.7 0 1 0 7.4 0a3.7 3.7 0 1 0 -7.4 0ZM335.73 2076.63a3.7 3.7 0 1 0 7.4 0a3.7 3.7 0 1 0 -7.4 0ZM336.29 2083.95a3.7 3.7 0 1 0 7.4 0a3.7 3.7 0 1 0 -7.4 0ZM336.86 2091.64a3.7 3.7 0 1 0 7.4 0a3.7 3.7 0 1 0 -7.4 0ZM337.42 2102.26a3.7 3.7 0 1 0 7.4 0a3.7 3.7 0 1 0 -7.4 0ZM337.98 2104.05a3.7 3.7 0 1 0 7.4 0a3.7 3.7 0 1 0 -7.4 0ZM338.55 2096.43a3.7 3.7 0 1 0 7.4 0a3.7 3.7 0 1 0 -7.4 0ZM339.11 2089.16a3.7 3.7 0 1 0 7.4 0a3.7 3.7 0 1 0 -7.4 0ZM339.68 2081.51a3.7 3.7 0 1 0 7.4 0a3.7 3.7 0 1 0 -7.4 0ZM340.24 2071.14a3.7 3.7 0 1 0 7.4 0a3.7 3.7 0 1 0 -7.4 0ZM340.81 2056.69a3.7 3.7 0 1 0 7.4 0a3.7 3.7 0 1 0 -7.4 0ZM341.37 2048.09a3.7 3.7 0 1 0 7.4 0a3.7 3.7 0 1 0 -7.4 0ZM341.93 2038.53a3.7 3.7 0 1 0 7.4 0a3.7 3.7 0 1 0 -7.4 0ZM342.5 2033.94a3.7 3.7 0 1 0 7.4 0a3.7 3.7 0 1 0 -7.4 0ZM343.06 2028.69a3.7 3.7 0 1 0 7.4 0a3.7 3.7 0 1 0 -7.4 0ZM343.63 2031.06a3.7 3.7 0 1 0 7.4 0a3.7 3.7 0 1 0 -7.4 0ZM344.19 2039.48a3.7 3.7 0 1 0 7.4 0a3.7 3.7 0 1 0 -7.4 0ZM344.76 2039.7a3.7 3.7 0 1 0 7.4 0a3.7 3.7 0 1 0 -7.4 0ZM345.32 2046.68a3.7 3.7 0 1 0 7.4 0a3.7 3.7 0 1 0 -7.4 0ZM345.88 2056.97a3.7 3.7 0 1 0 7.4 0a3.7 3.7 0 1 0 -7.4 0ZM346.45 2071.9a3.7 3.7 0 1 0 7.4 0a3.7 3.7 0 1 0 -7.4 0ZM347.01 2080.6a3.7 3.7 0 1 0 7.4 0a3.7 3.7 0 1 0 -7.4 0ZM347.58 2088.95a3.7 3.7 0 1 0 7.4 0a3.7 3.7 0 1 0 -7.4 0ZM348.14 2100.02a3.7 3.7 0 1 0 7.4 0a3.7 3.7 0 1 0 -7.4 0ZM348.7 2104.49a3.7 3.7 0 1 0 7.4 0a3.7 3.7 0 1 0 -7.4 0ZM349.27 2113.13a3.7 3.7 0 1 0 7.4 0a3.7 3.7 0 1 0 -7.4 0ZM349.83 2124.9a3.7 3.7 0 1 0 7.4 0a3.7 3.7 0 1 0 -7.4 0ZM350.4 2128.49a3.7 3.7 0 1 0 7.4 0a3.7 3.7 0 1 0 -7.4 0ZM350.96 2136.13a3.7 3.7 0 1 0 7.4 0a3.7 3.7 0 1 0 -7.4 0ZM351.53 2143.27a3.7 3.7 0 1 0 7.4 0a3.7 3.7 0 1 0 -7.4 0ZM352.09 2148.87a3.7 3.7 0 1 0 7.4 0a3.7 3.7 0 1 0 -7.4 0ZM352.65 2152.09a3.7 3.7 0 1 0 7.4 0a3.7 3.7 0 1 0 -7.4 0ZM353.22 2156.31a3.7 3.7 0 1 0 7.4 0a3.7 3.7 0 1 0 -7.4 0ZM353.78 2166.4a3.7 3.7 0 1 0 7.4 0a3.7 3.7 0 1 0 -7.4 0ZM354.35 2164.86a3.7 3.7 0 1 0 7.4 0a3.7 3.7 0 1 0 -7.4 0ZM354.91 2169.91a3.7 3.7 0 1 0 7.4 0a3.7 3.7 0 1 0 -7.4 0ZM355.48 2151.25a3.7 3.7 0 1 0 7.4 0a3.7 3.7 0 1 0 -7.4 0ZM356.04 2127.8a3.7 3.7 0 1 0 7.4 0a3.7 3.7 0 1 0 -7.4 0ZM356.6 2104.75a3.7 3.7 0 1 0 7.4 0a3.7 3.7 0 1 0 -7.4 0ZM357.17 2084.55a3.7 3.7 0 1 0 7.4 0a3.7 3.7 0 1 0 -7.4 0ZM357.73 2072.64a3.7 3.7 0 1 0 7.4 0a3.7 3.7 0 1 0 -7.4 0ZM358.3 2064.6a3.7 3.7 0 1 0 7.4 0a3.7 3.7 0 1 0 -7.4 0ZM358.86 2075.95a3.7 3.7 0 1 0 7.4 0a3.7 3.7 0 1 0 -7.4 0ZM359.43 2082.18a3.7 3.7 0 1 0 7.4 0a3.7 3.7 0 1 0 -7.4 0ZM359.99 2091.3a3.7 3.7 0 1 0 7.4 0a3.7 3.7 0 1 0 -7.4 0ZM360.55 2095.19a3.7 3.7 0 1 0 7.4 0a3.7 3.7 0 1 0 -7.4 0ZM361.12 2108.5a3.7 3.7 0 1 0 7.4 0a3.7 3.7 0 1 0 -7.4 0ZM361.68 2116.27a3.7 3.7 0 1 0 7.4 0a3.7 3.7 0 1 0 -7.4 0ZM362.25 2125.85a3.7 3.7 0 1 0 7.4 0a3.7 3.7 0 1 0 -7.4 0ZM362.81 2133.96a3.7 3.7 0 1 0 7.4 0a3.7 3.7 0 1 0 -7.4 0ZM363.38 2142.53a3.7 3.7 0 1 0 7.4 0a3.7 3.7 0 1 0 -7.4 0ZM363.94 2151.58a3.7 3.7 0 1 0 7.4 0a3.7 3.7 0 1 0 -7.4 0ZM364.5 2162.22a3.7 3.7 0 1 0 7.4 0a3.7 3.7 0 1 0 -7.4 0ZM365.07 2166.35a3.7 3.7 0 1 0 7.4 0a3.7 3.7 0 1 0 -7.4 0ZM365.63 2162.91a3.7 3.7 0 1 0 7.4 0a3.7 3.7 0 1 0 -7.4 0ZM366.2 2150.89a3.7 3.7 0 1 0 7.4 0a3.7 3.7 0 1 0 -7.4 0ZM366.76 2139.36a3.7 3.7 0 1 0 7.4 0a3.7 3.7 0 1 0 -7.4 0ZM367.33 2125.82a3.7 3.7 0 1 0 7.4 0a3.7 3.7 0 1 0 -7.4 0ZM367.89 2116.8a3.7 3.7 0 1 0 7.4 0a3.7 3.7 0 1 0 -7.4 0ZM368.45 2107.36a3.7 3.7 0 1 0 7.4 0a3.7 3.7 0 1 0 -7.4 0ZM369.02 2102.04a3.7 3.7 0 1 0 7.4 0a3.7 3.7 0 1 0 -7.4 0ZM369.58 2094a3.7 3.7 0 1 0 7.4 0a3.7 3.7 0 1 0 -7.4 0ZM370.15 2101.99a3.7 3.7 0 1 0 7.4 0a3.7 3.7 0 1 0 -7.4 0ZM370.71 2108.07a3.7 3.7 0 1 0 7.4 0a3.7 3.7 0 1 0 -7.4 0ZM371.28 2114.15a3.7 3.7 0 1 0 7.4 0a3.7 3.7 0 1 0 -7.4 0ZM371.84 2118.62a3.7 3.7 0 1 0 7.4 0a3.7 3.7 0 1 0 -7.4 0ZM372.4 2123.19a3.7 3.7 0 1 0 7.4 0a3.7 3.7 0 1 0 -7.4 0ZM372.97 2128.94a3.7 3.7 0 1 0 7.4 0a3.7 3.7 0 1 0 -7.4 0ZM373.53 2128.46a3.7 3.7 0 1 0 7.4 0a3.7 3.7 0 1 0 -7.4 0ZM374.1 2133.52a3.7 3.7 0 1 0 7.4 0a3.7 3.7 0 1 0 -7.4 0ZM374.66 2140.91a3.7 3.7 0 1 0 7.4 0a3.7 3.7 0 1 0 -7.4 0ZM375.22 2139.67a3.7 3.7 0 1 0 7.4 0a3.7 3.7 0 1 0 -7.4 0ZM375.79 2144.05a3.7 3.7 0 1 0 7.4 0a3.7 3.7 0 1 0 -7.4 0ZM376.35 2146.21a3.7 3.7 0 1 0 7.4 0a3.7 3.7 0 1 0 -7.4 0ZM376.92 2149.07a3.7 3.7 0 1 0 7.4 0a3.7 3.7 0 1 0 -7.4 0ZM377.48 2150.56a3.7 3.7 0 1 0 7.4 0a3.7 3.7 0 1 0 -7.4 0ZM378.05 2151.35a3.7 3.7 0 1 0 7.4 0a3.7 3.7 0 1 0 -7.4 0ZM378.61 2151.9a3.7 3.7 0 1 0 7.4 0a3.7 3.7 0 1 0 -7.4 0ZM379.17 2154.88a3.7 3.7 0 1 0 7.4 0a3.7 3.7 0 1 0 -7.4 0ZM379.74 2157.31a3.7 3.7 0 1 0 7.4 0a3.7 3.7 0 1 0 -7.4 0ZM380.3 2158.59a3.7 3.7 0 1 0 7.4 0a3.7 3.7 0 1 0 -7.4 0ZM380.87 2160.58a3.7 3.7 0 1 0 7.4 0a3.7 3.7 0 1 0 -7.4 0ZM381.43 2161.36a3.7 3.7 0 1 0 7.4 0a3.7 3.7 0 1 0 -7.4 0ZM382 2162.55a3.7 3.7 0 1 0 7.4 0a3.7 3.7 0 1 0 -7.4 0ZM382.56 2165.2a3.7 3.7 0 1 0 7.4 0a3.7 3.7 0 1 0 -7.4 0ZM383.12 2167a3.7 3.7 0 1 0 7.4 0a3.7 3.7 0 1 0 -7.4 0ZM383.69 2169.31a3.7 3.7 0 1 0 7.4 0a3.7 3.7 0 1 0 -7.4 0ZM384.25 2168.19a3.7 3.7 0 1 0 7.4 0a3.7 3.7 0 1 0 -7.4 0ZM384.82 2170.92a3.7 3.7 0 1 0 7.4 0a3.7 3.7 0 1 0 -7.4 0ZM385.38 2171.33a3.7 3.7 0 1 0 7.4 0a3.7 3.7 0 1 0 -7.4 0ZM385.95 2174.42a3.7 3.7 0 1 0 7.4 0a3.7 3.7 0 1 0 -7.4 0ZM386.51 2175.48a3.7 3.7 0 1 0 7.4 0a3.7 3.7 0 1 0 -7.4 0ZM387.07 2175.35a3.7 3.7 0 1 0 7.4 0a3.7 3.7 0 1 0 -7.4 0ZM387.64 2177a3.7 3.7 0 1 0 7.4 0a3.7 3.7 0 1 0 -7.4 0ZM388.2 2180.79a3.7 3.7 0 1 0 7.4 0a3.7 3.7 0 1 0 -7.4 0ZM388.77 2179.37a3.7 3.7 0 1 0 7.4 0a3.7 3.7 0 1 0 -7.4 0ZM389.33 2181.24a3.7 3.7 0 1 0 7.4 0a3.7 3.7 0 1 0 -7.4 0ZM389.9 2182.8a3.7 3.7 0 1 0 7.4 0a3.7 3.7 0 1 0 -7.4 0ZM390.46 2182.59a3.7 3.7 0 1 0 7.4 0a3.7 3.7 0 1 0 -7.4 0ZM391.02 2183.18a3.7 3.7 0 1 0 7.4 0a3.7 3.7 0 1 0 -7.4 0ZM391.59 2186.62a3.7 3.7 0 1 0 7.4 0a3.7 3.7 0 1 0 -7.4 0ZM392.15 2186.46a3.7 3.7 0 1 0 7.4 0a3.7 3.7 0 1 0 -7.4 0ZM392.72 2186.29a3.7 3.7 0 1 0 7.4 0a3.7 3.7 0 1 0 -7.4 0ZM393.28 2188.12a3.7 3.7 0 1 0 7.4 0a3.7 3.7 0 1 0 -7.4 0ZM393.84 2189.63a3.7 3.7 0 1 0 7.4 0a3.7 3.7 0 1 0 -7.4 0ZM394.41 2191.78a3.7 3.7 0 1 0 7.4 0a3.7 3.7 0 1 0 -7.4 0ZM394.97 2192.21a3.7 3.7 0 1 0 7.4 0a3.7 3.7 0 1 0 -7.4 0ZM395.54 2192.02a3.7 3.7 0 1 0 7.4 0a3.7 3.7 0 1 0 -7.4 0ZM396.1 2194.45a3.7 3.7 0 1 0 7.4 0a3.7 3.7 0 1 0 -7.4 0ZM396.67 2193.99a3.7 3.7 0 1 0 7.4 0a3.7 3.7 0 1 0 -7.4 0ZM397.23 2196.44a3.7 3.7 0 1 0 7.4 0a3.7 3.7 0 1 0 -7.4 0ZM397.79 2196.25a3.7 3.7 0 1 0 7.4 0a3.7 3.7 0 1 0 -7.4 0ZM398.36 2197.61a3.7 3.7 0 1 0 7.4 0a3.7 3.7 0 1 0 -7.4 0ZM398.92 2196.49a3.7 3.7 0 1 0 7.4 0a3.7 3.7 0 1 0 -7.4 0ZM399.49 2196.81a3.7 3.7 0 1 0 7.4 0a3.7 3.7 0 1 0 -7.4 0ZM400.05 2194.44a3.7 3.7 0 1 0 7.4 0a3.7 3.7 0 1 0 -7.4 0ZM400.62 2194.13a3.7 3.7 0 1 0 7.4 0a3.7 3.7 0 1 0 -7.4 0ZM401.18 2195.43a3.7 3.7 0 1 0 7.4 0a3.7 3.7 0 1 0 -7.4 0ZM401.74 2192.87a3.7 3.7 0 1 0 7.4 0a3.7 3.7 0 1 0 -7.4 0ZM402.31 2196.07a3.7 3.7 0 1 0 7.4 0a3.7 3.7 0 1 0 -7.4 0ZM402.87 2196.91a3.7 3.7 0 1 0 7.4 0a3.7 3.7 0 1 0 -7.4 0ZM403.44 2198.49a3.7 3.7 0 1 0 7.4 0a3.7 3.7 0 1 0 -7.4 0ZM404 2199.17a3.7 3.7 0 1 0 7.4 0a3.7 3.7 0 1 0 -7.4 0ZM404.57 2201.3a3.7 3.7 0 1 0 7.4 0a3.7 3.7 0 1 0 -7.4 0ZM405.13 2201.88a3.7 3.7 0 1 0 7.4 0a3.7 3.7 0 1 0 -7.4 0ZM405.69 2201.8a3.7 3.7 0 1 0 7.4 0a3.7 3.7 0 1 0 -7.4 0ZM406.26 2202.37a3.7 3.7 0 1 0 7.4 0a3.7 3.7 0 1 0 -7.4 0ZM406.82 2204.09a3.7 3.7 0 1 0 7.4 0a3.7 3.7 0 1 0 -7.4 0ZM407.39 2203.67a3.7 3.7 0 1 0 7.4 0a3.7 3.7 0 1 0 -7.4 0ZM407.95 2204.99a3.7 3.7 0 1 0 7.4 0a3.7 3.7 0 1 0 -7.4 0ZM408.52 2207.23a3.7 3.7 0 1 0 7.4 0a3.7 3.7 0 1 0 -7.4 0ZM409.08 2207.58a3.7 3.7 0 1 0 7.4 0a3.7 3.7 0 1 0 -7.4 0ZM409.64 2207.57a3.7 3.7 0 1 0 7.4 0a3.7 3.7 0 1 0 -7.4 0ZM410.21 2208.89a3.7 3.7 0 1 0 7.4 0a3.7 3.7 0 1 0 -7.4 0ZM410.77 2208.2a3.7 3.7 0 1 0 7.4 0a3.7 3.7 0 1 0 -7.4 0ZM411.34 2210.22a3.7 3.7 0 1 0 7.4 0a3.7 3.7 0 1 0 -7.4 0ZM411.9 2210.59a3.7 3.7 0 1 0 7.4 0a3.7 3.7 0 1 0 -7.4 0ZM412.47 2211.34a3.7 3.7 0 1 0 7.4 0a3.7 3.7 0 1 0 -7.4 0ZM413.03 2212.13a3.7 3.7 0 1 0 7.4 0a3.7 3.7 0 1 0 -7.4 0ZM413.59 2209.35a3.7 3.7 0 1 0 7.4 0a3.7 3.7 0 1 0 -7.4 0ZM414.16 2209.39a3.7 3.7 0 1 0 7.4 0a3.7 3.7 0 1 0 -7.4 0ZM414.72 2208.41a3.7 3.7 0 1 0 7.4 0a3.7 3.7 0 1 0 -7.4 0ZM415.29 2210.09a3.7 3.7 0 1 0 7.4 0a3.7 3.7 0 1 0 -7.4 0ZM415.85 2208.09a3.7 3.7 0 1 0 7.4 0a3.7 3.7 0 1 0 -7.4 0ZM416.42 2207.89a3.7 3.7 0 1 0 7.4 0a3.7 3.7 0 1 0 -7.4 0ZM416.98 2208.29a3.7 3.7 0 1 0 7.4 0a3.7 3.7 0 1 0 -7.4 0ZM417.54 2208.44a3.7 3.7 0 1 0 7.4 0a3.7 3.7 0 1 0 -7.4 0ZM418.11 2207.71a3.7 3.7 0 1 0 7.4 0a3.7 3.7 0 1 0 -7.4 0ZM418.67 2205.39a3.7 3.7 0 1 0 7.4 0a3.7 3.7 0 1 0 -7.4 0ZM419.24 2205.97a3.7 3.7 0 1 0 7.4 0a3.7 3.7 0 1 0 -7.4 0ZM419.8 2208.29a3.7 3.7 0 1 0 7.4 0a3.7 3.7 0 1 0 -7.4 0ZM420.36 2207.6a3.7 3.7 0 1 0 7.4 0a3.7 3.7 0 1 0 -7.4 0ZM420.93 2210.38a3.7 3.7 0 1 0 7.4 0a3.7 3.7 0 1 0 -7.4 0ZM421.49 2210.08a3.7 3.7 0 1 0 7.4 0a3.7 3.7 0 1 0 -7.4 0ZM422.06 2211.2a3.7 3.7 0 1 0 7.4 0a3.7 3.7 0 1 0 -7.4 0ZM422.62 2209.83a3.7 3.7 0 1 0 7.4 0a3.7 3.7 0 1 0 -7.4 0ZM423.19 2211.81a3.7 3.7 0 1 0 7.4 0a3.7 3.7 0 1 0 -7.4 0ZM423.75 2211.42a3.7 3.7 0 1 0 7.4 0a3.7 3.7 0 1 0 -7.4 0ZM424.31 2214.09a3.7 3.7 0 1 0 7.4 0a3.7 3.7 0 1 0 -7.4 0ZM424.88 2212.21a3.7 3.7 0 1 0 7.4 0a3.7 3.7 0 1 0 -7.4 0ZM425.44 2212.9a3.7 3.7 0 1 0 7.4 0a3.7 3.7 0 1 0 -7.4 0ZM426.01 2214.25a3.7 3.7 0 1 0 7.4 0a3.7 3.7 0 1 0 -7.4 0ZM426.57 2212.72a3.7 3.7 0 1 0 7.4 0a3.7 3.7 0 1 0 -7.4 0ZM427.14 2214.88a3.7 3.7 0 1 0 7.4 0a3.7 3.7 0 1 0 -7.4 0ZM427.7 2214.93a3.7 3.7 0 1 0 7.4 0a3.7 3.7 0 1 0 -7.4 0ZM428.26 2216.02a3.7 3.7 0 1 0 7.4 0a3.7 3.7 0 1 0 -7.4 0ZM428.83 2213.66a3.7 3.7 0 1 0 7.4 0a3.7 3.7 0 1 0 -7.4 0ZM429.39 2213.79a3.7 3.7 0 1 0 7.4 0a3.7 3.7 0 1 0 -7.4 0ZM429.96 2215.99a3.7 3.7 0 1 0 7.4 0a3.7 3.7 0 1 0 -7.4 0ZM430.52 2214.16a3.7 3.7 0 1 0 7.4 0a3.7 3.7 0 1 0 -7.4 0ZM431.09 2215.97a3.7 3.7 0 1 0 7.4 0a3.7 3.7 0 1 0 -7.4 0ZM431.65 2216.06a3.7 3.7 0 1 0 7.4 0a3.7 3.7 0 1 0 -7.4 0ZM432.21 2214.86a3.7 3.7 0 1 0 7.4 0a3.7 3.7 0 1 0 -7.4 0ZM432.78 2215.42a3.7 3.7 0 1 0 7.4 0a3.7 3.7 0 1 0 -7.4 0ZM433.34 2215.57a3.7 3.7 0 1 0 7.4 0a3.7 3.7 0 1 0 -7.4 0ZM433.91 2216.38a3.7 3.7 0 1 0 7.4 0a3.7 3.7 0 1 0 -7.4 0ZM434.47 2217.39a3.7 3.7 0 1 0 7.4 0a3.7 3.7 0 1 0 -7.4 0ZM435.04 2216.3a3.7 3.7 0 1 0 7.4 0a3.7 3.7 0 1 0 -7.4 0ZM435.6 2218.15a3.7 3.7 0 1 0 7.4 0a3.7 3.7 0 1 0 -7.4 0ZM436.16 2218.23a3.7 3.7 0 1 0 7.4 0a3.7 3.7 0 1 0 -7.4 0ZM436.73 2219.06a3.7 3.7 0 1 0 7.4 0a3.7 3.7 0 1 0 -7.4 0ZM437.29 2218.46a3.7 3.7 0 1 0 7.4 0a3.7 3.7 0 1 0 -7.4 0ZM437.86 2217.12a3.7 3.7 0 1 0 7.4 0a3.7 3.7 0 1 0 -7.4 0ZM438.42 2219.08a3.7 3.7 0 1 0 7.4 0a3.7 3.7 0 1 0 -7.4 0ZM438.99 2219.78a3.7 3.7 0 1 0 7.4 0a3.7 3.7 0 1 0 -7.4 0ZM439.55 2218.28a3.7 3.7 0 1 0 7.4 0a3.7 3.7 0 1 0 -7.4 0ZM440.11 2219.84a3.7 3.7 0 1 0 7.4 0a3.7 3.7 0 1 0 -7.4 0ZM440.68 2218.98a3.7 3.7 0 1 0 7.4 0a3.7 3.7 0 1 0 -7.4 0ZM441.24 2218.84a3.7 3.7 0 1 0 7.4 0a3.7 3.7 0 1 0 -7.4 0ZM441.81 2219.3a3.7 3.7 0 1 0 7.4 0a3.7 3.7 0 1 0 -7.4 0ZM442.37 2219.03a3.7 3.7 0 1 0 7.4 0a3.7 3.7 0 1 0 -7.4 0ZM442.93 2220.03a3.7 3.7 0 1 0 7.4 0a3.7 3.7 0 1 0 -7.4 0ZM443.5 2219.77a3.7 3.7 0 1 0 7.4 0a3.7 3.7 0 1 0 -7.4 0ZM444.06 2221.37a3.7 3.7 0 1 0 7.4 0a3.7 3.7 0 1 0 -7.4 0ZM444.63 2221.86a3.7 3.7 0 1 0 7.4 0a3.7 3.7 0 1 0 -7.4 0ZM445.19 2220.89a3.7 3.7 0 1 0 7.4 0a3.7 3.7 0 1 0 -7.4 0ZM445.76 2221.63a3.7 3.7 0 1 0 7.4 0a3.7 3.7 0 1 0 -7.4 0ZM446.32 2221.54a3.7 3.7 0 1 0 7.4 0a3.7 3.7 0 1 0 -7.4 0ZM446.88 2220.92a3.7 3.7 0 1 0 7.4 0a3.7 3.7 0 1 0 -7.4 0ZM447.45 2220.63a3.7 3.7 0 1 0 7.4 0a3.7 3.7 0 1 0 -7.4 0ZM448.01 2222.3a3.7 3.7 0 1 0 7.4 0a3.7 3.7 0 1 0 -7.4 0ZM448.58 2221.5a3.7 3.7 0 1 0 7.4 0a3.7 3.7 0 1 0 -7.4 0ZM449.14 2223.95a3.7 3.7 0 1 0 7.4 0a3.7 3.7 0 1 0 -7.4 0ZM449.71 2223.92a3.7 3.7 0 1 0 7.4 0a3.7 3.7 0 1 0 -7.4 0ZM450.27 2221.72a3.7 3.7 0 1 0 7.4 0a3.7 3.7 0 1 0 -7.4 0ZM450.83 2222.04a3.7 3.7 0 1 0 7.4 0a3.7 3.7 0 1 0 -7.4 0ZM451.4 2222.41a3.7 3.7 0 1 0 7.4 0a3.7 3.7 0 1 0 -7.4 0ZM451.96 2224.32a3.7 3.7 0 1 0 7.4 0a3.7 3.7 0 1 0 -7.4 0ZM452.53 2222.58a3.7 3.7 0 1 0 7.4 0a3.7 3.7 0 1 0 -7.4 0ZM453.09 2223.76a3.7 3.7 0 1 0 7.4 0a3.7 3.7 0 1 0 -7.4 0ZM453.66 2225.03a3.7 3.7 0 1 0 7.4 0a3.7 3.7 0 1 0 -7.4 0ZM454.22 2225.44a3.7 3.7 0 1 0 7.4 0a3.7 3.7 0 1 0 -7.4 0ZM454.78 2225.32a3.7 3.7 0 1 0 7.4 0a3.7 3.7 0 1 0 -7.4 0ZM455.35 2224.4a3.7 3.7 0 1 0 7.4 0a3.7 3.7 0 1 0 -7.4 0ZM455.91 2226.4a3.7 3.7 0 1 0 7.4 0a3.7 3.7 0 1 0 -7.4 0ZM456.48 2224.72a3.7 3.7 0 1 0 7.4 0a3.7 3.7 0 1 0 -7.4 0ZM457.04 2225.95a3.7 3.7 0 1 0 7.4 0a3.7 3.7 0 1 0 -7.4 0ZM457.61 2224.78a3.7 3.7 0 1 0 7.4 0a3.7 3.7 0 1 0 -7.4 0ZM458.17 2227.04a3.7 3.7 0 1 0 7.4 0a3.7 3.7 0 1 0 -7.4 0ZM458.73 2226.3a3.7 3.7 0 1 0 7.4 0a3.7 3.7 0 1 0 -7.4 0ZM459.3 2225.82a3.7 3.7 0 1 0 7.4 0a3.7 3.7 0 1 0 -7.4 0ZM459.86 2224.65a3.7 3.7 0 1 0 7.4 0a3.7 3.7 0 1 0 -7.4 0ZM460.43 2221.46a3.7 3.7 0 1 0 7.4 0a3.7 3.7 0 1 0 -7.4 0ZM460.99 2219.25a3.7 3.7 0 1 0 7.4 0a3.7 3.7 0 1 0 -7.4 0ZM461.56 2216.73a3.7 3.7 0 1 0 7.4 0a3.7 3.7 0 1 0 -7.4 0ZM462.12 2214.1a3.7 3.7 0 1 0 7.4 0a3.7 3.7 0 1 0 -7.4 0ZM462.68 2212.21a3.7 3.7 0 1 0 7.4 0a3.7 3.7 0 1 0 -7.4 0ZM463.25 2213.15a3.7 3.7 0 1 0 7.4 0a3.7 3.7 0 1 0 -7.4 0ZM463.81 2211.65a3.7 3.7 0 1 0 7.4 0a3.7 3.7 0 1 0 -7.4 0ZM464.38 2213.22a3.7 3.7 0 1 0 7.4 0a3.7 3.7 0 1 0 -7.4 0ZM464.94 2211.57a3.7 3.7 0 1 0 7.4 0a3.7 3.7 0 1 0 -7.4 0ZM465.5 2211.34a3.7 3.7 0 1 0 7.4 0a3.7 3.7 0 1 0 -7.4 0ZM466.07 2210.9a3.7 3.7 0 1 0 7.4 0a3.7 3.7 0 1 0 -7.4 0ZM466.63 2211.86a3.7 3.7 0 1 0 7.4 0a3.7 3.7 0 1 0 -7.4 0ZM467.2 2209.82a3.7 3.7 0 1 0 7.4 0a3.7 3.7 0 1 0 -7.4 0ZM467.76 2211.08a3.7 3.7 0 1 0 7.4 0a3.7 3.7 0 1 0 -7.4 0ZM468.33 2210a3.7 3.7 0 1 0 7.4 0a3.7 3.7 0 1 0 -7.4 0ZM468.89 2211.83a3.7 3.7 0 1 0 7.4 0a3.7 3.7 0 1 0 -7.4 0ZM469.45 2211.98a3.7 3.7 0 1 0 7.4 0a3.7 3.7 0 1 0 -7.4 0ZM470.02 2214.33a3.7 3.7 0 1 0 7.4 0a3.7 3.7 0 1 0 -7.4 0ZM470.58 2213.57a3.7 3.7 0 1 0 7.4 0a3.7 3.7 0 1 0 -7.4 0ZM471.15 2216.48a3.7 3.7 0 1 0 7.4 0a3.7 3.7 0 1 0 -7.4 0ZM471.71 2215.58a3.7 3.7 0 1 0 7.4 0a3.7 3.7 0 1 0 -7.4 0ZM472.28 2218.17a3.7 3.7 0 1 0 7.4 0a3.7 3.7 0 1 0 -7.4 0ZM472.84 2218.21a3.7 3.7 0 1 0 7.4 0a3.7 3.7 0 1 0 -7.4 0ZM473.4 2219.56a3.7 3.7 0 1 0 7.4 0a3.7 3.7 0 1 0 -7.4 0ZM473.97 2221.07a3.7 3.7 0 1 0 7.4 0a3.7 3.7 0 1 0 -7.4 0ZM474.53 2221.98a3.7 3.7 0 1 0 7.4 0a3.7 3.7 0 1 0 -7.4 0ZM475.1 2223.86a3.7 3.7 0 1 0 7.4 0a3.7 3.7 0 1 0 -7.4 0ZM475.66 2223.46a3.7 3.7 0 1 0 7.4 0a3.7 3.7 0 1 0 -7.4 0ZM476.23 2225.98a3.7 3.7 0 1 0 7.4 0a3.7 3.7 0 1 0 -7.4 0ZM476.79 2225.94a3.7 3.7 0 1 0 7.4 0a3.7 3.7 0 1 0 -7.4 0ZM477.35 2227.85a3.7 3.7 0 1 0 7.4 0a3.7 3.7 0 1 0 -7.4 0ZM477.92 2226.96a3.7 3.7 0 1 0 7.4 0a3.7 3.7 0 1 0 -7.4 0ZM478.48 2229.69a3.7 3.7 0 1 0 7.4 0a3.7 3.7 0 1 0 -7.4 0ZM479.05 2227.82a3.7 3.7 0 1 0 7.4 0a3.7 3.7 0 1 0 -7.4 0ZM479.61 2227.74a3.7 3.7 0 1 0 7.4 0a3.7 3.7 0 1 0 -7.4 0ZM480.18 2228.55a3.7 3.7 0 1 0 7.4 0a3.7 3.7 0 1 0 -7.4 0ZM480.74 2228.62a3.7 3.7 0 1 0 7.4 0a3.7 3.7 0 1 0 -7.4 0ZM481.3 2229.35a3.7 3.7 0 1 0 7.4 0a3.7 3.7 0 1 0 -7.4 0ZM481.87 2229.48a3.7 3.7 0 1 0 7.4 0a3.7 3.7 0 1 0 -7.4 0ZM482.43 2229.57a3.7 3.7 0 1 0 7.4 0a3.7 3.7 0 1 0 -7.4 0ZM483 2230.9a3.7 3.7 0 1 0 7.4 0a3.7 3.7 0 1 0 -7.4 0ZM483.56 2229.74a3.7 3.7 0 1 0 7.4 0a3.7 3.7 0 1 0 -7.4 0ZM484.12 2229.11a3.7 3.7 0 1 0 7.4 0a3.7 3.7 0 1 0 -7.4 0ZM484.69 2230.12a3.7 3.7 0 1 0 7.4 0a3.7 3.7 0 1 0 -7.4 0ZM485.25 2230.22a3.7 3.7 0 1 0 7.4 0a3.7 3.7 0 1 0 -7.4 0ZM485.82 2231.34a3.7 3.7 0 1 0 7.4 0a3.7 3.7 0 1 0 -7.4 0ZM486.38 2231.59a3.7 3.7 0 1 0 7.4 0a3.7 3.7 0 1 0 -7.4 0ZM486.95 2230.55a3.7 3.7 0 1 0 7.4 0a3.7 3.7 0 1 0 -7.4 0ZM487.51 2229.42a3.7 3.7 0 1 0 7.4 0a3.7 3.7 0 1 0 -7.4 0ZM488.07 2228.36a3.7 3.7 0 1 0 7.4 0a3.7 3.7 0 1 0 -7.4 0ZM488.64 2228.21a3.7 3.7 0 1 0 7.4 0a3.7 3.7 0 1 0 -7.4 0ZM489.2 2227.45a3.7 3.7 0 1 0 7.4 0a3.7 3.7 0 1 0 -7.4 0ZM489.77 2225.41a3.7 3.7 0 1 0 7.4 0a3.7 3.7 0 1 0 -7.4 0ZM490.33 2224.89a3.7 3.7 0 1 0 7.4 0a3.7 3.7 0 1 0 -7.4 0ZM490.9 2224.46a3.7 3.7 0 1 0 7.4 0a3.7 3.7 0 1 0 -7.4 0ZM491.46 2226.34a3.7 3.7 0 1 0 7.4 0a3.7 3.7 0 1 0 -7.4 0ZM492.02 2225.87a3.7 3.7 0 1 0 7.4 0a3.7 3.7 0 1 0 -7.4 0ZM492.59 2225.04a3.7 3.7 0 1 0 7.4 0a3.7 3.7 0 1 0 -7.4 0ZM493.15 2225.76a3.7 3.7 0 1 0 7.4 0a3.7 3.7 0 1 0 -7.4 0ZM493.72 2228.16a3.7 3.7 0 1 0 7.4 0a3.7 3.7 0 1 0 -7.4 0ZM494.28 2226.58a3.7 3.7 0 1 0 7.4 0a3.7 3.7 0 1 0 -7.4 0ZM494.85 2226.55a3.7 3.7 0 1 0 7.4 0a3.7 3.7 0 1 0 -7.4 0ZM495.41 2227.14a3.7 3.7 0 1 0 7.4 0a3.7 3.7 0 1 0 -7.4 0ZM495.97 2228.39a3.7 3.7 0 1 0 7.4 0a3.7 3.7 0 1 0 -7.4 0ZM496.54 2229.58a3.7 3.7 0 1 0 7.4 0a3.7 3.7 0 1 0 -7.4 0ZM497.1 2229.11a3.7 3.7 0 1 0 7.4 0a3.7 3.7 0 1 0 -7.4 0ZM497.67 2230.79a3.7 3.7 0 1 0 7.4 0a3.7 3.7 0 1 0 -7.4 0ZM498.23 2230.77a3.7 3.7 0 1 0 7.4 0a3.7 3.7 0 1 0 -7.4 0ZM498.8 2229.64a3.7 3.7 0 1 0 7.4 0a3.7 3.7 0 1 0 -7.4 0ZM499.36 2231.4a3.7 3.7 0 1 0 7.4 0a3.7 3.7 0 1 0 -7.4 0ZM499.92 2231.88a3.7 3.7 0 1 0 7.4 0a3.7 3.7 0 1 0 -7.4 0ZM500.49 2230.74a3.7 3.7 0 1 0 7.4 0a3.7 3.7 0 1 0 -7.4 0ZM501.05 2230.4a3.7 3.7 0 1 0 7.4 0a3.7 3.7 0 1 0 -7.4 0ZM501.62 2231.55a3.7 3.7 0 1 0 7.4 0a3.7 3.7 0 1 0 -7.4 0ZM502.18 2233.22a3.7 3.7 0 1 0 7.4 0a3.7 3.7 0 1 0 -7.4 0ZM502.75 2232.07a3.7 3.7 0 1 0 7.4 0a3.7 3.7 0 1 0 -7.4 0ZM503.31 2231.92a3.7 3.7 0 1 0 7.4 0a3.7 3.7 0 1 0 -7.4 0ZM503.87 2231.7a3.7 3.7 0 1 0 7.4 0a3.7 3.7 0 1 0 -7.4 0ZM504.44 2232.83a3.7 3.7 0 1 0 7.4 0a3.7 3.7 0 1 0 -7.4 0ZM505 2231.96a3.7 3.7 0 1 0 7.4 0a3.7 3.7 0 1 0 -7.4 0ZM505.57 2230.46a3.7 3.7 0 1 0 7.4 0a3.7 3.7 0 1 0 -7.4 0ZM506.13 2229.61a3.7 3.7 0 1 0 7.4 0a3.7 3.7 0 1 0 -7.4 0ZM506.69 2229.47a3.7 3.7 0 1 0 7.4 0a3.7 3.7 0 1 0 -7.4 0ZM507.26 2228.97a3.7 3.7 0 1 0 7.4 0a3.7 3.7 0 1 0 -7.4 0ZM507.82 2229.1a3.7 3.7 0 1 0 7.4 0a3.7 3.7 0 1 0 -7.4 0ZM508.39 2229.24a3.7 3.7 0 1 0 7.4 0a3.7 3.7 0 1 0 -7.4 0ZM508.95 2227.93a3.7 3.7 0 1 0 7.4 0a3.7 3.7 0 1 0 -7.4 0ZM509.52 2228.54a3.7 3.7 0 1 0 7.4 0a3.7 3.7 0 1 0 -7.4 0ZM510.08 2229.94a3.7 3.7 0 1 0 7.4 0a3.7 3.7 0 1 0 -7.4 0ZM510.64 2228.8a3.7 3.7 0 1 0 7.4 0a3.7 3.7 0 1 0 -7.4 0ZM511.21 2230.96a3.7 3.7 0 1 0 7.4 0a3.7 3.7 0 1 0 -7.4 0ZM511.77 2230.99a3.7 3.7 0 1 0 7.4 0a3.7 3.7 0 1 0 -7.4 0ZM512.34 2230.99a3.7 3.7 0 1 0 7.4 0a3.7 3.7 0 1 0 -7.4 0ZM512.9 2230.29a3.7 3.7 0 1 0 7.4 0a3.7 3.7 0 1 0 -7.4 0ZM513.47 2230.52a3.7 3.7 0 1 0 7.4 0a3.7 3.7 0 1 0 -7.4 0ZM514.03 2232.22a3.7 3.7 0 1 0 7.4 0a3.7 3.7 0 1 0 -7.4 0ZM514.59 2232.24a3.7 3.7 0 1 0 7.4 0a3.7 3.7 0 1 0 -7.4 0ZM515.16 2232.83a3.7 3.7 0 1 0 7.4 0a3.7 3.7 0 1 0 -7.4 0ZM515.72 2230.82a3.7 3.7 0 1 0 7.4 0a3.7 3.7 0 1 0 -7.4 0ZM516.29 2232.32a3.7 3.7 0 1 0 7.4 0a3.7 3.7 0 1 0 -7.4 0ZM516.85 2233.59a3.7 3.7 0 1 0 7.4 0a3.7 3.7 0 1 0 -7.4 0ZM517.42 2232.21a3.7 3.7 0 1 0 7.4 0a3.7 3.7 0 1 0 -7.4 0ZM517.98 2232.15a3.7 3.7 0 1 0 7.4 0a3.7 3.7 0 1 0 -7.4 0ZM518.54 2231.5a3.7 3.7 0 1 0 7.4 0a3.7 3.7 0 1 0 -7.4 0ZM519.11 2233.61a3.7 3.7 0 1 0 7.4 0a3.7 3.7 0 1 0 -7.4 0ZM519.67 2234.36a3.7 3.7 0 1 0 7.4 0a3.7 3.7 0 1 0 -7.4 0ZM520.24 2233.51a3.7 3.7 0 1 0 7.4 0a3.7 3.7 0 1 0 -7.4 0ZM520.8 2234.66a3.7 3.7 0 1 0 7.4 0a3.7 3.7 0 1 0 -7.4 0ZM521.37 2234.97a3.7 3.7 0 1 0 7.4 0a3.7 3.7 0 1 0 -7.4 0ZM521.93 2232.53a3.7 3.7 0 1 0 7.4 0a3.7 3.7 0 1 0 -7.4 0ZM522.49 2234.79a3.7 3.7 0 1 0 7.4 0a3.7 3.7 0 1 0 -7.4 0ZM523.06 2234.09a3.7 3.7 0 1 0 7.4 0a3.7 3.7 0 1 0 -7.4 0ZM523.62 2233.4a3.7 3.7 0 1 0 7.4 0a3.7 3.7 0 1 0 -7.4 0ZM524.19 2234.99a3.7 3.7 0 1 0 7.4 0a3.7 3.7 0 1 0 -7.4 0ZM524.75 2235.9a3.7 3.7 0 1 0 7.4 0a3.7 3.7 0 1 0 -7.4 0ZM525.32 2234.01a3.7 3.7 0 1 0 7.4 0a3.7 3.7 0 1 0 -7.4 0ZM525.88 2236.29a3.7 3.7 0 1 0 7.4 0a3.7 3.7 0 1 0 -7.4 0ZM526.44 2234.31a3.7 3.7 0 1 0 7.4 0a3.7 3.7 0 1 0 -7.4 0ZM527.01 2234.42a3.7 3.7 0 1 0 7.4 0a3.7 3.7 0 1 0 -7.4 0ZM527.57 2235.97a3.7 3.7 0 1 0 7.4 0a3.7 3.7 0 1 0 -7.4 0ZM528.14 2236.05a3.7 3.7 0 1 0 7.4 0a3.7 3.7 0 1 0 -7.4 0ZM528.7 2235.86a3.7 3.7 0 1 0 7.4 0a3.7 3.7 0 1 0 -7.4 0ZM529.26 2234.95a3.7 3.7 0 1 0 7.4 0a3.7 3.7 0 1 0 -7.4 0ZM529.83 2235a3.7 3.7 0 1 0 7.4 0a3.7 3.7 0 1 0 -7.4 0ZM530.39 2235.54a3.7 3.7 0 1 0 7.4 0a3.7 3.7 0 1 0 -7.4 0ZM530.96 2234.98a3.7 3.7 0 1 0 7.4 0a3.7 3.7 0 1 0 -7.4 0ZM531.52 2236.55a3.7 3.7 0 1 0 7.4 0a3.7 3.7 0 1 0 -7.4 0ZM532.09 2234.68a3.7 3.7 0 1 0 7.4 0a3.7 3.7 0 1 0 -7.4 0ZM532.65 2235.02a3.7 3.7 0 1 0 7.4 0a3.7 3.7 0 1 0 -7.4 0ZM533.21 2236.86a3.7 3.7 0 1 0 7.4 0a3.7 3.7 0 1 0 -7.4 0ZM533.78 2235.6a3.7 3.7 0 1 0 7.4 0a3.7 3.7 0 1 0 -7.4 0ZM534.34 2235.69a3.7 3.7 0 1 0 7.4 0a3.7 3.7 0 1 0 -7.4 0ZM534.91 2235.41a3.7 3.7 0 1 0 7.4 0a3.7 3.7 0 1 0 -7.4 0ZM535.47 2237.31a3.7 3.7 0 1 0 7.4 0a3.7 3.7 0 1 0 -7.4 0ZM536.04 2236.31a3.7 3.7 0 1 0 7.4 0a3.7 3.7 0 1 0 -7.4 0ZM536.6 2236.22a3.7 3.7 0 1 0 7.4 0a3.7 3.7 0 1 0 -7.4 0ZM537.16 2236.78a3.7 3.7 0 1 0 7.4 0a3.7 3.7 0 1 0 -7.4 0ZM537.73 2236.15a3.7 3.7 0 1 0 7.4 0a3.7 3.7 0 1 0 -7.4 0ZM538.29 2236.89a3.7 3.7 0 1 0 7.4 0a3.7 3.7 0 1 0 -7.4 0ZM538.86 2236.52a3.7 3.7 0 1 0 7.4 0a3.7 3.7 0 1 0 -7.4 0ZM539.42 2237.54a3.7 3.7 0 1 0 7.4 0a3.7 3.7 0 1 0 -7.4 0ZM539.99 2237.92a3.7 3.7 0 1 0 7.4 0a3.7 3.7 0 1 0 -7.4 0ZM540.55 2237.74a3.7 3.7 0 1 0 7.4 0a3.7 3.7 0 1 0 -7.4 0ZM541.11 2237.86a3.7 3.7 0 1 0 7.4 0a3.7 3.7 0 1 0 -7.4 0ZM541.68 2237.2a3.7 3.7 0 1 0 7.4 0a3.7 3.7 0 1 0 -7.4 0ZM542.24 2238.1a3.7 3.7 0 1 0 7.4 0a3.7 3.7 0 1 0 -7.4 0ZM542.81 2236.24a3.7 3.7 0 1 0 7.4 0a3.7 3.7 0 1 0 -7.4 0ZM543.37 2236.23a3.7 3.7 0 1 0 7.4 0a3.7 3.7 0 1 0 -7.4 0ZM543.94 2238.02a3.7 3.7 0 1 0 7.4 0a3.7 3.7 0 1 0 -7.4 0ZM544.5 2237.19a3.7 3.7 0 1 0 7.4 0a3.7 3.7 0 1 0 -7.4 0ZM545.06 2235.91a3.7 3.7 0 1 0 7.4 0a3.7 3.7 0 1 0 -7.4 0ZM545.63 2238.04a3.7 3.7 0 1 0 7.4 0a3.7 3.7 0 1 0 -7.4 0ZM546.19 2235.66a3.7 3.7 0 1 0 7.4 0a3.7 3.7 0 1 0 -7.4 0ZM546.76 2237.94a3.7 3.7 0 1 0 7.4 0a3.7 3.7 0 1 0 -7.4 0ZM547.32 2237.36a3.7 3.7 0 1 0 7.4 0a3.7 3.7 0 1 0 -7.4 0ZM547.89 2234.73a3.7 3.7 0 1 0 7.4 0a3.7 3.7 0 1 0 -7.4 0ZM548.45 2234.77a3.7 3.7 0 1 0 7.4 0a3.7 3.7 0 1 0 -7.4 0ZM549.01 2234.21a3.7 3.7 0 1 0 7.4 0a3.7 3.7 0 1 0 -7.4 0ZM549.58 2235.15a3.7 3.7 0 1 0 7.4 0a3.7 3.7 0 1 0 -7.4 0ZM550.14 2232.57a3.7 3.7 0 1 0 7.4 0a3.7 3.7 0 1 0 -7.4 0ZM550.71 2233.07a3.7 3.7 0 1 0 7.4 0a3.7 3.7 0 1 0 -7.4 0ZM551.27 2233.18a3.7 3.7 0 1 0 7.4 0a3.7 3.7 0 1 0 -7.4 0ZM551.84 2231.72a3.7 3.7 0 1 0 7.4 0a3.7 3.7 0 1 0 -7.4 0ZM552.4 2230.75a3.7 3.7 0 1 0 7.4 0a3.7 3.7 0 1 0 -7.4 0ZM552.96 2228.34a3.7 3.7 0 1 0 7.4 0a3.7 3.7 0 1 0 -7.4 0ZM553.53 2229.01a3.7 3.7 0 1 0 7.4 0a3.7 3.7 0 1 0 -7.4 0ZM554.09 2231.68a3.7 3.7 0 1 0 7.4 0a3.7 3.7 0 1 0 -7.4 0ZM554.66 2230.89a3.7 3.7 0 1 0 7.4 0a3.7 3.7 0 1 0 -7.4 0ZM555.22 2231.5a3.7 3.7 0 1 0 7.4 0a3.7 3.7 0 1 0 -7.4 0ZM555.78 2231.32a3.7 3.7 0 1 0 7.4 0a3.7 3.7 0 1 0 -7.4 0ZM556.35 2230.76a3.7 3.7 0 1 0 7.4 0a3.7 3.7 0 1 0 -7.4 0ZM556.91 2231.23a3.7 3.7 0 1 0 7.4 0a3.7 3.7 0 1 0 -7.4 0ZM557.48 2233.89a3.7 3.7 0 1 0 7.4 0a3.7 3.7 0 1 0 -7.4 0ZM558.04 2232.11a3.7 3.7 0 1 0 7.4 0a3.7 3.7 0 1 0 -7.4 0ZM558.61 2234.59a3.7 3.7 0 1 0 7.4 0a3.7 3.7 0 1 0 -7.4 0ZM559.17 2233.58a3.7 3.7 0 1 0 7.4 0a3.7 3.7 0 1 0 -7.4 0ZM559.73 2234.33a3.7 3.7 0 1 0 7.4 0a3.7 3.7 0 1 0 -7.4 0ZM560.3 2233.77a3.7 3.7 0 1 0 7.4 0a3.7 3.7 0 1 0 -7.4 0ZM560.86 2233.9a3.7 3.7 0 1 0 7.4 0a3.7 3.7 0 1 0 -7.4 0ZM561.43 2233.73a3.7 3.7 0 1 0 7.4 0a3.7 3.7 0 1 0 -7.4 0ZM561.99 2232.45a3.7 3.7 0 1 0 7.4 0a3.7 3.7 0 1 0 -7.4 0ZM562.56 2234a3.7 3.7 0 1 0 7.4 0a3.7 3.7 0 1 0 -7.4 0ZM563.12 2233.97a3.7 3.7 0 1 0 7.4 0a3.7 3.7 0 1 0 -7.4 0ZM563.68 2232.13a3.7 3.7 0 1 0 7.4 0a3.7 3.7 0 1 0 -7.4 0ZM564.25 2232.21a3.7 3.7 0 1 0 7.4 0a3.7 3.7 0 1 0 -7.4 0ZM564.81 2232.74a3.7 3.7 0 1 0 7.4 0a3.7 3.7 0 1 0 -7.4 0ZM565.38 2231.26a3.7 3.7 0 1 0 7.4 0a3.7 3.7 0 1 0 -7.4 0ZM565.94 2231.16a3.7 3.7 0 1 0 7.4 0a3.7 3.7 0 1 0 -7.4 0ZM566.51 2232.97a3.7 3.7 0 1 0 7.4 0a3.7 3.7 0 1 0 -7.4 0ZM567.07 2230.9a3.7 3.7 0 1 0 7.4 0a3.7 3.7 0 1 0 -7.4 0ZM567.63 2232.26a3.7 3.7 0 1 0 7.4 0a3.7 3.7 0 1 0 -7.4 0ZM568.2 2232.56a3.7 3.7 0 1 0 7.4 0a3.7 3.7 0 1 0 -7.4 0ZM568.76 2231.62a3.7 3.7 0 1 0 7.4 0a3.7 3.7 0 1 0 -7.4 0ZM569.33 2230.88a3.7 3.7 0 1 0 7.4 0a3.7 3.7 0 1 0 -7.4 0ZM569.89 2231.91a3.7 3.7 0 1 0 7.4 0a3.7 3.7 0 1 0 -7.4 0ZM570.46 2232.35a3.7 3.7 0 1 0 7.4 0a3.7 3.7 0 1 0 -7.4 0ZM571.02 2230.81a3.7 3.7 0 1 0 7.4 0a3.7 3.7 0 1 0 -7.4 0ZM571.58 2232.09a3.7 3.7 0 1 0 7.4 0a3.7 3.7 0 1 0 -7.4 0ZM572.15 2230.28a3.7 3.7 0 1 0 7.4 0a3.7 3.7 0 1 0 -7.4 0ZM572.71 2231.74a3.7 3.7 0 1 0 7.4 0a3.7 3.7 0 1 0 -7.4 0ZM573.28 2229.25a3.7 3.7 0 1 0 7.4 0a3.7 3.7 0 1 0 -7.4 0ZM573.84 2230.84a3.7 3.7 0 1 0 7.4 0a3.7 3.7 0 1 0 -7.4 0ZM574.4 2229.03a3.7 3.7 0 1 0 7.4 0a3.7 3.7 0 1 0 -7.4 0ZM574.97 2230.22a3.7 3.7 0 1 0 7.4 0a3.7 3.7 0 1 0 -7.4 0ZM575.53 2229.59a3.7 3.7 0 1 0 7.4 0a3.7 3.7 0 1 0 -7.4 0ZM576.1 2228.46a3.7 3.7 0 1 0 7.4 0a3.7 3.7 0 1 0 -7.4 0ZM576.66 2228.64a3.7 3.7 0 1 0 7.4 0a3.7 3.7 0 1 0 -7.4 0ZM577.23 2226.46a3.7 3.7 0 1 0 7.4 0a3.7 3.7 0 1 0 -7.4 0ZM577.79 2228.56a3.7 3.7 0 1 0 7.4 0a3.7 3.7 0 1 0 -7.4 0ZM578.35 2228.2a3.7 3.7 0 1 0 7.4 0a3.7 3.7 0 1 0 -7.4 0ZM578.92 2225.35a3.7 3.7 0 1 0 7.4 0a3.7 3.7 0 1 0 -7.4 0ZM579.48 2225.7a3.7 3.7 0 1 0 7.4 0a3.7 3.7 0 1 0 -7.4 0ZM580.05 2226.85a3.7 3.7 0 1 0 7.4 0a3.7 3.7 0 1 0 -7.4 0ZM580.61 2226.74a3.7 3.7 0 1 0 7.4 0a3.7 3.7 0 1 0 -7.4 0ZM581.18 2225.58a3.7 3.7 0 1 0 7.4 0a3.7 3.7 0 1 0 -7.4 0ZM581.74 2225.2a3.7 3.7 0 1 0 7.4 0a3.7 3.7 0 1 0 -7.4 0ZM582.3 2224.01a3.7 3.7 0 1 0 7.4 0a3.7 3.7 0 1 0 -7.4 0ZM582.87 2223.83a3.7 3.7 0 1 0 7.4 0a3.7 3.7 0 1 0 -7.4 0ZM583.43 2224.86a3.7 3.7 0 1 0 7.4 0a3.7 3.7 0 1 0 -7.4 0ZM584 2223.76a3.7 3.7 0 1 0 7.4 0a3.7 3.7 0 1 0 -7.4 0ZM584.56 2221.99a3.7 3.7 0 1 0 7.4 0a3.7 3.7 0 1 0 -7.4 0ZM585.13 2222.57a3.7 3.7 0 1 0 7.4 0a3.7 3.7 0 1 0 -7.4 0ZM585.69 2222.65a3.7 3.7 0 1 0 7.4 0a3.7 3.7 0 1 0 -7.4 0ZM586.25 2221.45a3.7 3.7 0 1 0 7.4 0a3.7 3.7 0 1 0 -7.4 0ZM586.82 2220.95a3.7 3.7 0 1 0 7.4 0a3.7 3.7 0 1 0 -7.4 0ZM587.38 2220.37a3.7 3.7 0 1 0 7.4 0a3.7 3.7 0 1 0 -7.4 0ZM587.95 2220.77a3.7 3.7 0 1 0 7.4 0a3.7 3.7 0 1 0 -7.4 0ZM588.51 2221.5a3.7 3.7 0 1 0 7.4 0a3.7 3.7 0 1 0 -7.4 0ZM589.08 2221.91a3.7 3.7 0 1 0 7.4 0a3.7 3.7 0 1 0 -7.4 0ZM589.64 2219.79a3.7 3.7 0 1 0 7.4 0a3.7 3.7 0 1 0 -7.4 0ZM590.2 2220.02a3.7 3.7 0 1 0 7.4 0a3.7 3.7 0 1 0 -7.4 0ZM590.77 2220.4a3.7 3.7 0 1 0 7.4 0a3.7 3.7 0 1 0 -7.4 0ZM591.33 2219.65a3.7 3.7 0 1 0 7.4 0a3.7 3.7 0 1 0 -7.4 0ZM591.9 2219.31a3.7 3.7 0 1 0 7.4 0a3.7 3.7 0 1 0 -7.4 0ZM592.46 2221.22a3.7 3.7 0 1 0 7.4 0a3.7 3.7 0 1 0 -7.4 0ZM593.03 2220.07a3.7 3.7 0 1 0 7.4 0a3.7 3.7 0 1 0 -7.4 0ZM593.59 2221.41a3.7 3.7 0 1 0 7.4 0a3.7 3.7 0 1 0 -7.4 0ZM594.15 2223.21a3.7 3.7 0 1 0 7.4 0a3.7 3.7 0 1 0 -7.4 0ZM594.72 2223.39a3.7 3.7 0 1 0 7.4 0a3.7 3.7 0 1 0 -7.4 0ZM595.28 2221.72a3.7 3.7 0 1 0 7.4 0a3.7 3.7 0 1 0 -7.4 0ZM595.85 2224.61a3.7 3.7 0 1 0 7.4 0a3.7 3.7 0 1 0 -7.4 0ZM596.41 2223.9a3.7 3.7 0 1 0 7.4 0a3.7 3.7 0 1 0 -7.4 0ZM596.97 2224.01a3.7 3.7 0 1 0 7.4 0a3.7 3.7 0 1 0 -7.4 0ZM597.54 2223.15a3.7 3.7 0 1 0 7.4 0a3.7 3.7 0 1 0 -7.4 0ZM598.1 2224.35a3.7 3.7 0 1 0 7.4 0a3.7 3.7 0 1 0 -7.4 0ZM598.67 2224.94a3.7 3.7 0 1 0 7.4 0a3.7 3.7 0 1 0 -7.4 0ZM599.23 2224.45a3.7 3.7 0 1 0 7.4 0a3.7 3.7 0 1 0 -7.4 0ZM599.8 2225.24a3.7 3.7 0 1 0 7.4 0a3.7 3.7 0 1 0 -7.4 0ZM600.36 2224.61a3.7 3.7 0 1 0 7.4 0a3.7 3.7 0 1 0 -7.4 0ZM600.92 2224.86a3.7 3.7 0 1 0 7.4 0a3.7 3.7 0 1 0 -7.4 0ZM601.49 2225.62a3.7 3.7 0 1 0 7.4 0a3.7 3.7 0 1 0 -7.4 0ZM602.05 2224.5a3.7 3.7 0 1 0 7.4 0a3.7 3.7 0 1 0 -7.4 0ZM602.62 2224.72a3.7 3.7 0 1 0 7.4 0a3.7 3.7 0 1 0 -7.4 0ZM603.18 2225.11a3.7 3.7 0 1 0 7.4 0a3.7 3.7 0 1 0 -7.4 0ZM603.75 2223.29a3.7 3.7 0 1 0 7.4 0a3.7 3.7 0 1 0 -7.4 0ZM604.31 2225.52a3.7 3.7 0 1 0 7.4 0a3.7 3.7 0 1 0 -7.4 0ZM604.87 2225.23a3.7 3.7 0 1 0 7.4 0a3.7 3.7 0 1 0 -7.4 0ZM605.44 2226.17a3.7 3.7 0 1 0 7.4 0a3.7 3.7 0 1 0 -7.4 0ZM606 2224.46a3.7 3.7 0 1 0 7.4 0a3.7 3.7 0 1 0 -7.4 0ZM606.57 2225.61a3.7 3.7 0 1 0 7.4 0a3.7 3.7 0 1 0 -7.4 0ZM607.13 2226.49a3.7 3.7 0 1 0 7.4 0a3.7 3.7 0 1 0 -7.4 0ZM607.7 2226.34a3.7 3.7 0 1 0 7.4 0a3.7 3.7 0 1 0 -7.4 0ZM608.26 2225.23a3.7 3.7 0 1 0 7.4 0a3.7 3.7 0 1 0 -7.4 0ZM608.82 2226.41a3.7 3.7 0 1 0 7.4 0a3.7 3.7 0 1 0 -7.4 0ZM609.39 2226.38a3.7 3.7 0 1 0 7.4 0a3.7 3.7 0 1 0 -7.4 0ZM609.95 2225.48a3.7 3.7 0 1 0 7.4 0a3.7 3.7 0 1 0 -7.4 0ZM610.52 2225.34a3.7 3.7 0 1 0 7.4 0a3.7 3.7 0 1 0 -7.4 0ZM611.08 2226.57a3.7 3.7 0 1 0 7.4 0a3.7 3.7 0 1 0 -7.4 0ZM611.65 2226.34a3.7 3.7 0 1 0 7.4 0a3.7 3.7 0 1 0 -7.4 0ZM612.21 2227.43a3.7 3.7 0 1 0 7.4 0a3.7 3.7 0 1 0 -7.4 0ZM612.77 2226.55a3.7 3.7 0 1 0 7.4 0a3.7 3.7 0 1 0 -7.4 0ZM613.34 2226.39a3.7 3.7 0 1 0 7.4 0a3.7 3.7 0 1 0 -7.4 0ZM613.9 2225.94a3.7 3.7 0 1 0 7.4 0a3.7 3.7 0 1 0 -7.4 0ZM614.47 2225.19a3.7 3.7 0 1 0 7.4 0a3.7 3.7 0 1 0 -7.4 0ZM615.03 2224.34a3.7 3.7 0 1 0 7.4 0a3.7 3.7 0 1 0 -7.4 0ZM615.6 2226.69a3.7 3.7 0 1 0 7.4 0a3.7 3.7 0 1 0 -7.4 0ZM616.16 2224.21a3.7 3.7 0 1 0 7.4 0a3.7 3.7 0 1 0 -7.4 0ZM616.72 2226.26a3.7 3.7 0 1 0 7.4 0a3.7 3.7 0 1 0 -7.4 0ZM617.29 2224.78a3.7 3.7 0 1 0 7.4 0a3.7 3.7 0 1 0 -7.4 0ZM617.85 2226.43a3.7 3.7 0 1 0 7.4 0a3.7 3.7 0 1 0 -7.4 0ZM618.42 2224.52a3.7 3.7 0 1 0 7.4 0a3.7 3.7 0 1 0 -7.4 0ZM618.98 2226.09a3.7 3.7 0 1 0 7.4 0a3.7 3.7 0 1 0 -7.4 0ZM619.54 2225.72a3.7 3.7 0 1 0 7.4 0a3.7 3.7 0 1 0 -7.4 0ZM620.11 2225.41a3.7 3.7 0 1 0 7.4 0a3.7 3.7 0 1 0 -7.4 0ZM620.67 2223.85a3.7 3.7 0 1 0 7.4 0a3.7 3.7 0 1 0 -7.4 0ZM621.24 2225.93a3.7 3.7 0 1 0 7.4 0a3.7 3.7 0 1 0 -7.4 0ZM621.8 2224.7a3.7 3.7 0 1 0 7.4 0a3.7 3.7 0 1 0 -7.4 0ZM622.37 2224.54a3.7 3.7 0 1 0 7.4 0a3.7 3.7 0 1 0 -7.4 0ZM622.93 2224.22a3.7 3.7 0 1 0 7.4 0a3.7 3.7 0 1 0 -7.4 0ZM623.49 2225.89a3.7 3.7 0 1 0 7.4 0a3.7 3.7 0 1 0 -7.4 0ZM624.06 2224.96a3.7 3.7 0 1 0 7.4 0a3.7 3.7 0 1 0 -7.4 0ZM624.62 2225.22a3.7 3.7 0 1 0 7.4 0a3.7 3.7 0 1 0 -7.4 0ZM625.19 2224.91a3.7 3.7 0 1 0 7.4 0a3.7 3.7 0 1 0 -7.4 0ZM625.75 2225.82a3.7 3.7 0 1 0 7.4 0a3.7 3.7 0 1 0 -7.4 0ZM626.32 2225.1a3.7 3.7 0 1 0 7.4 0a3.7 3.7 0 1 0 -7.4 0ZM626.88 2225.18a3.7 3.7 0 1 0 7.4 0a3.7 3.7 0 1 0 -7.4 0ZM627.44 2225.12a3.7 3.7 0 1 0 7.4 0a3.7 3.7 0 1 0 -7.4 0ZM628.01 2224.99a3.7 3.7 0 1 0 7.4 0a3.7 3.7 0 1 0 -7.4 0ZM628.57 2226.5a3.7 3.7 0 1 0 7.4 0a3.7 3.7 0 1 0 -7.4 0ZM629.14 2225.21a3.7 3.7 0 1 0 7.4 0a3.7 3.7 0 1 0 -7.4 0ZM629.7 2224.67a3.7 3.7 0 1 0 7.4 0a3.7 3.7 0 1 0 -7.4 0ZM630.27 2225.49a3.7 3.7 0 1 0 7.4 0a3.7 3.7 0 1 0 -7.4 0ZM630.83 2223.85a3.7 3.7 0 1 0 7.4 0a3.7 3.7 0 1 0 -7.4 0ZM631.39 2224.77a3.7 3.7 0 1 0 7.4 0a3.7 3.7 0 1 0 -7.4 0ZM631.96 2226.49a3.7 3.7 0 1 0 7.4 0a3.7 3.7 0 1 0 -7.4 0ZM632.52 2224.66a3.7 3.7 0 1 0 7.4 0a3.7 3.7 0 1 0 -7.4 0ZM633.09 2225.66a3.7 3.7 0 1 0 7.4 0a3.7 3.7 0 1 0 -7.4 0ZM633.65 2225.16a3.7 3.7 0 1 0 7.4 0a3.7 3.7 0 1 0 -7.4 0ZM634.22 2224.08a3.7 3.7 0 1 0 7.4 0a3.7 3.7 0 1 0 -7.4 0ZM634.78 2224.59a3.7 3.7 0 1 0 7.4 0a3.7 3.7 0 1 0 -7.4 0ZM635.34 2225.67a3.7 3.7 0 1 0 7.4 0a3.7 3.7 0 1 0 -7.4 0ZM635.91 2225.6a3.7 3.7 0 1 0 7.4 0a3.7 3.7 0 1 0 -7.4 0ZM636.47 2225.16a3.7 3.7 0 1 0 7.4 0a3.7 3.7 0 1 0 -7.4 0ZM637.04 2226.06a3.7 3.7 0 1 0 7.4 0a3.7 3.7 0 1 0 -7.4 0ZM637.6 2225.47a3.7 3.7 0 1 0 7.4 0a3.7 3.7 0 1 0 -7.4 0ZM638.17 2224.34a3.7 3.7 0 1 0 7.4 0a3.7 3.7 0 1 0 -7.4 0ZM638.73 2224.35a3.7 3.7 0 1 0 7.4 0a3.7 3.7 0 1 0 -7.4 0ZM639.29 2225.39a3.7 3.7 0 1 0 7.4 0a3.7 3.7 0 1 0 -7.4 0ZM639.86 2225.52a3.7 3.7 0 1 0 7.4 0a3.7 3.7 0 1 0 -7.4 0ZM640.42 2225.24a3.7 3.7 0 1 0 7.4 0a3.7 3.7 0 1 0 -7.4 0ZM640.99 2226.29a3.7 3.7 0 1 0 7.4 0a3.7 3.7 0 1 0 -7.4 0ZM641.55 2226.51a3.7 3.7 0 1 0 7.4 0a3.7 3.7 0 1 0 -7.4 0ZM642.12 2225.71a3.7 3.7 0 1 0 7.4 0a3.7 3.7 0 1 0 -7.4 0ZM642.68 2227.51a3.7 3.7 0 1 0 7.4 0a3.7 3.7 0 1 0 -7.4 0ZM643.24 2225.27a3.7 3.7 0 1 0 7.4 0a3.7 3.7 0 1 0 -7.4 0ZM643.81 2227.76a3.7 3.7 0 1 0 7.4 0a3.7 3.7 0 1 0 -7.4 0ZM644.37 2228.02a3.7 3.7 0 1 0 7.4 0a3.7 3.7 0 1 0 -7.4 0ZM644.94 2225.71a3.7 3.7 0 1 0 7.4 0a3.7 3.7 0 1 0 -7.4 0ZM645.5 2226.5a3.7 3.7 0 1 0 7.4 0a3.7 3.7 0 1 0 -7.4 0ZM646.06 2226.01a3.7 3.7 0 1 0 7.4 0a3.7 3.7 0 1 0 -7.4 0ZM646.63 2226.88a3.7 3.7 0 1 0 7.4 0a3.7 3.7 0 1 0 -7.4 0ZM647.19 2226.82a3.7 3.7 0 1 0 7.4 0a3.7 3.7 0 1 0 -7.4 0ZM647.76 2226.99a3.7 3.7 0 1 0 7.4 0a3.7 3.7 0 1 0 -7.4 0ZM648.32 2227.16a3.7 3.7 0 1 0 7.4 0a3.7 3.7 0 1 0 -7.4 0ZM648.89 2227.06a3.7 3.7 0 1 0 7.4 0a3.7 3.7 0 1 0 -7.4 0ZM649.45 2228.65a3.7 3.7 0 1 0 7.4 0a3.7 3.7 0 1 0 -7.4 0ZM650.01 2227.3a3.7 3.7 0 1 0 7.4 0a3.7 3.7 0 1 0 -7.4 0ZM650.58 2227.73a3.7 3.7 0 1 0 7.4 0a3.7 3.7 0 1 0 -7.4 0ZM651.14 2227.45a3.7 3.7 0 1 0 7.4 0a3.7 3.7 0 1 0 -7.4 0ZM651.71 2228.24a3.7 3.7 0 1 0 7.4 0a3.7 3.7 0 1 0 -7.4 0ZM652.27 2229.03a3.7 3.7 0 1 0 7.4 0a3.7 3.7 0 1 0 -7.4 0ZM652.84 2229.13a3.7 3.7 0 1 0 7.4 0a3.7 3.7 0 1 0 -7.4 0ZM653.4 2228.46a3.7 3.7 0 1 0 7.4 0a3.7 3.7 0 1 0 -7.4 0ZM653.96 2230.06a3.7 3.7 0 1 0 7.4 0a3.7 3.7 0 1 0 -7.4 0ZM654.53 2230.24a3.7 3.7 0 1 0 7.4 0a3.7 3.7 0 1 0 -7.4 0ZM655.09 2228.45a3.7 3.7 0 1 0 7.4 0a3.7 3.7 0 1 0 -7.4 0ZM655.66 2228.32a3.7 3.7 0 1 0 7.4 0a3.7 3.7 0 1 0 -7.4 0ZM656.22 2230.72a3.7 3.7 0 1 0 7.4 0a3.7 3.7 0 1 0 -7.4 0ZM656.79 2229.42a3.7 3.7 0 1 0 7.4 0a3.7 3.7 0 1 0 -7.4 0ZM657.35 2228.58a3.7 3.7 0 1 0 7.4 0a3.7 3.7 0 1 0 -7.4 0ZM657.91 2230.14a3.7 3.7 0 1 0 7.4 0a3.7 3.7 0 1 0 -7.4 0ZM658.48 2229.7a3.7 3.7 0 1 0 7.4 0a3.7 3.7 0 1 0 -7.4 0ZM659.04 2231.07a3.7 3.7 0 1 0 7.4 0a3.7 3.7 0 1 0 -7.4 0ZM659.61 2231.58a3.7 3.7 0 1 0 7.4 0a3.7 3.7 0 1 0 -7.4 0ZM660.17 2231.43a3.7 3.7 0 1 0 7.4 0a3.7 3.7 0 1 0 -7.4 0ZM660.74 2231.65a3.7 3.7 0 1 0 7.4 0a3.7 3.7 0 1 0 -7.4 0ZM661.3 2231.68a3.7 3.7 0 1 0 7.4 0a3.7 3.7 0 1 0 -7.4 0ZM661.86 2230.35a3.7 3.7 0 1 0 7.4 0a3.7 3.7 0 1 0 -7.4 0ZM662.43 2230.39a3.7 3.7 0 1 0 7.4 0a3.7 3.7 0 1 0 -7.4 0ZM662.99 2232.17a3.7 3.7 0 1 0 7.4 0a3.7 3.7 0 1 0 -7.4 0ZM663.56 2230.58a3.7 3.7 0 1 0 7.4 0a3.7 3.7 0 1 0 -7.4 0ZM664.12 2230.62a3.7 3.7 0 1 0 7.4 0a3.7 3.7 0 1 0 -7.4 0ZM664.68 2230.94a3.7 3.7 0 1 0 7.4 0a3.7 3.7 0 1 0 -7.4 0ZM665.25 2231.44a3.7 3.7 0 1 0 7.4 0a3.7 3.7 0 1 0 -7.4 0ZM665.81 2232.03a3.7 3.7 0 1 0 7.4 0a3.7 3.7 0 1 0 -7.4 0ZM666.38 2230.95a3.7 3.7 0 1 0 7.4 0a3.7 3.7 0 1 0 -7.4 0ZM666.94 2232.78a3.7 3.7 0 1 0 7.4 0a3.7 3.7 0 1 0 -7.4 0ZM667.51 2230.84a3.7 3.7 0 1 0 7.4 0a3.7 3.7 0 1 0 -7.4 0ZM668.07 2232.18a3.7 3.7 0 1 0 7.4 0a3.7 3.7 0 1 0 -7.4 0ZM668.63 2232.62a3.7 3.7 0 1 0 7.4 0a3.7 3.7 0 1 0 -7.4 0ZM669.2 2231.89a3.7 3.7 0 1 0 7.4 0a3.7 3.7 0 1 0 -7.4 0ZM669.76 2232.26a3.7 3.7 0 1 0 7.4 0a3.7 3.7 0 1 0 -7.4 0ZM670.33 2232.16a3.7 3.7 0 1 0 7.4 0a3.7 3.7 0 1 0 -7.4 0ZM670.89 2232.97a3.7 3.7 0 1 0 7.4 0a3.7 3.7 0 1 0 -7.4 0ZM671.46 2232.5a3.7 3.7 0 1 0 7.4 0a3.7 3.7 0 1 0 -7.4 0ZM672.02 2231.9a3.7 3.7 0 1 0 7.4 0a3.7 3.7 0 1 0 -7.4 0ZM672.58 2232.59a3.7 3.7 0 1 0 7.4 0a3.7 3.7 0 1 0 -7.4 0ZM673.15 2231.26a3.7 3.7 0 1 0 7.4 0a3.7 3.7 0 1 0 -7.4 0ZM673.71 2232.28a3.7 3.7 0 1 0 7.4 0a3.7 3.7 0 1 0 -7.4 0ZM674.28 2233.62a3.7 3.7 0 1 0 7.4 0a3.7 3.7 0 1 0 -7.4 0ZM674.84 2232.09a3.7 3.7 0 1 0 7.4 0a3.7 3.7 0 1 0 -7.4 0ZM675.41 2233.09a3.7 3.7 0 1 0 7.4 0a3.7 3.7 0 1 0 -7.4 0ZM675.97 2231.55a3.7 3.7 0 1 0 7.4 0a3.7 3.7 0 1 0 -7.4 0ZM676.53 2232.57a3.7 3.7 0 1 0 7.4 0a3.7 3.7 0 1 0 -7.4 0ZM677.1 2233.07a3.7 3.7 0 1 0 7.4 0a3.7 3.7 0 1 0 -7.4 0ZM677.66 2233.28a3.7 3.7 0 1 0 7.4 0a3.7 3.7 0 1 0 -7.4 0ZM678.23 2232.79a3.7 3.7 0 1 0 7.4 0a3.7 3.7 0 1 0 -7.4 0ZM678.79 2232.35a3.7 3.7 0 1 0 7.4 0a3.7 3.7 0 1 0 -7.4 0ZM679.36 2234.44a3.7 3.7 0 1 0 7.4 0a3.7 3.7 0 1 0 -7.4 0ZM679.92 2233.46a3.7 3.7 0 1 0 7.4 0a3.7 3.7 0 1 0 -7.4 0ZM680.48 2232.55a3.7 3.7 0 1 0 7.4 0a3.7 3.7 0 1 0 -7.4 0ZM681.05 2234.56a3.7 3.7 0 1 0 7.4 0a3.7 3.7 0 1 0 -7.4 0ZM681.61 2232.71a3.7 3.7 0 1 0 7.4 0a3.7 3.7 0 1 0 -7.4 0ZM682.18 2233.38a3.7 3.7 0 1 0 7.4 0a3.7 3.7 0 1 0 -7.4 0ZM682.74 2232.76a3.7 3.7 0 1 0 7.4 0a3.7 3.7 0 1 0 -7.4 0ZM683.31 2233.25a3.7 3.7 0 1 0 7.4 0a3.7 3.7 0 1 0 -7.4 0ZM683.87 2234.15a3.7 3.7 0 1 0 7.4 0a3.7 3.7 0 1 0 -7.4 0ZM684.43 2233.69a3.7 3.7 0 1 0 7.4 0a3.7 3.7 0 1 0 -7.4 0ZM685 2234.63a3.7 3.7 0 1 0 7.4 0a3.7 3.7 0 1 0 -7.4 0ZM685.56 2232.86a3.7 3.7 0 1 0 7.4 0a3.7 3.7 0 1 0 -7.4 0ZM686.13 2233.73a3.7 3.7 0 1 0 7.4 0a3.7 3.7 0 1 0 -7.4 0ZM686.69 2234.14a3.7 3.7 0 1 0 7.4 0a3.7 3.7 0 1 0 -7.4 0ZM687.25 2234.73a3.7 3.7 0 1 0 7.4 0a3.7 3.7 0 1 0 -7.4 0ZM687.82 2233.44a3.7 3.7 0 1 0 7.4 0a3.7 3.7 0 1 0 -7.4 0ZM688.38 2235.26a3.7 3.7 0 1 0 7.4 0a3.7 3.7 0 1 0 -7.4 0ZM688.95 2233.6a3.7 3.7 0 1 0 7.4 0a3.7 3.7 0 1 0 -7.4 0ZM689.51 2234.14a3.7 3.7 0 1 0 7.4 0a3.7 3.7 0 1 0 -7.4 0ZM690.08 2233.44a3.7 3.7 0 1 0 7.4 0a3.7 3.7 0 1 0 -7.4 0ZM690.64 2234.52a3.7 3.7 0 1 0 7.4 0a3.7 3.7 0 1 0 -7.4 0ZM691.2 2235.29a3.7 3.7 0 1 0 7.4 0a3.7 3.7 0 1 0 -7.4 0ZM691.77 2235.37a3.7 3.7 0 1 0 7.4 0a3.7 3.7 0 1 0 -7.4 0ZM692.33 2234.97a3.7 3.7 0 1 0 7.4 0a3.7 3.7 0 1 0 -7.4 0ZM692.9 2234.93a3.7 3.7 0 1 0 7.4 0a3.7 3.7 0 1 0 -7.4 0ZM693.46 2235.62a3.7 3.7 0 1 0 7.4 0a3.7 3.7 0 1 0 -7.4 0ZM694.03 2233.56a3.7 3.7 0 1 0 7.4 0a3.7 3.7 0 1 0 -7.4 0ZM694.59 2235.85a3.7 3.7 0 1 0 7.4 0a3.7 3.7 0 1 0 -7.4 0ZM695.15 2234.2a3.7 3.7 0 1 0 7.4 0a3.7 3.7 0 1 0 -7.4 0ZM695.72 2234.73a3.7 3.7 0 1 0 7.4 0a3.7 3.7 0 1 0 -7.4 0ZM696.28 2234.99a3.7 3.7 0 1 0 7.4 0a3.7 3.7 0 1 0 -7.4 0ZM696.85 2236.26a3.7 3.7 0 1 0 7.4 0a3.7 3.7 0 1 0 -7.4 0ZM697.41 2234.23a3.7 3.7 0 1 0 7.4 0a3.7 3.7 0 1 0 -7.4 0ZM697.98 2235.04a3.7 3.7 0 1 0 7.4 0a3.7 3.7 0 1 0 -7.4 0ZM698.54 2234.57a3.7 3.7 0 1 0 7.4 0a3.7 3.7 0 1 0 -7.4 0ZM699.1 2234.21a3.7 3.7 0 1 0 7.4 0a3.7 3.7 0 1 0 -7.4 0ZM699.67 2234.58a3.7 3.7 0 1 0 7.4 0a3.7 3.7 0 1 0 -7.4 0ZM700.23 2236.05a3.7 3.7 0 1 0 7.4 0a3.7 3.7 0 1 0 -7.4 0ZM700.8 2236.24a3.7 3.7 0 1 0 7.4 0a3.7 3.7 0 1 0 -7.4 0ZM701.36 2236.59a3.7 3.7 0 1 0 7.4 0a3.7 3.7 0 1 0 -7.4 0ZM701.93 2235.47a3.7 3.7 0 1 0 7.4 0a3.7 3.7 0 1 0 -7.4 0ZM702.49 2235.77a3.7 3.7 0 1 0 7.4 0a3.7 3.7 0 1 0 -7.4 0ZM703.05 2234.7a3.7 3.7 0 1 0 7.4 0a3.7 3.7 0 1 0 -7.4 0ZM703.62 2235.54a3.7 3.7 0 1 0 7.4 0a3.7 3.7 0 1 0 -7.4 0ZM704.18 2236.79a3.7 3.7 0 1 0 7.4 0a3.7 3.7 0 1 0 -7.4 0ZM704.75 2236.5a3.7 3.7 0 1 0 7.4 0a3.7 3.7 0 1 0 -7.4 0ZM705.31 2235.6a3.7 3.7 0 1 0 7.4 0a3.7 3.7 0 1 0 -7.4 0ZM705.88 2235.57a3.7 3.7 0 1 0 7.4 0a3.7 3.7 0 1 0 -7.4 0ZM706.44 2236.17a3.7 3.7 0 1 0 7.4 0a3.7 3.7 0 1 0 -7.4 0ZM707 2234.93a3.7 3.7 0 1 0 7.4 0a3.7 3.7 0 1 0 -7.4 0ZM707.57 2236.84a3.7 3.7 0 1 0 7.4 0a3.7 3.7 0 1 0 -7.4 0ZM708.13 2236.8a3.7 3.7 0 1 0 7.4 0a3.7 3.7 0 1 0 -7.4 0ZM708.7 2235.24a3.7 3.7 0 1 0 7.4 0a3.7 3.7 0 1 0 -7.4 0ZM709.26 2235.45a3.7 3.7 0 1 0 7.4 0a3.7 3.7 0 1 0 -7.4 0ZM709.83 2235.63a3.7 3.7 0 1 0 7.4 0a3.7 3.7 0 1 0 -7.4 0ZM710.39 2236.02a3.7 3.7 0 1 0 7.4 0a3.7 3.7 0 1 0 -7.4 0ZM710.95 2237.55a3.7 3.7 0 1 0 7.4 0a3.7 3.7 0 1 0 -7.4 0ZM711.52 2235.85a3.7 3.7 0 1 0 7.4 0a3.7 3.7 0 1 0 -7.4 0ZM712.08 2236.1a3.7 3.7 0 1 0 7.4 0a3.7 3.7 0 1 0 -7.4 0ZM712.65 2236.36a3.7 3.7 0 1 0 7.4 0a3.7 3.7 0 1 0 -7.4 0ZM713.21 2237.62a3.7 3.7 0 1 0 7.4 0a3.7 3.7 0 1 0 -7.4 0ZM713.77 2237.29a3.7 3.7 0 1 0 7.4 0a3.7 3.7 0 1 0 -7.4 0ZM714.34 2236.78a3.7 3.7 0 1 0 7.4 0a3.7 3.7 0 1 0 -7.4 0ZM714.9 2237.44a3.7 3.7 0 1 0 7.4 0a3.7 3.7 0 1 0 -7.4 0ZM715.47 2236.39a3.7 3.7 0 1 0 7.4 0a3.7 3.7 0 1 0 -7.4 0ZM716.03 2236.27a3.7 3.7 0 1 0 7.4 0a3.7 3.7 0 1 0 -7.4 0ZM716.6 2237.95a3.7 3.7 0 1 0 7.4 0a3.7 3.7 0 1 0 -7.4 0ZM717.16 2237.46a3.7 3.7 0 1 0 7.4 0a3.7 3.7 0 1 0 -7.4 0ZM717.72 2235.82a3.7 3.7 0 1 0 7.4 0a3.7 3.7 0 1 0 -7.4 0ZM718.29 2237.61a3.7 3.7 0 1 0 7.4 0a3.7 3.7 0 1 0 -7.4 0ZM718.85 2237.7a3.7 3.7 0 1 0 7.4 0a3.7 3.7 0 1 0 -7.4 0ZM719.42 2235.81a3.7 3.7 0 1 0 7.4 0a3.7 3.7 0 1 0 -7.4 0ZM719.98 2236.76a3.7 3.7 0 1 0 7.4 0a3.7 3.7 0 1 0 -7.4 0ZM720.55 2235.81a3.7 3.7 0 1 0 7.4 0a3.7 3.7 0 1 0 -7.4 0ZM721.11 2236.27a3.7 3.7 0 1 0 7.4 0a3.7 3.7 0 1 0 -7.4 0ZM721.67 2237.26a3.7 3.7 0 1 0 7.4 0a3.7 3.7 0 1 0 -7.4 0ZM722.24 2236a3.7 3.7 0 1 0 7.4 0a3.7 3.7 0 1 0 -7.4 0ZM722.8 2237.4a3.7 3.7 0 1 0 7.4 0a3.7 3.7 0 1 0 -7.4 0ZM723.37 2237.07a3.7 3.7 0 1 0 7.4 0a3.7 3.7 0 1 0 -7.4 0ZM723.93 2237.33a3.7 3.7 0 1 0 7.4 0a3.7 3.7 0 1 0 -7.4 0ZM724.5 2235.59a3.7 3.7 0 1 0 7.4 0a3.7 3.7 0 1 0 -7.4 0ZM725.06 2237.25a3.7 3.7 0 1 0 7.4 0a3.7 3.7 0 1 0 -7.4 0ZM725.62 2236.85a3.7 3.7 0 1 0 7.4 0a3.7 3.7 0 1 0 -7.4 0ZM726.19 2237.33a3.7 3.7 0 1 0 7.4 0a3.7 3.7 0 1 0 -7.4 0ZM726.75 2237.45a3.7 3.7 0 1 0 7.4 0a3.7 3.7 0 1 0 -7.4 0ZM727.32 2235.9a3.7 3.7 0 1 0 7.4 0a3.7 3.7 0 1 0 -7.4 0ZM727.88 2236.35a3.7 3.7 0 1 0 7.4 0a3.7 3.7 0 1 0 -7.4 0ZM728.45 2236.87a3.7 3.7 0 1 0 7.4 0a3.7 3.7 0 1 0 -7.4 0ZM729.01 2236.58a3.7 3.7 0 1 0 7.4 0a3.7 3.7 0 1 0 -7.4 0ZM729.57 2234.97a3.7 3.7 0 1 0 7.4 0a3.7 3.7 0 1 0 -7.4 0ZM730.14 2237.2a3.7 3.7 0 1 0 7.4 0a3.7 3.7 0 1 0 -7.4 0ZM730.7 2235.18a3.7 3.7 0 1 0 7.4 0a3.7 3.7 0 1 0 -7.4 0ZM731.27 2235.58a3.7 3.7 0 1 0 7.4 0a3.7 3.7 0 1 0 -7.4 0ZM731.83 2234.92a3.7 3.7 0 1 0 7.4 0a3.7 3.7 0 1 0 -7.4 0ZM732.39 2235.33a3.7 3.7 0 1 0 7.4 0a3.7 3.7 0 1 0 -7.4 0ZM732.96 2236.97a3.7 3.7 0 1 0 7.4 0a3.7 3.7 0 1 0 -7.4 0ZM733.52 2235.21a3.7 3.7 0 1 0 7.4 0a3.7 3.7 0 1 0 -7.4 0ZM734.09 2236.81a3.7 3.7 0 1 0 7.4 0a3.7 3.7 0 1 0 -7.4 0ZM734.65 2234.97a3.7 3.7 0 1 0 7.4 0a3.7 3.7 0 1 0 -7.4 0ZM735.22 2235.79a3.7 3.7 0 1 0 7.4 0a3.7 3.7 0 1 0 -7.4 0ZM735.78 2236.75a3.7 3.7 0 1 0 7.4 0a3.7 3.7 0 1 0 -7.4 0ZM736.34 2235.39a3.7 3.7 0 1 0 7.4 0a3.7 3.7 0 1 0 -7.4 0ZM736.91 2236.95a3.7 3.7 0 1 0 7.4 0a3.7 3.7 0 1 0 -7.4 0ZM737.47 2235.65a3.7 3.7 0 1 0 7.4 0a3.7 3.7 0 1 0 -7.4 0ZM738.04 2236.52a3.7 3.7 0 1 0 7.4 0a3.7 3.7 0 1 0 -7.4 0ZM738.6 2235.7a3.7 3.7 0 1 0 7.4 0a3.7 3.7 0 1 0 -7.4 0ZM739.17 2235.23a3.7 3.7 0 1 0 7.4 0a3.7 3.7 0 1 0 -7.4 0ZM739.73 2236.78a3.7 3.7 0 1 0 7.4 0a3.7 3.7 0 1 0 -7.4 0ZM740.29 2235.49a3.7 3.7 0 1 0 7.4 0a3.7 3.7 0 1 0 -7.4 0ZM740.86 2235.54a3.7 3.7 0 1 0 7.4 0a3.7 3.7 0 1 0 -7.4 0ZM741.42 2235.35a3.7 3.7 0 1 0 7.4 0a3.7 3.7 0 1 0 -7.4 0ZM741.99 2235.3a3.7 3.7 0 1 0 7.4 0a3.7 3.7 0 1 0 -7.4 0ZM742.55 2236.2a3.7 3.7 0 1 0 7.4 0a3.7 3.7 0 1 0 -7.4 0ZM743.12 2235.18a3.7 3.7 0 1 0 7.4 0a3.7 3.7 0 1 0 -7.4 0ZM743.68 2235.31a3.7 3.7 0 1 0 7.4 0a3.7 3.7 0 1 0 -7.4 0ZM744.24 2237.05a3.7 3.7 0 1 0 7.4 0a3.7 3.7 0 1 0 -7.4 0ZM744.81 2236.63a3.7 3.7 0 1 0 7.4 0a3.7 3.7 0 1 0 -7.4 0ZM745.37 2236.65a3.7 3.7 0 1 0 7.4 0a3.7 3.7 0 1 0 -7.4 0ZM745.94 2237.59a3.7 3.7 0 1 0 7.4 0a3.7 3.7 0 1 0 -7.4 0ZM746.5 2236.52a3.7 3.7 0 1 0 7.4 0a3.7 3.7 0 1 0 -7.4 0ZM747.07 2237.36a3.7 3.7 0 1 0 7.4 0a3.7 3.7 0 1 0 -7.4 0ZM747.63 2235.65a3.7 3.7 0 1 0 7.4 0a3.7 3.7 0 1 0 -7.4 0ZM748.19 2236.91a3.7 3.7 0 1 0 7.4 0a3.7 3.7 0 1 0 -7.4 0ZM748.76 2236.79a3.7 3.7 0 1 0 7.4 0a3.7 3.7 0 1 0 -7.4 0ZM749.32 2237.62a3.7 3.7 0 1 0 7.4 0a3.7 3.7 0 1 0 -7.4 0ZM749.89 2235.13a3.7 3.7 0 1 0 7.4 0a3.7 3.7 0 1 0 -7.4 0ZM750.45 2235.98a3.7 3.7 0 1 0 7.4 0a3.7 3.7 0 1 0 -7.4 0ZM751.02 2235.66a3.7 3.7 0 1 0 7.4 0a3.7 3.7 0 1 0 -7.4 0ZM751.58 2234.33a3.7 3.7 0 1 0 7.4 0a3.7 3.7 0 1 0 -7.4 0ZM752.14 2235.84a3.7 3.7 0 1 0 7.4 0a3.7 3.7 0 1 0 -7.4 0ZM752.71 2235.46a3.7 3.7 0 1 0 7.4 0a3.7 3.7 0 1 0 -7.4 0ZM753.27 2235.61a3.7 3.7 0 1 0 7.4 0a3.7 3.7 0 1 0 -7.4 0ZM753.84 2234.1a3.7 3.7 0 1 0 7.4 0a3.7 3.7 0 1 0 -7.4 0ZM754.4 2235.13a3.7 3.7 0 1 0 7.4 0a3.7 3.7 0 1 0 -7.4 0ZM754.96 2233.82a3.7 3.7 0 1 0 7.4 0a3.7 3.7 0 1 0 -7.4 0ZM755.53 2233.33a3.7 3.7 0 1 0 7.4 0a3.7 3.7 0 1 0 -7.4 0ZM756.09 2233.54a3.7 3.7 0 1 0 7.4 0a3.7 3.7 0 1 0 -7.4 0ZM756.66 2235.62a3.7 3.7 0 1 0 7.4 0a3.7 3.7 0 1 0 -7.4 0ZM757.22 2235.3a3.7 3.7 0 1 0 7.4 0a3.7 3.7 0 1 0 -7.4 0ZM757.79 2236.23a3.7 3.7 0 1 0 7.4 0a3.7 3.7 0 1 0 -7.4 0ZM758.35 2236.52a3.7 3.7 0 1 0 7.4 0a3.7 3.7 0 1 0 -7.4 0ZM758.91 2236.7a3.7 3.7 0 1 0 7.4 0a3.7 3.7 0 1 0 -7.4 0ZM759.48 2238.06a3.7 3.7 0 1 0 7.4 0a3.7 3.7 0 1 0 -7.4 0ZM760.04 2237.47a3.7 3.7 0 1 0 7.4 0a3.7 3.7 0 1 0 -7.4 0ZM760.61 2237.21a3.7 3.7 0 1 0 7.4 0a3.7 3.7 0 1 0 -7.4 0ZM761.17 2237.92a3.7 3.7 0 1 0 7.4 0a3.7 3.7 0 1 0 -7.4 0ZM761.74 2236.96a3.7 3.7 0 1 0 7.4 0a3.7 3.7 0 1 0 -7.4 0ZM762.3 2237.69a3.7 3.7 0 1 0 7.4 0a3.7 3.7 0 1 0 -7.4 0ZM762.86 2236.86a3.7 3.7 0 1 0 7.4 0a3.7 3.7 0 1 0 -7.4 0ZM763.43 2237.76a3.7 3.7 0 1 0 7.4 0a3.7 3.7 0 1 0 -7.4 0ZM763.99 2237.28a3.7 3.7 0 1 0 7.4 0a3.7 3.7 0 1 0 -7.4 0ZM764.56 2236.48a3.7 3.7 0 1 0 7.4 0a3.7 3.7 0 1 0 -7.4 0ZM765.12 2236.35a3.7 3.7 0 1 0 7.4 0a3.7 3.7 0 1 0 -7.4 0ZM765.69 2237.67a3.7 3.7 0 1 0 7.4 0a3.7 3.7 0 1 0 -7.4 0ZM766.25 2235.98a3.7 3.7 0 1 0 7.4 0a3.7 3.7 0 1 0 -7.4 0Z" fill="#f04040"/>
</g>
<path d="M149.27 1734.99V2283.86M148.27 2282.86H827.38M149.27 2243.8h-10.9M149.27 2165.68h-10.9M149.27 2087.55h-10.9M149.27 2009.43h-10.9M149.27 1931.3h-10.9M149.27 1853.18h-10.9M149.27 1775.05h-10.9M149.27 2282.86h-5.2M149.27 2204.74h-5.2M149.27 2126.61h-5.2M149.27 2048.49h-5.2M149.27 1970.36h-5.2M149.27 1892.24h-5.2M149.27 1814.11h-5.2M149.27 1735.99h-5.2M205.7 2282.86v10.9M318.55 2282.86v10.9M431.4 2282.86v10.9M544.25 2282.86v10.9M657.1 2282.86v10.9M769.95 2282.86v10.9M149.27 2282.86v5.2M262.12 2282.86v5.2M374.98 2282.86v5.2M487.82 2282.86v5.2M600.67 2282.86v5.2M713.53 2282.86v5.2M826.38 2282.86v5.2" stroke="#000" stroke-width="2" fill="none"/>
<text x="130.97" y="2252.47" font-size="28.6" text-anchor="end">0</text>
<text x="130.97" y="2174.34" font-size="28.6" text-anchor="end">500</text>
<text x="130.97" y="2096.22" font-size="28.6" text-anchor="end">1000</text>
<text x="130.97" y="2018.09" font-size="28.6" text-anchor="end">1500</text>
<text x="130.97" y="1939.97" font-size="28.6" text-anchor="end">2000</text>
<text x="130.97" y="1861.84" font-size="28.6" text-anchor="end">2500</text>
<text x="130.97" y="1783.72" font-size="28.6" text-anchor="end">3000</text>
<text x="205.7" y="2322.4" font-size="28.6" text-anchor="middle">0</text>
<text x="318.55" y="2322.4" font-size="28.6" text-anchor="middle">200</text>
<text x="431.4" y="2322.4" font-size="28.6" text-anchor="middle">400</text>
<text x="544.25" y="2322.4" font-size="28.6" text-anchor="middle">600</text>
<text x="657.1" y="2322.4" font-size="28.6" text-anchor="middle">800</text>
<text x="769.95" y="2322.4" font-size="28.6" text-anchor="middle">1000</text>
<text x="487.82" y="2373.7" font-size="33.4" text-anchor="middle">fre (Hz<tspan dx="1.2">)</tspan></text>
<text transform="translate(39.6 2333) rotate(-90)" font-size="33.4">Peak-to-peak value of electromagnetic force (N<tspan dx="2">)</tspan></text>
<rect x="362.5" y="1727.9" width="541.4" height="86.8" fill="#fff" stroke="#222" stroke-width="1.1"/>
<path d="M367 1750.6H442.3" stroke="#0000ff" stroke-width="1.6"/>
<path d="M400.25 1753.6L409.05 1753.6L404.65 1745.3Z" fill="#0000ff"/>
<path d="M367 1792.6H442.3" stroke="#f04040" stroke-width="1.6"/>
<circle cx="404.65" cy="1792.6" r="3.7" fill="#f04040"/>
<text x="451.9" y="1761.96" font-size="33.4">0.5mm+5A-DC+5A-AC Group 1</text>
<text x="451.9" y="1803.96" font-size="33.4">0.5mm+5A-DC+5A-AC Group 2</text>
</g>
</svg>
<div class="cap j" style="top:701.32px">(a) Gap is 0.8 mm, input current DC component 5 A,</div>
<div class="cap" style="top:749.82px">and AC component 5 A.</div>
<div class="cap j" style="top:1556.22px">(b) Gap is 0.8 mm, input current DC component 5 A,</div>
<div class="cap" style="top:1604.72px">and AC component 2 A.</div>
<div class="cap j" style="top:2410.92px">(c) Gap is 0.5 mm, input current DC component 5 A,</div>
<div class="cap" style="top:2459.42px">AC component 5 A.</div>
</body></html>
